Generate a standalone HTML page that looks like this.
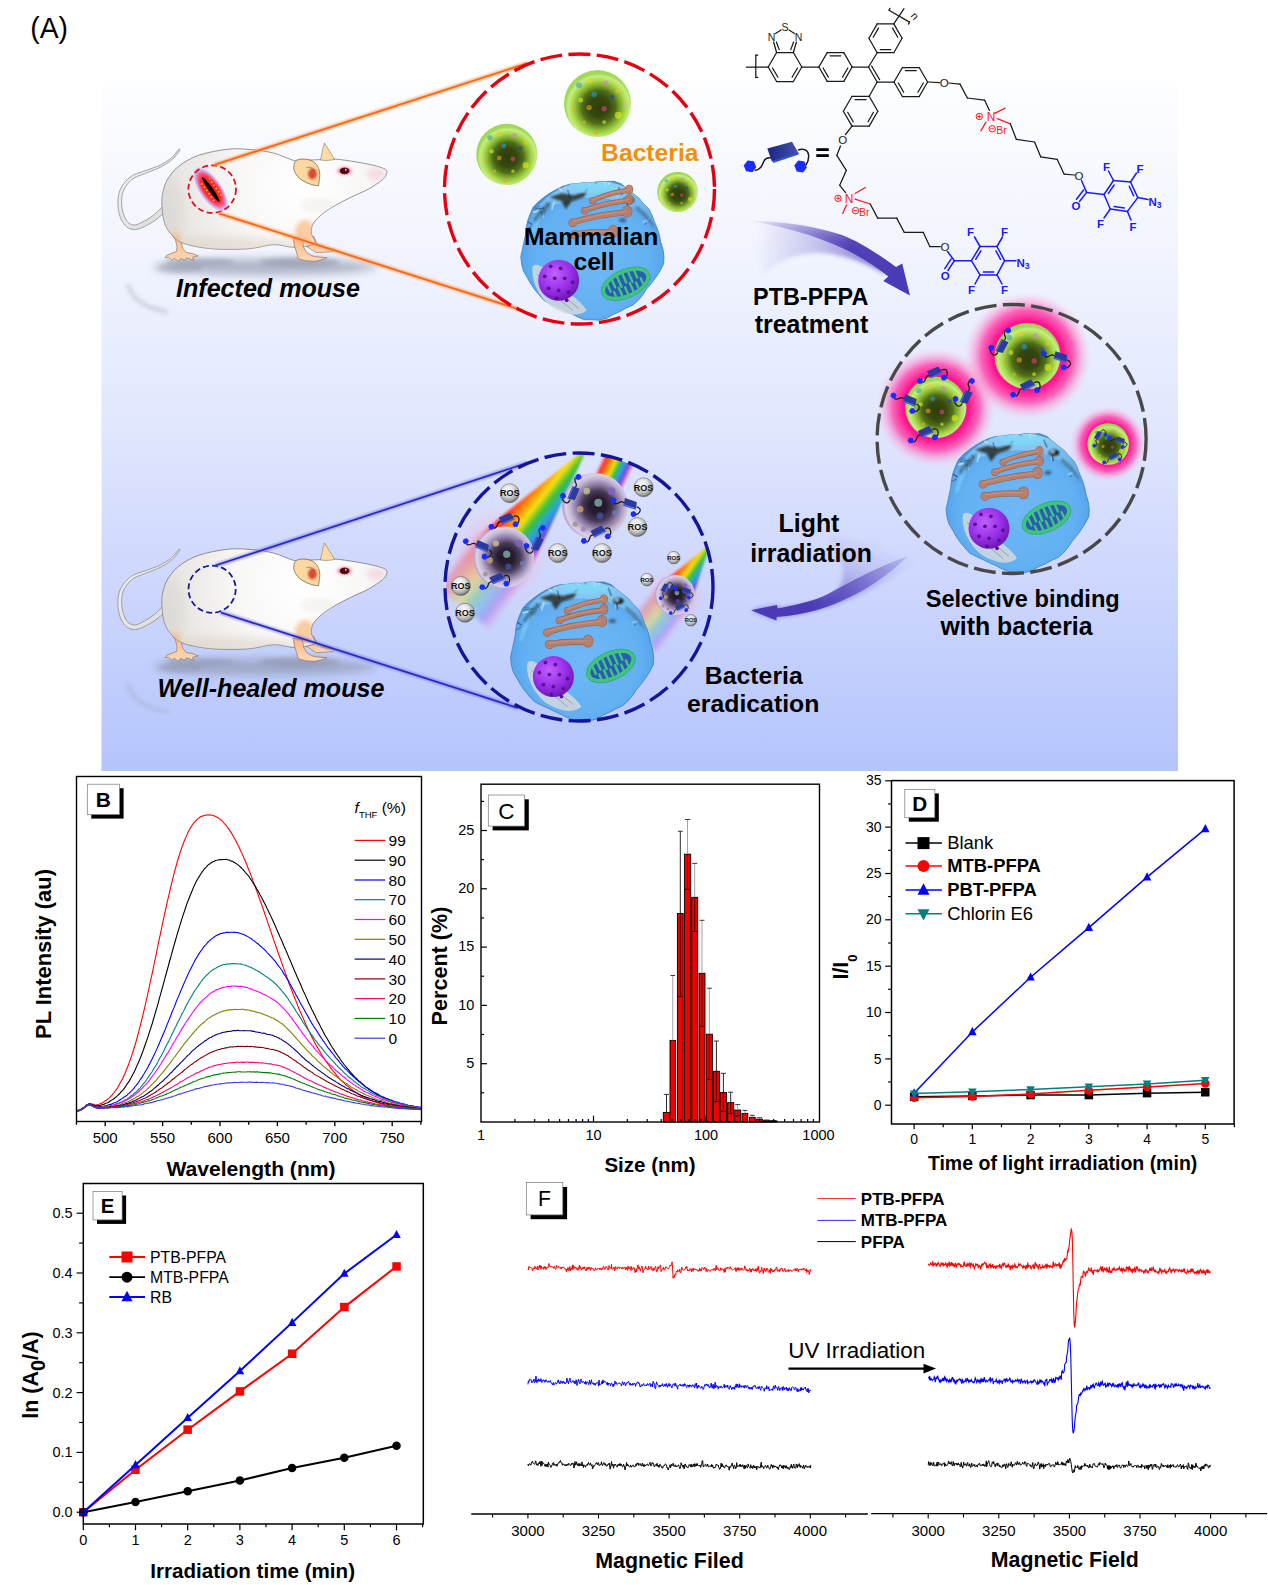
<!DOCTYPE html>
<html><head><meta charset="utf-8"><title>Figure</title>
<style>
html,body{margin:0;padding:0;background:#fff;}
#fig{position:relative;width:1268px;height:1585px;overflow:hidden;background:#fff;}
svg{display:block;font-family:"Liberation Sans", sans-serif;}
</style></head>
<body><div id="fig">
<svg width="1268" height="1585" viewBox="0 0 1268 1585" font-family="Liberation Sans, sans-serif">
<defs>
<linearGradient id="bg" x1="0" y1="0" x2="0" y2="1">
<stop offset="0" stop-color="#fcfdff"/>
<stop offset="0.25" stop-color="#f1f4fe"/>
<stop offset="0.5" stop-color="#e0e6fd"/>
<stop offset="0.75" stop-color="#cbd5fd"/>
<stop offset="1" stop-color="#b4c4fc"/>
</linearGradient>
<radialGradient id="gBact" cx="0.52" cy="0.55" r="0.5">
<stop offset="0" stop-color="#2e3e0c"/>
<stop offset="0.3" stop-color="#36480f"/>
<stop offset="0.5" stop-color="#4e6c18"/>
<stop offset="0.66" stop-color="#84b030"/>
<stop offset="0.8" stop-color="#acdc50"/>
<stop offset="0.92" stop-color="#c6ee80"/>
<stop offset="1" stop-color="#a2d858"/>
</radialGradient>
<radialGradient id="gDead" cx="0.54" cy="0.5" r="0.52">
<stop offset="0" stop-color="#1e1428"/>
<stop offset="0.25" stop-color="#281c30"/>
<stop offset="0.45" stop-color="#4a3c5a"/>
<stop offset="0.62" stop-color="#8a7aa0"/>
<stop offset="0.8" stop-color="#c4b6d4"/>
<stop offset="0.93" stop-color="#dcd2e8"/>
<stop offset="1" stop-color="#b8a8cc"/>
</radialGradient>
<radialGradient id="gHaze" cx="0.5" cy="0.5" r="0.5">
<stop offset="0" stop-color="#ff80b0" stop-opacity="0.55"/>
<stop offset="0.6" stop-color="#ffa0c8" stop-opacity="0.35"/>
<stop offset="1" stop-color="#ffc0e0" stop-opacity="0"/>
</radialGradient>
<radialGradient id="gCell" cx="0.5" cy="0.55" r="0.55">
<stop offset="0" stop-color="#70b8f6"/>
<stop offset="0.75" stop-color="#62b0f2"/>
<stop offset="0.92" stop-color="#56a4ea"/>
<stop offset="1" stop-color="#4a90d8"/>
</radialGradient>
<linearGradient id="gGlass" x1="0" y1="0" x2="0" y2="1">
<stop offset="0" stop-color="#a0dcf8" stop-opacity="0.9"/>
<stop offset="1" stop-color="#80c8f4" stop-opacity="0"/>
</linearGradient>
<radialGradient id="gPink" cx="0.5" cy="0.5" r="0.5">
<stop offset="0" stop-color="#ff0a86"/>
<stop offset="0.55" stop-color="#ff1490"/>
<stop offset="0.72" stop-color="#ff40a8" stop-opacity="0.8"/>
<stop offset="0.88" stop-color="#ff90d0" stop-opacity="0.35"/>
<stop offset="1" stop-color="#ffc0e8" stop-opacity="0"/>
</radialGradient>
<radialGradient id="gRos" cx="0.42" cy="0.35" r="0.65">
<stop offset="0" stop-color="#ffffff"/>
<stop offset="0.45" stop-color="#e0e0e0"/>
<stop offset="0.8" stop-color="#a8a8a8"/>
<stop offset="1" stop-color="#6a6a6a"/>
</radialGradient>
<radialGradient id="gNuc" cx="0.4" cy="0.35" r="0.65">
<stop offset="0" stop-color="#c060ff"/>
<stop offset="0.6" stop-color="#9a30ea"/>
<stop offset="1" stop-color="#7018b8"/>
</radialGradient>
<linearGradient id="gMouse" x1="0" y1="0" x2="0" y2="1">
<stop offset="0" stop-color="#fbfbfb"/>
<stop offset="0.6" stop-color="#f6f4f2"/>
<stop offset="1" stop-color="#e8e4e0"/>
</linearGradient>
<radialGradient id="gWound" cx="0.5" cy="0.5" r="0.5">
<stop offset="0" stop-color="#ff1020"/>
<stop offset="0.55" stop-color="#ff2838"/>
<stop offset="0.72" stop-color="#ff5080" stop-opacity="0.9"/>
<stop offset="0.86" stop-color="#b0a0ff" stop-opacity="0.7"/>
<stop offset="1" stop-color="#c0b0ff" stop-opacity="0"/>
</radialGradient>
<linearGradient id="gArrow1" x1="751" y1="225" x2="900" y2="275" gradientUnits="userSpaceOnUse">
<stop offset="0" stop-color="#5040b8" stop-opacity="0.05"/>
<stop offset="0.35" stop-color="#5040b8" stop-opacity="0.45"/>
<stop offset="0.65" stop-color="#4a3ab5" stop-opacity="0.95"/>
<stop offset="1" stop-color="#4a3ab5"/>
</linearGradient>
<linearGradient id="gArrow1f" x1="755" y1="250" x2="880" y2="262" gradientUnits="userSpaceOnUse">
<stop offset="0" stop-color="#6050c8" stop-opacity="0.0"/>
<stop offset="0.5" stop-color="#5a4ac4" stop-opacity="0.3"/>
<stop offset="1" stop-color="#5040b8" stop-opacity="0.7"/>
</linearGradient>
<linearGradient id="gArrow2" x1="860" y1="535" x2="830" y2="605" gradientUnits="userSpaceOnUse">
<stop offset="0" stop-color="#6050c8" stop-opacity="0.0"/>
<stop offset="0.4" stop-color="#5a4ac4" stop-opacity="0.25"/>
<stop offset="0.8" stop-color="#5040b8" stop-opacity="0.7"/>
<stop offset="1" stop-color="#4a3ab5" stop-opacity="0.9"/>
</linearGradient>
<linearGradient id="gArrow2b" x1="915" y1="555" x2="770" y2="612" gradientUnits="userSpaceOnUse">
<stop offset="0" stop-color="#5040b8" stop-opacity="0.1"/>
<stop offset="0.4" stop-color="#5040b8" stop-opacity="0.6"/>
<stop offset="0.75" stop-color="#4a3ab5" stop-opacity="1"/>
<stop offset="1" stop-color="#4a3ab5"/>
</linearGradient>
<linearGradient id="gOrange" x1="0" y1="0" x2="1" y2="0">
<stop offset="0" stop-color="#ff7020"/>
<stop offset="1" stop-color="#ff8a40"/>
</linearGradient>
<linearGradient id="gRain" x1="0" y1="1" x2="0" y2="0">
<stop offset="0" stop-color="#ff3060" stop-opacity="0"/>
<stop offset="0.12" stop-color="#ff2020"/>
<stop offset="0.28" stop-color="#ff8000"/>
<stop offset="0.42" stop-color="#ffe000"/>
<stop offset="0.56" stop-color="#30c030"/>
<stop offset="0.7" stop-color="#20a0e0"/>
<stop offset="0.84" stop-color="#6040e0"/>
<stop offset="0.94" stop-color="#e040c0" stop-opacity="0.7"/>
<stop offset="1" stop-color="#e040c0" stop-opacity="0"/>
</linearGradient>
<filter id="blur2" x="-50%" y="-50%" width="200%" height="200%"><feGaussianBlur stdDeviation="2"/></filter>
<filter id="blur4" x="-50%" y="-50%" width="200%" height="200%"><feGaussianBlur stdDeviation="4"/></filter>
<filter id="blur1" x="-50%" y="-50%" width="200%" height="200%"><feGaussianBlur stdDeviation="1"/></filter>
<g id="mouse">
<radialGradient id="gMBody" cx="300" cy="185" r="150" gradientUnits="userSpaceOnUse"><stop offset="0" stop-color="#ffffff"/><stop offset="0.45" stop-color="#f8f7f6"/><stop offset="0.8" stop-color="#e9e6e3"/><stop offset="1" stop-color="#dedad6"/></radialGradient>
<linearGradient id="gTail" x1="0" y1="0" x2="1" y2="1"><stop offset="0" stop-color="#f4f4f4"/><stop offset="1" stop-color="#d8d8d8"/></linearGradient>
<linearGradient id="gLeg" x1="0" y1="0" x2="0" y2="1"><stop offset="0" stop-color="#f8b888"/><stop offset="1" stop-color="#fbd8b8"/></linearGradient>
<ellipse cx="265" cy="267" rx="112" ry="8.5" fill="#8890a6" opacity="0.6" filter="url(#blur4)"/>
<ellipse cx="300" cy="262" rx="40" ry="5" fill="#8890a6" opacity="0.5" filter="url(#blur2)"/>
<ellipse cx="200" cy="262" rx="35" ry="4" fill="#8890a6" opacity="0.45" filter="url(#blur2)"/>
<path d="M128,284 C131,298 144,308 168,312" stroke="#a4aabc" stroke-width="4" fill="none" opacity="0.45" filter="url(#blur2)"/>
<ellipse cx="180" cy="268" rx="22" ry="5" fill="#8890a6" opacity="0.35" filter="url(#blur2)"/>
<path d="M164.5,204.5 L163.9,205.1 L163.2,205.9 L162.3,206.8 L161.3,207.9 L160.2,208.9 L159.0,210.1 L157.9,211.2 L156.8,212.3 L155.7,213.2 L154.7,214.1 L153.8,214.8 L152.9,215.6 L151.9,216.3 L151.0,217.0 L150.1,217.6 L149.1,218.2 L148.2,218.8 L147.2,219.4 L146.2,220.0 L145.2,220.5 L144.2,221.1 L143.1,221.7 L142.0,222.3 L140.9,222.9 L139.8,223.4 L138.8,223.9 L137.8,224.3 L136.9,224.6 L136.0,224.8 L135.2,224.9 L134.5,224.9 L133.7,224.9 L132.9,224.8 L132.2,224.7 L131.4,224.4 L130.7,224.2 L130.0,223.8 L129.4,223.4 L128.7,222.9 L128.1,222.4 L127.5,221.7 L126.9,221.0 L126.3,220.1 L125.7,219.2 L125.2,218.1 L124.6,217.0 L124.2,215.9 L123.7,214.7 L123.3,213.5 L122.9,212.3 L122.6,211.1 L122.3,209.8 L122.1,208.4 L121.9,207.0 L121.8,205.5 L121.7,204.1 L121.6,202.6 L121.6,201.2 L121.6,199.9 L121.7,198.7 L121.8,197.5 L121.9,196.3 L122.1,195.2 L122.3,194.2 L122.6,193.2 L122.9,192.2 L123.2,191.2 L123.6,190.2 L124.1,189.2 L124.6,188.2 L125.2,187.2 L125.9,186.2 L126.6,185.2 L127.4,184.1 L128.2,183.1 L129.1,182.1 L130.0,181.2 L130.9,180.3 L131.9,179.5 L132.9,178.7 L134.0,178.0 L135.1,177.4 L136.3,176.8 L137.5,176.3 L138.8,175.8 L140.2,175.3 L141.5,174.8 L142.9,174.3 L144.4,173.7 L145.8,173.2 L147.1,172.6 L148.6,172.1 L150.0,171.5 L151.5,171.0 L153.0,170.4 L154.4,169.9 L155.9,169.3 L157.4,168.7 L158.8,168.0 L160.2,167.3 L161.5,166.6 L162.8,165.9 L164.1,165.2 L165.4,164.4 L166.7,163.6 L167.9,162.8 L169.1,162.0 L170.2,161.1 L171.3,160.2 L172.4,159.4 L173.4,158.4 L174.4,157.3 L175.3,156.2 L176.2,155.1 L177.1,154.0 L177.9,152.9 L178.6,151.9 L179.2,151.0 L179.7,150.3 L180.2,149.7 L179.0,148.9 L178.6,149.4 L178.0,150.2 L177.4,151.0 L176.6,152.0 L175.8,153.1 L175.0,154.1 L174.1,155.2 L173.2,156.2 L172.2,157.2 L171.2,158.0 L170.2,158.9 L169.2,159.7 L168.0,160.4 L166.9,161.2 L165.7,162.0 L164.4,162.7 L163.1,163.4 L161.8,164.1 L160.5,164.8 L159.2,165.5 L157.9,166.1 L156.5,166.6 L155.1,167.2 L153.6,167.7 L152.2,168.2 L150.7,168.8 L149.2,169.3 L147.7,169.8 L146.3,170.3 L144.8,170.8 L143.5,171.3 L142.1,171.8 L140.7,172.3 L139.3,172.7 L137.9,173.2 L136.5,173.7 L135.1,174.2 L133.8,174.8 L132.5,175.5 L131.3,176.3 L130.1,177.1 L129.0,178.1 L127.9,179.0 L126.9,180.0 L125.9,181.1 L124.9,182.2 L124.1,183.3 L123.2,184.4 L122.5,185.5 L121.8,186.6 L121.2,187.7 L120.6,188.8 L120.1,189.9 L119.7,191.0 L119.3,192.2 L119.0,193.4 L118.7,194.6 L118.4,195.8 L118.3,197.0 L118.1,198.3 L118.0,199.7 L117.9,201.2 L117.9,202.7 L117.9,204.2 L118.0,205.8 L118.1,207.4 L118.3,208.9 L118.5,210.4 L118.8,211.9 L119.1,213.3 L119.4,214.7 L119.9,216.0 L120.3,217.4 L120.9,218.7 L121.5,220.0 L122.1,221.2 L122.8,222.4 L123.5,223.5 L124.2,224.5 L125.1,225.4 L125.9,226.2 L126.9,227.0 L127.8,227.6 L128.8,228.2 L129.9,228.6 L131.0,229.0 L132.1,229.2 L133.2,229.4 L134.4,229.5 L135.6,229.5 L136.8,229.3 L138.1,229.1 L139.3,228.7 L140.6,228.2 L141.8,227.7 L143.0,227.2 L144.2,226.6 L145.4,226.0 L146.5,225.4 L147.6,224.9 L148.6,224.3 L149.7,223.7 L150.8,223.1 L151.8,222.5 L152.8,221.8 L153.9,221.2 L154.9,220.4 L156.0,219.7 L157.0,218.9 L158.1,218.1 L159.2,217.2 L160.4,216.2 L161.6,215.1 L162.8,214.0 L164.0,212.8 L165.1,211.7 L166.2,210.7 L167.1,209.8 L167.9,209.1 L168.5,208.5 Z" fill="url(#gTail)" stroke="#8a8a8a" stroke-width="0.8"/>
<path d="M170.5,233 L175.5,240 L177,246.5 L176.5,251.5 L171,253.5 L166.5,255.5 L165.2,257.6 L168.5,257.4 L171.8,260.3 L174.2,258.2 L178.5,261.4 L180.3,258.3 L185.1,260.3 L186.2,257.8 L193.9,260.3 L192.5,257.2 L198.3,255.9 L193,253.8 L186,252.3 L182.5,248 L181.5,242.5 Z" fill="url(#gLeg)" stroke="#8a6a50" stroke-width="0.6" stroke-linejoin="round"/>
<path d="M303,238 L306,246 L316.2,252.6 L325,252.2 L332.8,251.6 L334.8,249.3 L329,248.6 L322,247.2 L317,243.5 L313.5,236 Z" fill="url(#gLeg)" stroke="#8a6a50" stroke-width="0.6" stroke-linejoin="round"/>
<path d="M227.0,149.3 C235.6,148.3 242.2,148.9 250.0,149.5 C257.8,150.1 266.2,151.2 273.7,153.1 C281.2,155.0 289.3,159.6 295.0,160.8 C300.7,162.0 303.7,160.4 308.0,160.2 C312.3,160.0 316.6,159.8 321.0,159.6 C325.4,159.4 328.7,158.6 334.6,159.0 C340.5,159.4 349.9,160.9 356.5,162.0 C363.1,163.1 369.4,164.3 374.2,165.5 C379.0,166.7 383.4,168.0 385.5,169.4 C387.6,170.8 387.1,172.1 386.6,173.8 C386.1,175.5 385.6,177.1 382.5,179.7 C379.4,182.3 373.6,186.2 368.3,189.2 C363.0,192.1 356.5,194.4 350.6,197.4 C344.7,200.4 337.7,203.9 332.8,206.9 C327.9,209.9 324.4,212.2 321.0,215.2 C317.6,218.1 314.3,221.4 312.7,224.6 C311.1,227.8 311.1,231.0 311.5,234.1 C311.9,237.2 316.2,240.9 315.0,243.0 C313.8,245.1 307.9,245.8 304.0,246.5 C300.1,247.2 296.4,247.4 291.4,247.1 C286.3,246.8 280.6,244.3 273.7,244.6 C266.8,244.8 258.9,247.8 250.0,248.6 C241.1,249.4 229.0,249.5 220.4,249.2 C211.8,248.9 204.7,248.1 198.3,247.0 C191.9,245.9 186.2,244.6 181.8,242.6 C177.4,240.6 174.4,237.5 171.8,234.9 C169.2,232.3 167.8,230.3 166.3,227.2 C164.8,224.1 163.7,220.3 163.0,216.1 C162.3,211.9 161.9,205.9 161.9,201.8 C161.9,197.8 162.1,195.5 163.0,191.8 C163.9,188.1 164.8,183.9 167.4,179.7 C170.0,175.5 173.3,170.4 178.5,166.4 C183.7,162.4 190.2,158.2 198.3,155.4 C206.4,152.6 218.4,150.3 227.0,149.3 Z" fill="url(#gMBody)" stroke="#505050" stroke-width="0.6"/>
<clipPath id="clipMouse"><path d="M227.0,149.3 C235.6,148.3 242.2,148.9 250.0,149.5 C257.8,150.1 266.2,151.2 273.7,153.1 C281.2,155.0 289.3,159.6 295.0,160.8 C300.7,162.0 303.7,160.4 308.0,160.2 C312.3,160.0 316.6,159.8 321.0,159.6 C325.4,159.4 328.7,158.6 334.6,159.0 C340.5,159.4 349.9,160.9 356.5,162.0 C363.1,163.1 369.4,164.3 374.2,165.5 C379.0,166.7 383.4,168.0 385.5,169.4 C387.6,170.8 387.1,172.1 386.6,173.8 C386.1,175.5 385.6,177.1 382.5,179.7 C379.4,182.3 373.6,186.2 368.3,189.2 C363.0,192.1 356.5,194.4 350.6,197.4 C344.7,200.4 337.7,203.9 332.8,206.9 C327.9,209.9 324.4,212.2 321.0,215.2 C317.6,218.1 314.3,221.4 312.7,224.6 C311.1,227.8 311.1,231.0 311.5,234.1 C311.9,237.2 316.2,240.9 315.0,243.0 C313.8,245.1 307.9,245.8 304.0,246.5 C300.1,247.2 296.4,247.4 291.4,247.1 C286.3,246.8 280.6,244.3 273.7,244.6 C266.8,244.8 258.9,247.8 250.0,248.6 C241.1,249.4 229.0,249.5 220.4,249.2 C211.8,248.9 204.7,248.1 198.3,247.0 C191.9,245.9 186.2,244.6 181.8,242.6 C177.4,240.6 174.4,237.5 171.8,234.9 C169.2,232.3 167.8,230.3 166.3,227.2 C164.8,224.1 163.7,220.3 163.0,216.1 C162.3,211.9 161.9,205.9 161.9,201.8 C161.9,197.8 162.1,195.5 163.0,191.8 C163.9,188.1 164.8,183.9 167.4,179.7 C170.0,175.5 173.3,170.4 178.5,166.4 C183.7,162.4 190.2,158.2 198.3,155.4 C206.4,152.6 218.4,150.3 227.0,149.3 Z"/></clipPath>
<g clip-path="url(#clipMouse)">
<ellipse cx="230" cy="246" rx="70" ry="9" fill="#ddd0c4" opacity="0.55" filter="url(#blur4)"/>
<ellipse cx="172" cy="210" rx="12" ry="30" fill="#d8d4d0" opacity="0.5" filter="url(#blur4)"/>
<ellipse cx="305" cy="232" rx="10" ry="12" fill="#f8b880" opacity="0.7" filter="url(#blur2)"/>
<ellipse cx="174" cy="238" rx="7" ry="6" fill="#f8b880" opacity="0.6" filter="url(#blur2)"/>
<ellipse cx="318" cy="205" rx="18" ry="7" fill="#ece4dc" opacity="0.35" filter="url(#blur2)"/>
<ellipse cx="376" cy="174" rx="10" ry="6" fill="#f4d4dc" opacity="0.7" filter="url(#blur2)"/>
</g>
<path d="M293,238 L294.5,246 L298.5,258.9 L305.6,260.7 L313.9,261.3 L321,260.1 L326.9,257.8 L320,257.2 L313,256.2 L307,253 L303.5,247 L302.5,240 Z" fill="url(#gLeg)" stroke="#8a6a50" stroke-width="0.6" stroke-linejoin="round"/>
<path d="M320.5,160 C322,153 323,147 324.5,143 C327.5,148 331.5,154 334.6,159.4 C330,160.5 325,160.8 320.5,160 Z" fill="#fbdca8" stroke="#706050" stroke-width="0.5"/>
<path d="M296,160.5 C300,158.5 306,158.6 311,160.5 C317,163 320,169 319.8,175.5 C319.5,180 318.6,184 318.6,185.6 C313,185.8 306,183 301,179.5 C296,176 293.5,171 293.8,166.5 C294,163.5 294.8,161.8 296,160.5 Z" fill="#fbd8a0" stroke="#504040" stroke-width="0.6"/>
<ellipse cx="312.5" cy="173.8" rx="4.5" ry="5.5" fill="#d83020" opacity="0.85" filter="url(#blur1)"/>
<path d="M306,168 C309,166 313,168 314,171" stroke="#504040" stroke-width="0.5" fill="none"/>
<ellipse cx="344.6" cy="171" rx="8" ry="4.6" fill="#e8a0b8" opacity="0.75" filter="url(#blur1)"/>
<ellipse cx="344.6" cy="170.9" rx="5" ry="3.4" fill="#7a0620"/>
<ellipse cx="344.2" cy="171.2" rx="3.4" ry="2.4" fill="#4a0010"/>
<circle cx="345.8" cy="169.8" r="0.9" fill="#fff"/>
</g><g id="cellA">
<clipPath id="clip_cellA"><path d="M71.3,0.0 L72.3,7.4 L71.8,15.0 L68.3,21.7 L64.2,28.0 L59.9,33.9 L55.2,39.3 L51.4,45.3 L46.7,50.9 L41.3,55.7 L34.6,58.7 L28.3,62.2 L21.6,65.1 L15.0,69.0 L7.6,70.9 L0.0,70.4 L-7.5,70.3 L-14.6,67.4 L-21.2,63.9 L-27.7,61.0 L-34.1,57.9 L-40.7,54.9 L-47.3,51.5 L-52.2,46.1 L-56.9,40.5 L-61.0,34.5 L-64.5,28.2 L-68.3,21.7 L-70.1,14.6 L-70.9,7.3 L-69.3,0.0 L-67.8,-7.0 L-66.3,-13.8 L-65.6,-20.9 L-64.2,-28.0 L-61.7,-34.9 L-58.7,-41.8 L-53.6,-47.3 L-47.8,-52.0 L-41.7,-56.3 L-35.3,-59.9 L-28.7,-63.1 L-21.6,-65.2 L-14.2,-65.7 L-7.2,-66.8 L-0.0,-66.6 L7.3,-67.9 L14.7,-67.8 L22.5,-68.0 L29.7,-65.4 L35.6,-60.4 L41.3,-55.7 L47.2,-51.3 L51.8,-45.7 L57.1,-40.6 L60.3,-34.1 L62.8,-27.4 L65.6,-20.9 L67.7,-14.1 L69.1,-7.1 Z"/></clipPath>
<path d="M71.3,0.0 L72.3,7.4 L71.8,15.0 L68.3,21.7 L64.2,28.0 L59.9,33.9 L55.2,39.3 L51.4,45.3 L46.7,50.9 L41.3,55.7 L34.6,58.7 L28.3,62.2 L21.6,65.1 L15.0,69.0 L7.6,70.9 L0.0,70.4 L-7.5,70.3 L-14.6,67.4 L-21.2,63.9 L-27.7,61.0 L-34.1,57.9 L-40.7,54.9 L-47.3,51.5 L-52.2,46.1 L-56.9,40.5 L-61.0,34.5 L-64.5,28.2 L-68.3,21.7 L-70.1,14.6 L-70.9,7.3 L-69.3,0.0 L-67.8,-7.0 L-66.3,-13.8 L-65.6,-20.9 L-64.2,-28.0 L-61.7,-34.9 L-58.7,-41.8 L-53.6,-47.3 L-47.8,-52.0 L-41.7,-56.3 L-35.3,-59.9 L-28.7,-63.1 L-21.6,-65.2 L-14.2,-65.7 L-7.2,-66.8 L-0.0,-66.6 L7.3,-67.9 L14.7,-67.8 L22.5,-68.0 L29.7,-65.4 L35.6,-60.4 L41.3,-55.7 L47.2,-51.3 L51.8,-45.7 L57.1,-40.6 L60.3,-34.1 L62.8,-27.4 L65.6,-20.9 L67.7,-14.1 L69.1,-7.1 Z" fill="url(#gCell)" stroke="#3f7fb8" stroke-width="0.8"/>
<g clip-path="url(#clip_cellA)">
<path d="M-66,-18 C-60,-42 -40,-62 -10,-68 C20,-72 48,-60 62,-40 C66,-32 68,-24 68,-16 C56,-34 40,-46 18,-50 C-6,-54 -30,-50 -48,-38 C-56,-32 -62,-26 -66,-18 Z" fill="url(#gGlass)"/>
<line x1="18.9" y1="-61.0" x2="26.5" y2="-62.6" stroke="#9adcf8" stroke-width="1.6" opacity="0.55"/>
<line x1="4.8" y1="-65.3" x2="0.9" y2="-71.9" stroke="#1a2a38" stroke-width="1.9" opacity="0.55"/>
<line x1="-48.2" y1="-34.8" x2="-51.6" y2="-37.8" stroke="#3a7aa0" stroke-width="1.1" opacity="0.55"/>
<line x1="31.3" y1="-49.4" x2="35.4" y2="-49.9" stroke="#e8fbff" stroke-width="1.0" opacity="0.55"/>
<line x1="36.0" y1="-40.5" x2="34.9" y2="-47.2" stroke="#1a2a38" stroke-width="2.0" opacity="0.55"/>
<line x1="-60.2" y1="-22.8" x2="-68.1" y2="-19.1" stroke="#2a5a78" stroke-width="1.1" opacity="0.55"/>
<line x1="54.8" y1="-26.0" x2="57.6" y2="-32.5" stroke="#9adcf8" stroke-width="1.0" opacity="0.55"/>
<line x1="52.7" y1="-24.5" x2="55.2" y2="-26.3" stroke="#2a5a78" stroke-width="1.1" opacity="0.55"/>
<line x1="-26.0" y1="-59.7" x2="-27.2" y2="-66.1" stroke="#9adcf8" stroke-width="1.2" opacity="0.55"/>
<line x1="-29.2" y1="-58.2" x2="-33.8" y2="-61.8" stroke="#e8fbff" stroke-width="1.4" opacity="0.55"/>
<line x1="-39.9" y1="-39.4" x2="-37.5" y2="-47.7" stroke="#c8f0ff" stroke-width="1.8" opacity="0.55"/>
<line x1="-59.7" y1="-24.8" x2="-64.0" y2="-27.6" stroke="#1a2a38" stroke-width="1.3" opacity="0.55"/>
<line x1="30.1" y1="-54.2" x2="26.7" y2="-62.2" stroke="#2a5a78" stroke-width="1.9" opacity="0.55"/>
<line x1="50.7" y1="-27.1" x2="55.4" y2="-29.2" stroke="#b8ecff" stroke-width="1.4" opacity="0.55"/>
<line x1="14.0" y1="-63.0" x2="12.6" y2="-68.0" stroke="#e8fbff" stroke-width="1.9" opacity="0.55"/>
<line x1="-48.3" y1="-31.1" x2="-48.3" y2="-37.8" stroke="#c8f0ff" stroke-width="1.1" opacity="0.55"/>
<line x1="25.4" y1="-47.1" x2="25.6" y2="-54.2" stroke="#b8ecff" stroke-width="0.9" opacity="0.55"/>
<line x1="-47.7" y1="-41.2" x2="-56.6" y2="-40.3" stroke="#1a2a38" stroke-width="0.9" opacity="0.55"/>
<line x1="16.3" y1="-64.8" x2="18.6" y2="-66.9" stroke="#c8f0ff" stroke-width="1.8" opacity="0.55"/>
<line x1="-6.4" y1="-58.4" x2="-3.8" y2="-60.5" stroke="#1a2a38" stroke-width="1.8" opacity="0.55"/>
<line x1="-21.8" y1="-50.8" x2="-24.0" y2="-59.4" stroke="#2a5a78" stroke-width="1.6" opacity="0.55"/>
<line x1="34.8" y1="-40.9" x2="34.0" y2="-46.5" stroke="#b8ecff" stroke-width="1.3" opacity="0.55"/>
<line x1="-51.3" y1="-42.7" x2="-58.0" y2="-42.0" stroke="#3a7aa0" stroke-width="1.3" opacity="0.55"/>
<line x1="-1.8" y1="-63.6" x2="-4.8" y2="-68.7" stroke="#e8fbff" stroke-width="1.9" opacity="0.55"/>
<line x1="-52.9" y1="-38.1" x2="-59.0" y2="-37.2" stroke="#e8fbff" stroke-width="1.8" opacity="0.55"/>
<line x1="-42.2" y1="-42.5" x2="-45.9" y2="-47.3" stroke="#3a7aa0" stroke-width="1.2" opacity="0.55"/>
<g filter="url(#blur1)">
<path d="M-42,-52 L-30,-56 L-18,-54 L-4,-58 L-8,-52 L-20,-48 L-26,-40 L-30,-48 Z" fill="#1c1408" opacity="0.72"/>
<path d="M-58,-30 C-52,-40 -46,-46 -40,-48 C-44,-40 -48,-34 -56,-26 Z" fill="#1a2a30" opacity="0.5"/>
<ellipse cx="37" cy="-49" rx="5.5" ry="3.2" fill="#080808" opacity="0.8"/>
<ellipse cx="35.5" cy="-50" rx="1.6" ry="1" fill="#ffffff" opacity="0.9"/>
<ellipse cx="31" cy="-29" rx="3.5" ry="2.2" fill="#102030" opacity="0.5"/>
<path d="M-20,-66 C-6,-70 12,-68 28,-62 C20,-58 8,-56 -4,-57 C-12,-58 -18,-62 -20,-66 Z" fill="#7ad8fa" opacity="0.7"/>
<path d="M-62,-10 C-60,-22 -56,-30 -50,-36 C-52,-26 -56,-18 -60,-8 Z" fill="#80d8f8" opacity="0.6"/>
<path d="M44,-44 C54,-38 60,-30 64,-20 C58,-26 52,-34 44,-40 Z" fill="#3a4a58" opacity="0.5"/>
</g>
</g>
<g transform="translate(15,-9)" opacity="0.92">
<path d="M-14,-40 Q3.2,-47.9 22,-50" stroke="#94583f" stroke-width="4.9" stroke-linecap="round" fill="none"/><circle cx="-14" cy="-39.5" r="3.5" fill="#94583f"/><ellipse cx="22.5" cy="-50.8" rx="4.1" ry="4.8" fill="#94583f"/><path d="M-14,-40 Q3.2,-47.9 22,-50" stroke="#bc7c64" stroke-width="3.8" stroke-linecap="round" fill="none"/><circle cx="-14" cy="-39.5" r="3.0" fill="#bc7c64"/><ellipse cx="22.5" cy="-50.8" rx="3.6" ry="4.3" fill="#bc7c64"/><path d="M-14,-40 Q3.2,-47.9 22,-50" stroke="#dca48c" stroke-width="0.7" fill="none" opacity="0.8" transform="translate(0,-0.8)"/>
<path d="M-22,-30 Q-0.7,-37.9 22,-40" stroke="#94583f" stroke-width="5.3" stroke-linecap="round" fill="none"/><circle cx="-22" cy="-29.5" r="3.7" fill="#94583f"/><ellipse cx="22.5" cy="-40.8" rx="4.4" ry="5.2" fill="#94583f"/><path d="M-22,-30 Q-0.7,-37.9 22,-40" stroke="#bc7c64" stroke-width="4.2" stroke-linecap="round" fill="none"/><circle cx="-22" cy="-29.5" r="3.2" fill="#bc7c64"/><ellipse cx="22.5" cy="-40.8" rx="3.9" ry="4.7" fill="#bc7c64"/><path d="M-22,-30 Q-0.7,-37.9 22,-40" stroke="#dca48c" stroke-width="0.7" fill="none" opacity="0.8" transform="translate(0,-0.8)"/>
<path d="M-34,-18 Q-7.5,-25.9 20,-28" stroke="#94583f" stroke-width="6.1" stroke-linecap="round" fill="none"/><circle cx="-34" cy="-17.5" r="4.3" fill="#94583f"/><ellipse cx="20.5" cy="-28.8" rx="5.2" ry="6.1" fill="#94583f"/><path d="M-34,-18 Q-7.5,-25.9 20,-28" stroke="#bc7c64" stroke-width="5.0" stroke-linecap="round" fill="none"/><circle cx="-34" cy="-17.5" r="3.8" fill="#bc7c64"/><ellipse cx="20.5" cy="-28.8" rx="4.7" ry="5.6" fill="#bc7c64"/><path d="M-34,-18 Q-7.5,-25.9 20,-28" stroke="#dca48c" stroke-width="0.7" fill="none" opacity="0.8" transform="translate(0,-1.0)"/>
<path d="M-32,-6 Q-13.1,-9.0 6,-8" stroke="#94583f" stroke-width="6.3" stroke-linecap="round" fill="none"/><circle cx="-32" cy="-5.5" r="4.5" fill="#94583f"/><ellipse cx="6.5" cy="-8.8" rx="5.4" ry="6.4" fill="#94583f"/><path d="M-32,-6 Q-13.1,-9.0 6,-8" stroke="#bc7c64" stroke-width="5.2" stroke-linecap="round" fill="none"/><circle cx="-32" cy="-5.5" r="4.0" fill="#bc7c64"/><ellipse cx="6.5" cy="-8.8" rx="4.9" ry="5.9" fill="#bc7c64"/><path d="M-32,-6 Q-13.1,-9.0 6,-8" stroke="#dca48c" stroke-width="0.7" fill="none" opacity="0.8" transform="translate(0,-1.0)"/>
</g>
<path d="M-59,17 C-53,11 -43,23 -33,35 C-23,45 -11,51 -5,61 C-13,69 -29,65 -41,57 C-53,47 -61,31 -59,17 Z" fill="#d4d8de" opacity="0.85"/>
<path d="M-55,25 L-13,59 M-51,35 L-19,61" stroke="#8a8070" stroke-width="1" opacity="0.6"/>
<circle cx="-33" cy="31" r="20.5" fill="url(#gNuc)"/>
<circle cx="-41" cy="17" r="1.9" fill="#5a1090"/>
<circle cx="-31" cy="19" r="1.9" fill="#5a1090"/>
<circle cx="-47" cy="27" r="1.9" fill="#5a1090"/>
<circle cx="-37" cy="29" r="1.9" fill="#5a1090"/>
<circle cx="-27" cy="29" r="1.9" fill="#5a1090"/>
<circle cx="-19" cy="33" r="1.9" fill="#5a1090"/>
<circle cx="-43" cy="39" r="1.9" fill="#5a1090"/>
<circle cx="-33" cy="41" r="1.9" fill="#5a1090"/>
<circle cx="-23" cy="43" r="1.9" fill="#5a1090"/>
<circle cx="-35" cy="49" r="1.9" fill="#5a1090"/>
<circle cx="-25" cy="51" r="1.9" fill="#5a1090"/>
<g transform="translate(34,34.5) rotate(-24)"><ellipse rx="26" ry="14.2" fill="#40c480" stroke="#30a870" stroke-width="0.8"/><ellipse rx="22" ry="10.4" fill="#2a5cb4"/><path d="M-17,-7 L-17,1 M-11,-10 L-11,-1 M-5,-10 L-5,1 M1,-10 L1,-1 M7,-10 L7,1 M13,-9 L13,-1 M-14,10 L-14,3 M-8,10 L-8,1 M-2,10 L-2,3 M4,10 L4,1 M10,10 L10,3 M16,7 L16,1" stroke="#40c480" stroke-width="2.4" stroke-linecap="round"/></g>
</g><g id="cellB">
<clipPath id="clip_cellB"><path d="M71.3,0.0 L72.3,7.4 L71.8,15.0 L68.3,21.7 L64.2,28.0 L59.9,33.9 L55.2,39.3 L51.4,45.3 L46.7,50.9 L41.3,55.7 L34.6,58.7 L28.3,62.2 L21.6,65.1 L15.0,69.0 L7.6,70.9 L0.0,70.4 L-7.5,70.3 L-14.6,67.4 L-21.2,63.9 L-27.7,61.0 L-34.1,57.9 L-40.7,54.9 L-47.3,51.5 L-52.2,46.1 L-56.9,40.5 L-61.0,34.5 L-64.5,28.2 L-68.3,21.7 L-70.1,14.6 L-70.9,7.3 L-69.3,0.0 L-67.8,-7.0 L-66.3,-13.8 L-65.6,-20.9 L-64.2,-28.0 L-61.7,-34.9 L-58.7,-41.8 L-53.6,-47.3 L-47.8,-52.0 L-41.7,-56.3 L-35.3,-59.9 L-28.7,-63.1 L-21.6,-65.2 L-14.2,-65.7 L-7.2,-66.8 L-0.0,-66.6 L7.3,-67.9 L14.7,-67.8 L22.5,-68.0 L29.7,-65.4 L35.6,-60.4 L41.3,-55.7 L47.2,-51.3 L51.8,-45.7 L57.1,-40.6 L60.3,-34.1 L62.8,-27.4 L65.6,-20.9 L67.7,-14.1 L69.1,-7.1 Z"/></clipPath>
<path d="M71.3,0.0 L72.3,7.4 L71.8,15.0 L68.3,21.7 L64.2,28.0 L59.9,33.9 L55.2,39.3 L51.4,45.3 L46.7,50.9 L41.3,55.7 L34.6,58.7 L28.3,62.2 L21.6,65.1 L15.0,69.0 L7.6,70.9 L0.0,70.4 L-7.5,70.3 L-14.6,67.4 L-21.2,63.9 L-27.7,61.0 L-34.1,57.9 L-40.7,54.9 L-47.3,51.5 L-52.2,46.1 L-56.9,40.5 L-61.0,34.5 L-64.5,28.2 L-68.3,21.7 L-70.1,14.6 L-70.9,7.3 L-69.3,0.0 L-67.8,-7.0 L-66.3,-13.8 L-65.6,-20.9 L-64.2,-28.0 L-61.7,-34.9 L-58.7,-41.8 L-53.6,-47.3 L-47.8,-52.0 L-41.7,-56.3 L-35.3,-59.9 L-28.7,-63.1 L-21.6,-65.2 L-14.2,-65.7 L-7.2,-66.8 L-0.0,-66.6 L7.3,-67.9 L14.7,-67.8 L22.5,-68.0 L29.7,-65.4 L35.6,-60.4 L41.3,-55.7 L47.2,-51.3 L51.8,-45.7 L57.1,-40.6 L60.3,-34.1 L62.8,-27.4 L65.6,-20.9 L67.7,-14.1 L69.1,-7.1 Z" fill="url(#gCell)" stroke="#3f7fb8" stroke-width="0.8"/>
<g clip-path="url(#clip_cellB)">
<path d="M-66,-18 C-60,-42 -40,-62 -10,-68 C20,-72 48,-60 62,-40 C66,-32 68,-24 68,-16 C56,-34 40,-46 18,-50 C-6,-54 -30,-50 -48,-38 C-56,-32 -62,-26 -66,-18 Z" fill="url(#gGlass)"/>
<line x1="18.9" y1="-61.0" x2="26.5" y2="-62.6" stroke="#9adcf8" stroke-width="1.6" opacity="0.55"/>
<line x1="4.8" y1="-65.3" x2="0.9" y2="-71.9" stroke="#1a2a38" stroke-width="1.9" opacity="0.55"/>
<line x1="-48.2" y1="-34.8" x2="-51.6" y2="-37.8" stroke="#3a7aa0" stroke-width="1.1" opacity="0.55"/>
<line x1="31.3" y1="-49.4" x2="35.4" y2="-49.9" stroke="#e8fbff" stroke-width="1.0" opacity="0.55"/>
<line x1="36.0" y1="-40.5" x2="34.9" y2="-47.2" stroke="#1a2a38" stroke-width="2.0" opacity="0.55"/>
<line x1="-60.2" y1="-22.8" x2="-68.1" y2="-19.1" stroke="#2a5a78" stroke-width="1.1" opacity="0.55"/>
<line x1="54.8" y1="-26.0" x2="57.6" y2="-32.5" stroke="#9adcf8" stroke-width="1.0" opacity="0.55"/>
<line x1="52.7" y1="-24.5" x2="55.2" y2="-26.3" stroke="#2a5a78" stroke-width="1.1" opacity="0.55"/>
<line x1="-26.0" y1="-59.7" x2="-27.2" y2="-66.1" stroke="#9adcf8" stroke-width="1.2" opacity="0.55"/>
<line x1="-29.2" y1="-58.2" x2="-33.8" y2="-61.8" stroke="#e8fbff" stroke-width="1.4" opacity="0.55"/>
<line x1="-39.9" y1="-39.4" x2="-37.5" y2="-47.7" stroke="#c8f0ff" stroke-width="1.8" opacity="0.55"/>
<line x1="-59.7" y1="-24.8" x2="-64.0" y2="-27.6" stroke="#1a2a38" stroke-width="1.3" opacity="0.55"/>
<line x1="30.1" y1="-54.2" x2="26.7" y2="-62.2" stroke="#2a5a78" stroke-width="1.9" opacity="0.55"/>
<line x1="50.7" y1="-27.1" x2="55.4" y2="-29.2" stroke="#b8ecff" stroke-width="1.4" opacity="0.55"/>
<line x1="14.0" y1="-63.0" x2="12.6" y2="-68.0" stroke="#e8fbff" stroke-width="1.9" opacity="0.55"/>
<line x1="-48.3" y1="-31.1" x2="-48.3" y2="-37.8" stroke="#c8f0ff" stroke-width="1.1" opacity="0.55"/>
<line x1="25.4" y1="-47.1" x2="25.6" y2="-54.2" stroke="#b8ecff" stroke-width="0.9" opacity="0.55"/>
<line x1="-47.7" y1="-41.2" x2="-56.6" y2="-40.3" stroke="#1a2a38" stroke-width="0.9" opacity="0.55"/>
<line x1="16.3" y1="-64.8" x2="18.6" y2="-66.9" stroke="#c8f0ff" stroke-width="1.8" opacity="0.55"/>
<line x1="-6.4" y1="-58.4" x2="-3.8" y2="-60.5" stroke="#1a2a38" stroke-width="1.8" opacity="0.55"/>
<line x1="-21.8" y1="-50.8" x2="-24.0" y2="-59.4" stroke="#2a5a78" stroke-width="1.6" opacity="0.55"/>
<line x1="34.8" y1="-40.9" x2="34.0" y2="-46.5" stroke="#b8ecff" stroke-width="1.3" opacity="0.55"/>
<line x1="-51.3" y1="-42.7" x2="-58.0" y2="-42.0" stroke="#3a7aa0" stroke-width="1.3" opacity="0.55"/>
<line x1="-1.8" y1="-63.6" x2="-4.8" y2="-68.7" stroke="#e8fbff" stroke-width="1.9" opacity="0.55"/>
<line x1="-52.9" y1="-38.1" x2="-59.0" y2="-37.2" stroke="#e8fbff" stroke-width="1.8" opacity="0.55"/>
<line x1="-42.2" y1="-42.5" x2="-45.9" y2="-47.3" stroke="#3a7aa0" stroke-width="1.2" opacity="0.55"/>
<g filter="url(#blur1)">
<path d="M-42,-52 L-30,-56 L-18,-54 L-4,-58 L-8,-52 L-20,-48 L-26,-40 L-30,-48 Z" fill="#1c1408" opacity="0.72"/>
<path d="M-58,-30 C-52,-40 -46,-46 -40,-48 C-44,-40 -48,-34 -56,-26 Z" fill="#1a2a30" opacity="0.5"/>
<ellipse cx="37" cy="-49" rx="5.5" ry="3.2" fill="#080808" opacity="0.8"/>
<ellipse cx="35.5" cy="-50" rx="1.6" ry="1" fill="#ffffff" opacity="0.9"/>
<ellipse cx="31" cy="-29" rx="3.5" ry="2.2" fill="#102030" opacity="0.5"/>
<path d="M-20,-66 C-6,-70 12,-68 28,-62 C20,-58 8,-56 -4,-57 C-12,-58 -18,-62 -20,-66 Z" fill="#7ad8fa" opacity="0.7"/>
<path d="M-62,-10 C-60,-22 -56,-30 -50,-36 C-52,-26 -56,-18 -60,-8 Z" fill="#80d8f8" opacity="0.6"/>
<path d="M44,-44 C54,-38 60,-30 64,-20 C58,-26 52,-34 44,-40 Z" fill="#3a4a58" opacity="0.5"/>
</g>
</g>
<g transform="translate(0,0)" opacity="0.92">
<path d="M-14,-40 Q3.2,-47.9 22,-50" stroke="#94583f" stroke-width="4.9" stroke-linecap="round" fill="none"/><circle cx="-14" cy="-39.5" r="3.5" fill="#94583f"/><ellipse cx="22.5" cy="-50.8" rx="4.1" ry="4.8" fill="#94583f"/><path d="M-14,-40 Q3.2,-47.9 22,-50" stroke="#bc7c64" stroke-width="3.8" stroke-linecap="round" fill="none"/><circle cx="-14" cy="-39.5" r="3.0" fill="#bc7c64"/><ellipse cx="22.5" cy="-50.8" rx="3.6" ry="4.3" fill="#bc7c64"/><path d="M-14,-40 Q3.2,-47.9 22,-50" stroke="#dca48c" stroke-width="0.7" fill="none" opacity="0.8" transform="translate(0,-0.8)"/>
<path d="M-22,-30 Q-0.7,-37.9 22,-40" stroke="#94583f" stroke-width="5.3" stroke-linecap="round" fill="none"/><circle cx="-22" cy="-29.5" r="3.7" fill="#94583f"/><ellipse cx="22.5" cy="-40.8" rx="4.4" ry="5.2" fill="#94583f"/><path d="M-22,-30 Q-0.7,-37.9 22,-40" stroke="#bc7c64" stroke-width="4.2" stroke-linecap="round" fill="none"/><circle cx="-22" cy="-29.5" r="3.2" fill="#bc7c64"/><ellipse cx="22.5" cy="-40.8" rx="3.9" ry="4.7" fill="#bc7c64"/><path d="M-22,-30 Q-0.7,-37.9 22,-40" stroke="#dca48c" stroke-width="0.7" fill="none" opacity="0.8" transform="translate(0,-0.8)"/>
<path d="M-34,-18 Q-7.5,-25.9 20,-28" stroke="#94583f" stroke-width="6.1" stroke-linecap="round" fill="none"/><circle cx="-34" cy="-17.5" r="4.3" fill="#94583f"/><ellipse cx="20.5" cy="-28.8" rx="5.2" ry="6.1" fill="#94583f"/><path d="M-34,-18 Q-7.5,-25.9 20,-28" stroke="#bc7c64" stroke-width="5.0" stroke-linecap="round" fill="none"/><circle cx="-34" cy="-17.5" r="3.8" fill="#bc7c64"/><ellipse cx="20.5" cy="-28.8" rx="4.7" ry="5.6" fill="#bc7c64"/><path d="M-34,-18 Q-7.5,-25.9 20,-28" stroke="#dca48c" stroke-width="0.7" fill="none" opacity="0.8" transform="translate(0,-1.0)"/>
<path d="M-32,-6 Q-13.1,-9.0 6,-8" stroke="#94583f" stroke-width="6.3" stroke-linecap="round" fill="none"/><circle cx="-32" cy="-5.5" r="4.5" fill="#94583f"/><ellipse cx="6.5" cy="-8.8" rx="5.4" ry="6.4" fill="#94583f"/><path d="M-32,-6 Q-13.1,-9.0 6,-8" stroke="#bc7c64" stroke-width="5.2" stroke-linecap="round" fill="none"/><circle cx="-32" cy="-5.5" r="4.0" fill="#bc7c64"/><ellipse cx="6.5" cy="-8.8" rx="4.9" ry="5.9" fill="#bc7c64"/><path d="M-32,-6 Q-13.1,-9.0 6,-8" stroke="#dca48c" stroke-width="0.7" fill="none" opacity="0.8" transform="translate(0,-1.0)"/>
</g>
<path d="M-54,12.600000000000001 C-48,6.600000000000001 -38,18.6 -28,30.6 C-18,40.6 -6,46.6 0,56.6 C-8,64.6 -24,60.6 -36,52.6 C-48,42.6 -56,26.6 -54,12.600000000000001 Z" fill="#d4d8de" opacity="0.85"/>
<path d="M-50,20.6 L-8,54.6 M-46,30.6 L-14,56.6" stroke="#8a8070" stroke-width="1" opacity="0.6"/>
<circle cx="-28" cy="26.6" r="20.5" fill="url(#gNuc)"/>
<circle cx="-36" cy="12.600000000000001" r="1.9" fill="#5a1090"/>
<circle cx="-26" cy="14.600000000000001" r="1.9" fill="#5a1090"/>
<circle cx="-42" cy="22.6" r="1.9" fill="#5a1090"/>
<circle cx="-32" cy="24.6" r="1.9" fill="#5a1090"/>
<circle cx="-22" cy="24.6" r="1.9" fill="#5a1090"/>
<circle cx="-14" cy="28.6" r="1.9" fill="#5a1090"/>
<circle cx="-38" cy="34.6" r="1.9" fill="#5a1090"/>
<circle cx="-28" cy="36.6" r="1.9" fill="#5a1090"/>
<circle cx="-18" cy="38.6" r="1.9" fill="#5a1090"/>
<circle cx="-30" cy="44.6" r="1.9" fill="#5a1090"/>
<circle cx="-20" cy="46.6" r="1.9" fill="#5a1090"/>
<g transform="translate(29.5,16) rotate(-24)"><ellipse rx="26" ry="14.2" fill="#40c480" stroke="#30a870" stroke-width="0.8"/><ellipse rx="22" ry="10.4" fill="#2a5cb4"/><path d="M-17,-7 L-17,1 M-11,-10 L-11,-1 M-5,-10 L-5,1 M1,-10 L1,-1 M7,-10 L7,1 M13,-9 L13,-1 M-14,10 L-14,3 M-8,10 L-8,1 M-2,10 L-2,3 M4,10 L4,1 M10,10 L10,3 M16,7 L16,1" stroke="#40c480" stroke-width="2.4" stroke-linecap="round"/></g>
</g><g id="bact">
<circle r="1" fill="url(#gBact)"/>
<circle cx="-0.55" cy="-0.55" r="0.088" fill="#40a0c0" opacity="0.6"/>
<circle cx="-0.22" cy="-0.68" r="0.080" fill="#e8d020" opacity="0.6"/>
<circle cx="0.25" cy="-0.62" r="0.080" fill="#d080d0" opacity="0.6"/>
<circle cx="-0.1" cy="-0.28" r="0.080" fill="#20a0e0" opacity="0.6"/>
<circle cx="0.45" cy="-0.2" r="0.064" fill="#2040c0" opacity="0.6"/>
<circle cx="0.62" cy="-0.38" r="0.072" fill="#f0c020" opacity="0.6"/>
<circle cx="-0.5" cy="-0.1" r="0.072" fill="#d8f020" opacity="0.6"/>
<circle cx="-0.25" cy="0.12" r="0.080" fill="#e8a020" opacity="0.6"/>
<circle cx="0.2" cy="0.15" r="0.080" fill="#e04080" opacity="0.6"/>
<circle cx="0.62" cy="0.35" r="0.104" fill="#e0f010" opacity="0.6"/>
<circle cx="-0.7" cy="0.18" r="0.048" fill="#f0a020" opacity="0.6"/>
<circle cx="0.83" cy="0.05" r="0.048" fill="#e0a0e0" opacity="0.6"/>
<circle cx="0.2" cy="0.55" r="0.056" fill="#d8f020" opacity="0.6"/>
<circle cx="-0.4" cy="0.55" r="0.048" fill="#f0b030" opacity="0.6"/>
<circle cx="-0.05" cy="0.87" r="0.064" fill="#f0a020" opacity="0.6"/>
</g><g id="dead">
<circle r="1" fill="url(#gDead)"/>
<circle cx="-0.25" cy="-0.45" r="0.1" fill="#c8c090" opacity="0.8"/>
<circle cx="0.1" cy="-0.1" r="0.12" fill="#80b0a8" opacity="0.8"/>
<circle cx="-0.45" cy="0.1" r="0.1" fill="#c8a870" opacity="0.8"/>
<circle cx="0.5" cy="-0.45" r="0.12" fill="#8060c0" opacity="0.8"/>
<circle cx="0.15" cy="0.3" r="0.1" fill="#4050a0" opacity="0.8"/>
<circle cx="-0.35" cy="0.7" r="0.08" fill="#a080c0" opacity="0.8"/>
<circle cx="0.6" cy="0.2" r="0.08" fill="#6080c0" opacity="0.8"/>
<circle cx="-0.6" cy="0.55" r="0.08" fill="#a09080" opacity="0.8"/>
</g><g id="pol"><g transform="scale(0.48) translate(-783,-153)">
<path d="M754.6,170.5 C760,170 762,166 764,161 C766,157 768,158 771,157.8 M798,150 C804,148 808,150 808.6,155 C809,159 808,162 806,165" stroke="#1a1a1a" stroke-width="2.6" fill="none"/>
<polygon points="767.3,148.6 792,141.7 798.8,153.5 771.9,161.4" fill="#2c3a9e"/>
<polygon points="771.9,161.4 798.8,153.5 799.4,156.2 772.6,164.2" fill="#3a5ae0"/>
<polygon points="756.5,167.2 752.5,172.4 745.9,171.5 743.5,165.4 747.5,160.2 754.1,161.1" fill="#1a2cff"/>
<polygon points="807.1,167.4 803.1,172.6 796.5,171.7 794.1,165.6 798.1,160.4 804.7,161.3" fill="#1a2cff"/>
</g></g>
</defs>
<rect x="101.5" y="87" width="1076.5" height="684" fill="url(#bg)"/>
<text transform="translate(30.3,37.9) scale(0.97,1)" font-size="29.2">(A)</text>
<use href="#mouse"/>
<use href="#mouse" transform="translate(0,400)"/>
<g transform="translate(210.8,189.6) rotate(55)"><ellipse rx="27" ry="11.5" fill="url(#gWound)"/><ellipse rx="15" ry="2.2" fill="#000"/></g>
<circle cx="209.5" cy="178.7" r="0.9" fill="#ffd000"/>
<circle cx="202.1" cy="183.9" r="0.9" fill="#ffd000"/>
<circle cx="211.7" cy="182.0" r="0.9" fill="#ffd000"/>
<circle cx="204.4" cy="187.2" r="0.9" fill="#ffd000"/>
<circle cx="214.0" cy="185.3" r="0.9" fill="#ffd000"/>
<circle cx="206.7" cy="190.4" r="0.9" fill="#ffd000"/>
<circle cx="216.3" cy="188.6" r="0.9" fill="#ffd000"/>
<circle cx="209.0" cy="193.7" r="0.9" fill="#ffd000"/>
<circle cx="218.6" cy="191.8" r="0.9" fill="#ffd000"/>
<circle cx="211.3" cy="197.0" r="0.9" fill="#ffd000"/>
<circle cx="220.9" cy="195.1" r="0.9" fill="#ffd000"/>
<circle cx="213.5" cy="200.3" r="0.9" fill="#ffd000"/>
<circle cx="212.2" cy="189.1" r="23.8" fill="none" stroke="#e01020" stroke-width="1.8" stroke-dasharray="6 3.2"/>
<circle cx="212.1" cy="589.2" r="23.6" fill="none" stroke="#1a1a9a" stroke-width="1.8" stroke-dasharray="6 3.2"/>
<g filter="url(#blur1)" opacity="0.8"><line x1="214.4" y1="164.8" x2="527.6" y2="63.2" stroke="#ffa060" stroke-width="4"/><line x1="218.8" y1="213.4" x2="517.8" y2="309" stroke="#ffa060" stroke-width="4"/></g>
<line x1="214.4" y1="164.8" x2="527.6" y2="63.2" stroke="#f86a18" stroke-width="1.8"/><line x1="218.8" y1="213.4" x2="517.8" y2="309" stroke="#f86a18" stroke-width="1.8"/>
<g filter="url(#blur1)" opacity="0.6"><line x1="215.3" y1="565.6" x2="527" y2="463" stroke="#6060e0" stroke-width="4"/><line x1="220.7" y1="612.5" x2="518" y2="708" stroke="#6060e0" stroke-width="4"/></g>
<line x1="215.3" y1="565.6" x2="527" y2="463" stroke="#2828c0" stroke-width="1.6"/><line x1="220.7" y1="612.5" x2="518" y2="708" stroke="#2828c0" stroke-width="1.6"/>
<circle cx="579.5" cy="189" r="135" fill="#fbfcff" opacity="0.0"/>
<use href="#bact" transform="translate(597.5,103.6) scale(33.5)"/>
<use href="#bact" transform="translate(506.8,154.4) scale(30.6)"/>
<use href="#bact" transform="translate(677.5,192) scale(20.3)"/>
<use href="#cellA" transform="translate(591.7,249.3)"/>
<circle cx="579.5" cy="189" r="135" fill="none" stroke="#e4000f" stroke-width="3.4" stroke-dasharray="22 6.4"/>
<circle cx="935.8" cy="407.4" r="60" fill="url(#gPink)"/>
<circle cx="1027.5" cy="356" r="64" fill="url(#gPink)"/>
<circle cx="1108.2" cy="444" r="38" fill="url(#gPink)"/>
<use href="#bact" transform="translate(935.8,407.4) scale(30.6)"/>
<use href="#bact" transform="translate(1027.5,356) scale(33)"/>
<use href="#bact" transform="translate(1108.2,444) scale(20.8)"/>
<use href="#pol" transform="translate(934.7,372.4) rotate(-8) scale(1.0)"/>
<use href="#pol" transform="translate(909.8,400.6) rotate(39) scale(1.0)"/>
<use href="#pol" transform="translate(966.0,397.0) rotate(132) scale(1.0)"/>
<use href="#pol" transform="translate(925.6,432.0) rotate(-8) scale(1.0)"/>
<use href="#pol" transform="translate(1001.8,346.2) rotate(134) scale(1.0)"/>
<use href="#pol" transform="translate(1060.5,357.2) rotate(34) scale(1.0)"/>
<use href="#pol" transform="translate(1027.5,385.4) rotate(-11) scale(1.0)"/>
<use href="#pol" transform="translate(1098.4,435.5) rotate(-46) scale(0.65)"/>
<use href="#pol" transform="translate(1120.4,440.4) rotate(34) scale(0.65)"/>
<use href="#pol" transform="translate(1113.5,456.3) rotate(-11) scale(0.65)"/>
<use href="#cellB" transform="translate(1017,501.7)"/>
<circle cx="1011.6" cy="439" r="134.5" fill="none" stroke="#484848" stroke-width="3.4" stroke-dasharray="22 6.4"/>
<circle cx="500" cy="555" r="50" fill="url(#gHaze)"/>
<circle cx="676" cy="596" r="30" fill="url(#gHaze)"/>
<clipPath id="clipNavy"><circle cx="579" cy="587" r="133"/></clipPath>
<g clip-path="url(#clipNavy)">
<g opacity="0.35" filter="url(#blur2)"><g transform="translate(505,552) rotate(128.0)" opacity="0.95"><polygon points="0,-31.0 69.8,-35.0 69.8,35.0 0,31.0" fill="url(#gRain)" filter="url(#blur1)"/></g></g>
<g opacity="0.35" filter="url(#blur2)"><g transform="translate(675,595) rotate(127.9)" opacity="0.95"><polygon points="0,-18.0 57.0,-21.0 57.0,21.0 0,18.0" fill="url(#gRain)" filter="url(#blur1)"/></g></g>
<g transform="translate(583,453) rotate(128.2)" opacity="0.95"><polygon points="0,-2.0 126.0,-31.0 126.0,31.0 0,2.0" fill="url(#gRain)" filter="url(#blur1)"/></g>
<g transform="translate(623,451) rotate(115.3)" opacity="0.95"><polygon points="0,-16.0 60.8,-15.0 60.8,15.0 0,16.0" fill="url(#gRain)" filter="url(#blur1)"/></g>
<g transform="translate(707.5,548) rotate(124.7)" opacity="0.95"><polygon points="0,-1.5 57.1,-18.0 57.1,18.0 0,1.5" fill="url(#gRain)" filter="url(#blur1)"/></g>
</g>
<use href="#dead" transform="translate(503.7,557.3) scale(30.7)"/>
<use href="#dead" transform="translate(595,506) scale(33)"/>
<use href="#dead" transform="translate(674.9,595) scale(20)"/>
<use href="#pol" transform="translate(506.5,518.7) rotate(-6) scale(1.0)"/>
<use href="#pol" transform="translate(482.1,546.3) rotate(39) scale(1.0)"/>
<use href="#pol" transform="translate(537.0,544.0) rotate(132) scale(1.0)"/>
<use href="#pol" transform="translate(497.1,578.6) rotate(-8) scale(1.0)"/>
<use href="#pol" transform="translate(573.4,493.3) rotate(129) scale(1.0)"/>
<use href="#pol" transform="translate(630.1,504.0) rotate(34) scale(1.0)"/>
<use href="#pol" transform="translate(598.2,531.6) rotate(-11) scale(1.0)"/>
<use href="#pol" transform="translate(665.0,588.0) rotate(-46) scale(0.65)"/>
<use href="#pol" transform="translate(686.5,591.0) rotate(34) scale(0.65)"/>
<use href="#pol" transform="translate(680.0,607.0) rotate(-11) scale(0.65)"/>
<circle cx="509.7" cy="493.2" r="9.5" fill="url(#gRos)" stroke="#555" stroke-width="0.5"/><text x="509.7" y="496.4" font-size="9.0" font-weight="bold" text-anchor="middle" fill="#111">ROS</text>
<circle cx="643.6" cy="487.3" r="9.5" fill="url(#gRos)" stroke="#555" stroke-width="0.5"/><text x="643.6" y="490.5" font-size="9.0" font-weight="bold" text-anchor="middle" fill="#111">ROS</text>
<circle cx="637.5" cy="527.1" r="9.5" fill="url(#gRos)" stroke="#555" stroke-width="0.5"/><text x="637.5" y="530.3" font-size="9.0" font-weight="bold" text-anchor="middle" fill="#111">ROS</text>
<circle cx="557.8" cy="553.1" r="9.5" fill="url(#gRos)" stroke="#555" stroke-width="0.5"/><text x="557.8" y="556.3" font-size="9.0" font-weight="bold" text-anchor="middle" fill="#111">ROS</text>
<circle cx="602" cy="553.1" r="9.5" fill="url(#gRos)" stroke="#555" stroke-width="0.5"/><text x="602" y="556.3" font-size="9.0" font-weight="bold" text-anchor="middle" fill="#111">ROS</text>
<circle cx="460.8" cy="586" r="9.5" fill="url(#gRos)" stroke="#555" stroke-width="0.5"/><text x="460.8" y="589.2" font-size="9.0" font-weight="bold" text-anchor="middle" fill="#111">ROS</text>
<circle cx="465" cy="612.7" r="9.5" fill="url(#gRos)" stroke="#555" stroke-width="0.5"/><text x="465" y="615.9" font-size="9.0" font-weight="bold" text-anchor="middle" fill="#111">ROS</text>
<circle cx="673.7" cy="557.6" r="6.3" fill="url(#gRos)" stroke="#555" stroke-width="0.5"/><text x="673.7" y="559.8" font-size="6.0" font-weight="bold" text-anchor="middle" fill="#111">ROS</text>
<circle cx="647" cy="579.6" r="6.3" fill="url(#gRos)" stroke="#555" stroke-width="0.5"/><text x="647" y="581.8" font-size="6.0" font-weight="bold" text-anchor="middle" fill="#111">ROS</text>
<circle cx="691" cy="620.3" r="5.8" fill="url(#gRos)" stroke="#555" stroke-width="0.5"/><text x="691" y="622.3" font-size="5.5" font-weight="bold" text-anchor="middle" fill="#111">ROS</text>
<use href="#cellB" transform="translate(581.4,650)"/>
<circle cx="579" cy="587" r="134" fill="none" stroke="#15159c" stroke-width="3.4" stroke-dasharray="22 6.4"/>
<path d="M751,221 C790,222 830,232 850,244 C870,256 880,266 888,276 C870,264 845,255 822,253 C798,252 775,262 762,276 C757,258 753,240 751,221 Z" fill="url(#gArrow1f)" opacity="1" filter="url(#blur2)"/>
<path d="M751,221 C780,221 815,226 842,235 C860,242 880,255 896,267 L902.2,263.4 L910,295.4 L883.2,281 L888.3,276.5 C875,266 860,256 842,248 C820,238 790,228 751,221 Z" fill="url(#gArrow1)"/>
<path d="M751,610.2 L777.2,604.9 L777.4,608.5 C795,606 815,604 832,596 C842,588 845,576 842,565 C838,552 832,542 829,534.5 C860,538 895,545 921.8,555.5 C905,572 880,585 860,594 C835,606 805,615 776.5,617 L776.5,620.6 Z" fill="url(#gArrow2)" opacity="0.6" filter="url(#blur2)"/>
<path d="M751,610.2 L777.2,604.9 L777.4,608.5 C795,605 815,601 828,594 C845,585 870,570 908,556 C888,576 865,590 848,598 C830,607 805,615 776.5,617 L776.5,620.6 Z" fill="url(#gArrow2b)"/>
<line x1="768.2" y1="67.0" x2="776.6" y2="52.5" stroke="#1a1a1a" stroke-width="1.25" stroke-linecap="round"/>
<line x1="776.6" y1="52.5" x2="793.4" y2="52.5" stroke="#1a1a1a" stroke-width="1.25" stroke-linecap="round"/>
<line x1="793.4" y1="52.5" x2="801.8" y2="67.0" stroke="#1a1a1a" stroke-width="1.25" stroke-linecap="round"/>
<line x1="801.8" y1="67.0" x2="793.4" y2="81.5" stroke="#1a1a1a" stroke-width="1.25" stroke-linecap="round"/>
<line x1="793.4" y1="81.5" x2="776.6" y2="81.5" stroke="#1a1a1a" stroke-width="1.25" stroke-linecap="round"/>
<line x1="776.6" y1="81.5" x2="768.2" y2="67.0" stroke="#1a1a1a" stroke-width="1.25" stroke-linecap="round"/>
<line x1="797.5" y1="68.0" x2="792.1" y2="77.3" stroke="#1a1a1a" stroke-width="1.25" stroke-linecap="round"/>
<line x1="777.9" y1="77.3" x2="772.5" y2="68.0" stroke="#1a1a1a" stroke-width="1.25" stroke-linecap="round"/>
<line x1="776.6" y1="52.5" x2="773.6" y2="42.0" stroke="#1a1a1a" stroke-width="1.25" stroke-linecap="round"/>
<line x1="779.2" y1="49.6" x2="776.4" y2="42.0" stroke="#1a1a1a" stroke-width="1.25" stroke-linecap="round"/>
<line x1="793.4" y1="52.5" x2="796.4" y2="42.0" stroke="#1a1a1a" stroke-width="1.25" stroke-linecap="round"/>
<line x1="790.8" y1="49.6" x2="793.6" y2="42.0" stroke="#1a1a1a" stroke-width="1.25" stroke-linecap="round"/>
<line x1="775.5" y1="33.5" x2="781.0" y2="30.0" stroke="#1a1a1a" stroke-width="1.25" stroke-linecap="round"/>
<line x1="789.0" y1="30.0" x2="794.5" y2="33.5" stroke="#1a1a1a" stroke-width="1.25" stroke-linecap="round"/>
<text x="771.5" y="41.3" font-size="10.5" fill="#1a1a1a" text-anchor="middle" font-weight="normal">N</text>
<text x="785.0" y="30.8" font-size="10.5" fill="#1a1a1a" text-anchor="middle" font-weight="normal">S</text>
<text x="798.6" y="41.3" font-size="10.5" fill="#1a1a1a" text-anchor="middle" font-weight="normal">N</text>
<line x1="746.3" y1="67.0" x2="768.2" y2="67.0" stroke="#1a1a1a" stroke-width="1.25" stroke-linecap="round"/>
<line x1="755.8" y1="55.2" x2="755.8" y2="77.3" stroke="#1a1a1a" stroke-width="1.25" stroke-linecap="round"/>
<line x1="755.8" y1="55.2" x2="757.8" y2="55.2" stroke="#1a1a1a" stroke-width="1.25" stroke-linecap="round"/>
<line x1="755.8" y1="77.3" x2="757.8" y2="77.3" stroke="#1a1a1a" stroke-width="1.25" stroke-linecap="round"/>
<line x1="801.8" y1="67.0" x2="818.9" y2="67.0" stroke="#1a1a1a" stroke-width="1.25" stroke-linecap="round"/>
<line x1="818.9" y1="67.0" x2="827.2" y2="52.6" stroke="#1a1a1a" stroke-width="1.25" stroke-linecap="round"/>
<line x1="827.2" y1="52.6" x2="843.8" y2="52.6" stroke="#1a1a1a" stroke-width="1.25" stroke-linecap="round"/>
<line x1="843.8" y1="52.6" x2="852.1" y2="67.0" stroke="#1a1a1a" stroke-width="1.25" stroke-linecap="round"/>
<line x1="852.1" y1="67.0" x2="843.8" y2="81.4" stroke="#1a1a1a" stroke-width="1.25" stroke-linecap="round"/>
<line x1="843.8" y1="81.4" x2="827.2" y2="81.4" stroke="#1a1a1a" stroke-width="1.25" stroke-linecap="round"/>
<line x1="827.2" y1="81.4" x2="818.9" y2="67.0" stroke="#1a1a1a" stroke-width="1.25" stroke-linecap="round"/>
<line x1="830.1" y1="55.8" x2="840.8" y2="55.8" stroke="#1a1a1a" stroke-width="1.25" stroke-linecap="round"/>
<line x1="847.8" y1="68.0" x2="842.5" y2="77.2" stroke="#1a1a1a" stroke-width="1.25" stroke-linecap="round"/>
<line x1="828.4" y1="77.2" x2="823.1" y2="68.0" stroke="#1a1a1a" stroke-width="1.25" stroke-linecap="round"/>
<line x1="852.1" y1="67.0" x2="868.5" y2="67.0" stroke="#1a1a1a" stroke-width="1.25" stroke-linecap="round"/>
<line x1="868.5" y1="67.0" x2="877.2" y2="82.0" stroke="#1a1a1a" stroke-width="1.25" stroke-linecap="round"/>
<line x1="871.6" y1="66.0" x2="879.6" y2="79.6" stroke="#1a1a1a" stroke-width="1.25" stroke-linecap="round"/>
<line x1="868.5" y1="67.0" x2="877.2" y2="52.7" stroke="#1a1a1a" stroke-width="1.25" stroke-linecap="round"/>
<line x1="868.9" y1="38.3" x2="877.2" y2="23.9" stroke="#1a1a1a" stroke-width="1.25" stroke-linecap="round"/>
<line x1="877.2" y1="23.9" x2="893.8" y2="23.9" stroke="#1a1a1a" stroke-width="1.25" stroke-linecap="round"/>
<line x1="893.8" y1="23.9" x2="902.1" y2="38.3" stroke="#1a1a1a" stroke-width="1.25" stroke-linecap="round"/>
<line x1="902.1" y1="38.3" x2="893.8" y2="52.7" stroke="#1a1a1a" stroke-width="1.25" stroke-linecap="round"/>
<line x1="893.8" y1="52.7" x2="877.2" y2="52.7" stroke="#1a1a1a" stroke-width="1.25" stroke-linecap="round"/>
<line x1="877.2" y1="52.7" x2="868.9" y2="38.3" stroke="#1a1a1a" stroke-width="1.25" stroke-linecap="round"/>
<line x1="873.2" y1="37.3" x2="878.5" y2="28.1" stroke="#1a1a1a" stroke-width="1.25" stroke-linecap="round"/>
<line x1="892.5" y1="28.1" x2="897.8" y2="37.3" stroke="#1a1a1a" stroke-width="1.25" stroke-linecap="round"/>
<line x1="890.8" y1="49.5" x2="880.2" y2="49.5" stroke="#1a1a1a" stroke-width="1.25" stroke-linecap="round"/>
<line x1="893.8" y1="23.9" x2="904.0" y2="8.7" stroke="#1a1a1a" stroke-width="1.25" stroke-linecap="round"/>
<line x1="889.0" y1="10.3" x2="909.5" y2="22.1" stroke="#1a1a1a" stroke-width="1.25" stroke-linecap="round"/>
<line x1="889.0" y1="10.3" x2="890.0" y2="8.3" stroke="#1a1a1a" stroke-width="1.25" stroke-linecap="round"/>
<line x1="909.5" y1="22.1" x2="908.5" y2="24.1" stroke="#1a1a1a" stroke-width="1.25" stroke-linecap="round"/>
<text transform="translate(912.0,18.6) rotate(48)" font-size="11" text-anchor="middle" fill="#1a1a1a">n</text>
<line x1="877.2" y1="82.0" x2="894.0" y2="82.0" stroke="#1a1a1a" stroke-width="1.25" stroke-linecap="round"/>
<line x1="894.0" y1="82.0" x2="902.4" y2="67.5" stroke="#1a1a1a" stroke-width="1.25" stroke-linecap="round"/>
<line x1="902.4" y1="67.5" x2="919.2" y2="67.5" stroke="#1a1a1a" stroke-width="1.25" stroke-linecap="round"/>
<line x1="919.2" y1="67.5" x2="927.6" y2="82.0" stroke="#1a1a1a" stroke-width="1.25" stroke-linecap="round"/>
<line x1="927.6" y1="82.0" x2="919.2" y2="96.5" stroke="#1a1a1a" stroke-width="1.25" stroke-linecap="round"/>
<line x1="919.2" y1="96.5" x2="902.4" y2="96.5" stroke="#1a1a1a" stroke-width="1.25" stroke-linecap="round"/>
<line x1="902.4" y1="96.5" x2="894.0" y2="82.0" stroke="#1a1a1a" stroke-width="1.25" stroke-linecap="round"/>
<line x1="905.4" y1="70.7" x2="916.2" y2="70.7" stroke="#1a1a1a" stroke-width="1.25" stroke-linecap="round"/>
<line x1="923.3" y1="83.0" x2="917.9" y2="92.3" stroke="#1a1a1a" stroke-width="1.25" stroke-linecap="round"/>
<line x1="903.7" y1="92.3" x2="898.3" y2="83.0" stroke="#1a1a1a" stroke-width="1.25" stroke-linecap="round"/>
<line x1="927.6" y1="82.0" x2="939.5" y2="82.6" stroke="#1a1a1a" stroke-width="1.25" stroke-linecap="round"/>
<text x="944.2" y="87.0" font-size="11.5" fill="#1a1a1a" text-anchor="middle" font-weight="normal">O</text>
<line x1="948.8" y1="83.0" x2="960.0" y2="84.1" stroke="#1a1a1a" stroke-width="1.25" stroke-linecap="round"/>
<line x1="960.0" y1="84.1" x2="967.4" y2="98.0" stroke="#1a1a1a" stroke-width="1.25" stroke-linecap="round"/>
<line x1="967.4" y1="98.0" x2="984.5" y2="100.1" stroke="#1a1a1a" stroke-width="1.25" stroke-linecap="round"/>
<line x1="984.5" y1="100.1" x2="989.5" y2="110.5" stroke="#1a1a1a" stroke-width="1.25" stroke-linecap="round"/>
<line x1="994.7" y1="113.4" x2="1005.1" y2="108.2" stroke="#ff1a1a" stroke-width="1.3" stroke-linecap="round"/>
<line x1="986.0" y1="122.1" x2="980.8" y2="130.8" stroke="#ff1a1a" stroke-width="1.3" stroke-linecap="round"/>
<line x1="997.3" y1="118.6" x2="1010.3" y2="123.8" stroke="#ff1a1a" stroke-width="1.3" stroke-linecap="round"/>
<text x="991.0" y="121.0" font-size="12" fill="#ff1a1a" text-anchor="middle" font-weight="normal">N</text>
<circle cx="979.3" cy="116.5" r="3.2" fill="none" stroke="#ff1a1a" stroke-width="1"/><line x1="977.6" y1="116.5" x2="981.0" y2="116.5" stroke="#ff1a1a" stroke-width="0.9" stroke-linecap="round"/><line x1="979.3" y1="114.8" x2="979.3" y2="118.2" stroke="#ff1a1a" stroke-width="0.9" stroke-linecap="round"/>
<circle cx="992.2" cy="128.8" r="3.2" fill="none" stroke="#ff1a1a" stroke-width="1"/><line x1="990.5" y1="128.8" x2="993.9" y2="128.8" stroke="#ff1a1a" stroke-width="0.9" stroke-linecap="round"/>
<text x="996.2" y="134.2" font-size="10.5" fill="#ff1a1a" text-anchor="start" font-weight="normal">Br</text>
<line x1="1010.3" y1="123.8" x2="1016.4" y2="139.4" stroke="#1a1a1a" stroke-width="1.25" stroke-linecap="round"/>
<line x1="1016.4" y1="139.4" x2="1034.6" y2="142.0" stroke="#1a1a1a" stroke-width="1.25" stroke-linecap="round"/>
<line x1="1034.6" y1="142.0" x2="1040.7" y2="156.8" stroke="#1a1a1a" stroke-width="1.25" stroke-linecap="round"/>
<line x1="1040.7" y1="156.8" x2="1057.2" y2="159.4" stroke="#1a1a1a" stroke-width="1.25" stroke-linecap="round"/>
<line x1="1057.2" y1="159.4" x2="1064.1" y2="174.1" stroke="#1a1a1a" stroke-width="1.25" stroke-linecap="round"/>
<line x1="1064.1" y1="174.1" x2="1074.5" y2="175.0" stroke="#1a1a1a" stroke-width="1.25" stroke-linecap="round"/>
<text x="1079.0" y="180.0" font-size="11.5" fill="#1a1a1a" text-anchor="middle" font-weight="normal">O</text>
<line x1="1081.5" y1="180.5" x2="1086.6" y2="192.4" stroke="#1a1aff" stroke-width="1.5" stroke-linecap="round"/>
<line x1="1086.6" y1="192.4" x2="1104.0" y2="194.5" stroke="#1a1aff" stroke-width="1.5" stroke-linecap="round"/>
<line x1="1086.6" y1="192.4" x2="1079.5" y2="201.5" stroke="#1a1aff" stroke-width="1.5" stroke-linecap="round"/>
<line x1="1083.6" y1="190.0" x2="1076.5" y2="199.3" stroke="#1a1aff" stroke-width="1.5" stroke-linecap="round"/>
<text x="1076.0" y="210.0" font-size="11.5" fill="#1a1aff" text-anchor="middle" font-weight="bold">O</text>
<line x1="1104.0" y1="194.5" x2="1113.5" y2="180.5" stroke="#1a1aff" stroke-width="1.5" stroke-linecap="round"/>
<line x1="1113.5" y1="180.5" x2="1130.5" y2="182.0" stroke="#1a1aff" stroke-width="1.5" stroke-linecap="round"/>
<line x1="1130.5" y1="182.0" x2="1137.8" y2="197.6" stroke="#1a1aff" stroke-width="1.5" stroke-linecap="round"/>
<line x1="1137.8" y1="197.6" x2="1127.4" y2="211.4" stroke="#1a1aff" stroke-width="1.5" stroke-linecap="round"/>
<line x1="1127.4" y1="211.4" x2="1110.3" y2="209.0" stroke="#1a1aff" stroke-width="1.5" stroke-linecap="round"/>
<line x1="1110.3" y1="209.0" x2="1104.0" y2="194.5" stroke="#1a1aff" stroke-width="1.5" stroke-linecap="round"/>
<line x1="1108.4" y1="193.4" x2="1114.1" y2="185.0" stroke="#1a1aff" stroke-width="1.5" stroke-linecap="round"/>
<line x1="1129.2" y1="186.3" x2="1133.6" y2="195.7" stroke="#1a1aff" stroke-width="1.5" stroke-linecap="round"/>
<line x1="1124.3" y1="207.9" x2="1114.1" y2="206.5" stroke="#1a1aff" stroke-width="1.5" stroke-linecap="round"/>
<line x1="1113.5" y1="180.5" x2="1108.5" y2="171.0" stroke="#1a1aff" stroke-width="1.5" stroke-linecap="round"/>
<text x="1106.6" y="171.0" font-size="11.5" fill="#1a1aff" text-anchor="middle" font-weight="bold">F</text>
<line x1="1130.5" y1="182.0" x2="1136.5" y2="173.0" stroke="#1a1aff" stroke-width="1.5" stroke-linecap="round"/>
<text x="1140.0" y="173.0" font-size="11.5" fill="#1a1aff" text-anchor="middle" font-weight="bold">F</text>
<line x1="1110.3" y1="209.0" x2="1104.0" y2="218.0" stroke="#1a1aff" stroke-width="1.5" stroke-linecap="round"/>
<text x="1100.6" y="228.0" font-size="11.5" fill="#1a1aff" text-anchor="middle" font-weight="bold">F</text>
<line x1="1127.4" y1="211.4" x2="1131.0" y2="220.0" stroke="#1a1aff" stroke-width="1.5" stroke-linecap="round"/>
<text x="1133.0" y="230.5" font-size="11.5" fill="#1a1aff" text-anchor="middle" font-weight="bold">F</text>
<line x1="1137.8" y1="197.6" x2="1148.0" y2="199.5" stroke="#1a1aff" stroke-width="1.5" stroke-linecap="round"/>
<text x="1148.5" y="205.5" font-size="11.5" font-weight="bold" fill="#1a1aff">N<tspan font-size="8.5" dy="2.5">3</tspan></text>
<line x1="877.2" y1="82.0" x2="869.2" y2="96.3" stroke="#1a1a1a" stroke-width="1.25" stroke-linecap="round"/>
<line x1="843.4" y1="111.2" x2="852.0" y2="96.3" stroke="#1a1a1a" stroke-width="1.25" stroke-linecap="round"/>
<line x1="852.0" y1="96.3" x2="869.2" y2="96.3" stroke="#1a1a1a" stroke-width="1.25" stroke-linecap="round"/>
<line x1="869.2" y1="96.3" x2="877.8" y2="111.2" stroke="#1a1a1a" stroke-width="1.25" stroke-linecap="round"/>
<line x1="877.8" y1="111.2" x2="869.2" y2="126.1" stroke="#1a1a1a" stroke-width="1.25" stroke-linecap="round"/>
<line x1="869.2" y1="126.1" x2="852.0" y2="126.1" stroke="#1a1a1a" stroke-width="1.25" stroke-linecap="round"/>
<line x1="852.0" y1="126.1" x2="843.4" y2="111.2" stroke="#1a1a1a" stroke-width="1.25" stroke-linecap="round"/>
<line x1="855.1" y1="99.5" x2="866.1" y2="99.5" stroke="#1a1a1a" stroke-width="1.25" stroke-linecap="round"/>
<line x1="873.5" y1="112.3" x2="868.0" y2="121.8" stroke="#1a1a1a" stroke-width="1.25" stroke-linecap="round"/>
<line x1="853.2" y1="121.8" x2="847.7" y2="112.3" stroke="#1a1a1a" stroke-width="1.25" stroke-linecap="round"/>
<line x1="852.0" y1="126.1" x2="845.5" y2="134.5" stroke="#1a1a1a" stroke-width="1.25" stroke-linecap="round"/>
<text x="842.8" y="144.3" font-size="11.5" fill="#1a1a1a" text-anchor="middle" font-weight="normal">O</text>
<line x1="840.5" y1="146.0" x2="836.8" y2="155.4" stroke="#1a1a1a" stroke-width="1.25" stroke-linecap="round"/>
<line x1="836.8" y1="155.4" x2="846.3" y2="170.4" stroke="#1a1a1a" stroke-width="1.25" stroke-linecap="round"/>
<line x1="846.3" y1="170.4" x2="839.7" y2="185.3" stroke="#1a1a1a" stroke-width="1.25" stroke-linecap="round"/>
<line x1="839.7" y1="185.3" x2="845.6" y2="192.6" stroke="#1a1a1a" stroke-width="1.25" stroke-linecap="round"/>
<line x1="855.0" y1="193.5" x2="865.4" y2="187.5" stroke="#ff1a1a" stroke-width="1.3" stroke-linecap="round"/>
<line x1="846.5" y1="204.9" x2="842.7" y2="213.4" stroke="#ff1a1a" stroke-width="1.3" stroke-linecap="round"/>
<line x1="855.0" y1="199.2" x2="870.2" y2="204.0" stroke="#ff1a1a" stroke-width="1.3" stroke-linecap="round"/>
<text x="849.0" y="202.5" font-size="12" fill="#ff1a1a" text-anchor="middle" font-weight="normal">N</text>
<circle cx="838.0" cy="198.3" r="3.2" fill="none" stroke="#ff1a1a" stroke-width="1"/><line x1="836.3" y1="198.3" x2="839.7" y2="198.3" stroke="#ff1a1a" stroke-width="0.9" stroke-linecap="round"/><line x1="838.0" y1="196.6" x2="838.0" y2="200.0" stroke="#ff1a1a" stroke-width="0.9" stroke-linecap="round"/>
<circle cx="855.5" cy="210.6" r="3.2" fill="none" stroke="#ff1a1a" stroke-width="1"/><line x1="853.8" y1="210.6" x2="857.2" y2="210.6" stroke="#ff1a1a" stroke-width="0.9" stroke-linecap="round"/>
<text x="859.0" y="216.3" font-size="10.5" fill="#ff1a1a" text-anchor="start" font-weight="normal">Br</text>
<line x1="870.2" y1="204.0" x2="877.7" y2="218.1" stroke="#1a1a1a" stroke-width="1.25" stroke-linecap="round"/>
<line x1="877.7" y1="218.1" x2="896.7" y2="218.1" stroke="#1a1a1a" stroke-width="1.25" stroke-linecap="round"/>
<line x1="896.7" y1="218.1" x2="904.2" y2="232.3" stroke="#1a1a1a" stroke-width="1.25" stroke-linecap="round"/>
<line x1="904.2" y1="232.3" x2="923.2" y2="232.3" stroke="#1a1a1a" stroke-width="1.25" stroke-linecap="round"/>
<line x1="923.2" y1="232.3" x2="929.8" y2="246.5" stroke="#1a1a1a" stroke-width="1.25" stroke-linecap="round"/>
<line x1="929.8" y1="246.5" x2="940.2" y2="246.5" stroke="#1a1a1a" stroke-width="1.25" stroke-linecap="round"/>
<text x="945.0" y="250.8" font-size="11.5" fill="#1a1a1a" text-anchor="middle" font-weight="normal">O</text>
<line x1="947.5" y1="251.5" x2="954.4" y2="260.7" stroke="#1a1aff" stroke-width="1.5" stroke-linecap="round"/>
<line x1="954.4" y1="260.7" x2="971.4" y2="260.7" stroke="#1a1aff" stroke-width="1.5" stroke-linecap="round"/>
<line x1="954.4" y1="260.7" x2="948.0" y2="270.5" stroke="#1a1aff" stroke-width="1.5" stroke-linecap="round"/>
<line x1="951.2" y1="258.8" x2="944.8" y2="268.6" stroke="#1a1aff" stroke-width="1.5" stroke-linecap="round"/>
<text x="945.3" y="279.5" font-size="11.5" fill="#1a1aff" text-anchor="middle" font-weight="bold">O</text>
<line x1="971.4" y1="260.7" x2="980.0" y2="246.5" stroke="#1a1aff" stroke-width="1.5" stroke-linecap="round"/>
<line x1="980.0" y1="246.5" x2="997.0" y2="246.5" stroke="#1a1aff" stroke-width="1.5" stroke-linecap="round"/>
<line x1="997.0" y1="246.5" x2="1004.6" y2="260.7" stroke="#1a1aff" stroke-width="1.5" stroke-linecap="round"/>
<line x1="1004.6" y1="260.7" x2="997.0" y2="274.9" stroke="#1a1aff" stroke-width="1.5" stroke-linecap="round"/>
<line x1="997.0" y1="274.9" x2="980.0" y2="274.9" stroke="#1a1aff" stroke-width="1.5" stroke-linecap="round"/>
<line x1="980.0" y1="274.9" x2="971.4" y2="260.7" stroke="#1a1aff" stroke-width="1.5" stroke-linecap="round"/>
<line x1="975.7" y1="259.3" x2="980.9" y2="250.8" stroke="#1a1aff" stroke-width="1.5" stroke-linecap="round"/>
<line x1="995.9" y1="250.8" x2="1000.5" y2="259.3" stroke="#1a1aff" stroke-width="1.5" stroke-linecap="round"/>
<line x1="993.6" y1="271.9" x2="983.4" y2="271.9" stroke="#1a1aff" stroke-width="1.5" stroke-linecap="round"/>
<line x1="980.0" y1="246.5" x2="974.5" y2="237.0" stroke="#1a1aff" stroke-width="1.5" stroke-linecap="round"/>
<text x="970.5" y="236.0" font-size="11.5" fill="#1a1aff" text-anchor="middle" font-weight="bold">F</text>
<line x1="997.0" y1="246.5" x2="1002.5" y2="237.0" stroke="#1a1aff" stroke-width="1.5" stroke-linecap="round"/>
<text x="1004.5" y="236.0" font-size="11.5" fill="#1a1aff" text-anchor="middle" font-weight="bold">F</text>
<line x1="980.0" y1="274.9" x2="975.0" y2="284.0" stroke="#1a1aff" stroke-width="1.5" stroke-linecap="round"/>
<text x="971.4" y="294.0" font-size="11.5" fill="#1a1aff" text-anchor="middle" font-weight="bold">F</text>
<line x1="997.0" y1="274.9" x2="1002.0" y2="284.0" stroke="#1a1aff" stroke-width="1.5" stroke-linecap="round"/>
<text x="1004.6" y="294.0" font-size="11.5" fill="#1a1aff" text-anchor="middle" font-weight="bold">F</text>
<line x1="1004.6" y1="260.7" x2="1016.0" y2="260.7" stroke="#1a1aff" stroke-width="1.5" stroke-linecap="round"/>
<text x="1016.5" y="266.5" font-size="11.5" font-weight="bold" fill="#1a1aff">N<tspan font-size="8.5" dy="2.5">3</tspan></text>
<path d="M754.6,170.5 C760,170 762,166 764,161 C766,157 768,158 771,157.8 M798,150 C804,148 808,150 808.6,155 C809,159 808,162 806,165" stroke="#1a1a1a" stroke-width="1.5" fill="none"/>
<linearGradient id="gPolRect" x1="0" y1="0" x2="1" y2="0"><stop offset="0" stop-color="#1c2680"/><stop offset="1" stop-color="#4452b4"/></linearGradient>
<polygon points="767.3,148.6 792,141.7 798.8,153.5 771.9,161.4" fill="url(#gPolRect)"/>
<polygon points="772.6,160.8 798.1,152.3 798.6,154.6 773.2,163" fill="#3050d0"/>
<polygon points="756.3,167.2 752.4,172.2 746.1,171.3 743.7,165.4 747.6,160.4 753.9,161.3" fill="#1a2cff"/>
<polygon points="806.9,167.4 803.0,172.4 796.7,171.5 794.3,165.6 798.2,160.6 804.5,161.5" fill="#1a2cff"/>
<rect x="816.3" y="148.2" width="12.5" height="2.8" fill="#000"/><rect x="816.3" y="154.2" width="12.5" height="2.8" fill="#000"/>
<text x="268" y="296.7" font-size="25.1" font-weight="bold" font-style="italic" fill="#000" text-anchor="middle">Infected mouse</text>
<text x="271" y="697" font-size="25.1" font-weight="bold" font-style="italic" fill="#000" text-anchor="middle">Well-healed mouse</text>
<text x="649.8" y="161" font-size="24.7" font-weight="bold" font-style="normal" fill="#f0900c" text-anchor="middle">Bacteria</text>
<text x="591.2" y="245.4" font-size="24.7" font-weight="bold" font-style="normal" fill="#000" text-anchor="middle">Mammalian</text>
<text x="594" y="269.8" font-size="24.7" font-weight="bold" font-style="normal" fill="#000" text-anchor="middle">cell</text>
<text x="810.7" y="305" font-size="23.4" font-weight="bold" font-style="normal" fill="#000" text-anchor="middle">PTB-PFPA</text>
<text x="811.5" y="332.7" font-size="24.9" font-weight="bold" font-style="normal" fill="#000" text-anchor="middle">treatment</text>
<text x="809" y="531.6" font-size="24.9" font-weight="bold" font-style="normal" fill="#000" text-anchor="middle">Light</text>
<text x="811" y="562" font-size="24.9" font-weight="bold" font-style="normal" fill="#000" text-anchor="middle">irradiation</text>
<text x="1022.7" y="607.4" font-size="23.6" font-weight="bold" font-style="normal" fill="#000" text-anchor="middle">Selective binding</text>
<text x="1016.5" y="635" font-size="24.9" font-weight="bold" font-style="normal" fill="#000" text-anchor="middle">with bacteria</text>
<text x="753.8" y="684.2" font-size="24.8" font-weight="bold" font-style="normal" fill="#000" text-anchor="middle">Bacteria</text>
<text x="753.2" y="711.8" font-size="24.8" font-weight="bold" font-style="normal" fill="#000" text-anchor="middle">eradication</text>
<polyline points="76.50,1110.56 77.65,1110.58 78.80,1110.20 79.94,1109.88 81.09,1109.31 82.24,1108.31 83.39,1107.43 84.54,1106.88 85.68,1105.60 86.83,1104.65 87.98,1104.31 89.13,1103.63 90.28,1103.74 91.42,1103.77 92.57,1104.22 93.72,1104.34 94.87,1104.83 96.02,1105.03 97.16,1104.75 98.31,1104.59 99.46,1104.17 100.61,1103.38 101.76,1103.17 102.90,1102.47 104.05,1101.63 105.20,1100.75 106.35,1100.34 107.50,1099.25 108.64,1098.40 109.79,1097.42 110.94,1096.20 112.09,1095.07 113.24,1093.48 114.38,1092.25 115.53,1090.54 116.68,1089.14 117.83,1087.35 118.98,1085.08 120.12,1083.10 121.27,1081.01 122.42,1079.13 123.57,1076.48 124.72,1074.04 125.86,1071.22 127.01,1068.51 128.16,1065.50 129.31,1062.39 130.46,1059.26 131.60,1055.88 132.75,1052.51 133.90,1048.72 135.05,1045.02 136.20,1041.02 137.34,1036.99 138.49,1032.59 139.64,1027.96 140.79,1023.81 141.94,1019.24 143.08,1014.46 144.23,1009.44 145.38,1004.56 146.53,999.25 147.68,994.41 148.82,989.05 149.97,983.60 151.12,978.13 152.27,973.10 153.42,967.70 154.56,961.75 155.71,956.58 156.86,950.85 158.01,945.19 159.16,939.73 160.30,934.46 161.45,929.03 162.60,923.18 163.75,918.08 164.90,912.48 166.04,907.57 167.19,902.21 168.34,897.42 169.49,892.51 170.64,887.42 171.78,882.94 172.93,878.00 174.08,873.42 175.23,869.37 176.38,864.92 177.52,860.99 178.67,857.25 179.82,853.67 180.97,849.93 182.12,846.54 183.26,843.79 184.41,840.53 185.56,838.05 186.71,835.40 187.86,832.70 189.00,830.47 190.15,828.41 191.30,826.56 192.45,824.79 193.60,823.19 194.74,821.81 195.89,820.71 197.04,819.39 198.19,818.40 199.34,817.72 200.48,816.80 201.63,816.26 202.78,816.15 203.93,815.58 205.08,815.34 206.22,814.91 207.37,815.01 208.52,815.05 209.67,814.76 210.82,815.11 211.96,815.27 213.11,815.25 214.26,815.90 215.41,816.29 216.56,816.96 217.70,817.48 218.85,818.43 220.00,819.32 221.15,819.94 222.30,821.03 223.44,822.52 224.59,823.93 225.74,824.94 226.89,826.50 228.04,828.12 229.18,829.63 230.33,831.38 231.48,833.17 232.63,835.11 233.78,837.21 234.92,839.13 236.07,841.31 237.22,843.74 238.37,845.66 239.52,848.31 240.66,850.84 241.81,853.13 242.96,855.67 244.11,858.60 245.26,861.02 246.40,863.75 247.55,866.69 248.70,869.68 249.85,872.30 251.00,875.38 252.14,878.39 253.29,881.69 254.44,884.58 255.59,887.92 256.74,890.73 257.88,894.01 259.03,897.39 260.18,900.75 261.33,903.80 262.48,906.97 263.62,910.23 264.77,913.75 265.92,916.92 267.07,920.57 268.22,923.94 269.36,926.97 270.51,930.37 271.66,934.00 272.81,937.27 273.96,940.70 275.10,943.82 276.25,947.04 277.40,950.45 278.55,954.01 279.70,957.04 280.84,960.36 281.99,963.65 283.14,966.89 284.29,970.10 285.44,973.54 286.58,976.32 287.73,979.38 288.88,982.96 290.03,986.00 291.18,989.09 292.32,991.82 293.47,995.05 294.62,997.98 295.77,1000.52 296.92,1003.64 298.06,1006.51 299.21,1009.20 300.36,1011.87 301.51,1014.45 302.66,1017.13 303.80,1019.69 304.95,1022.17 306.10,1024.96 307.25,1027.28 308.40,1029.97 309.54,1031.98 310.69,1034.75 311.84,1036.94 312.99,1039.30 314.14,1041.49 315.28,1043.64 316.43,1045.59 317.58,1047.37 318.73,1049.75 319.88,1051.43 321.02,1053.41 322.17,1055.47 323.32,1057.23 324.47,1058.96 325.62,1060.96 326.76,1062.49 327.91,1064.01 329.06,1065.57 330.21,1067.44 331.36,1068.77 332.50,1070.40 333.65,1071.62 334.80,1072.94 335.95,1074.48 337.10,1075.96 338.24,1076.93 339.39,1078.50 340.54,1079.78 341.69,1080.90 342.84,1082.06 343.98,1082.76 345.13,1084.14 346.28,1085.30 347.43,1085.89 348.58,1086.97 349.72,1087.91 350.87,1088.95 352.02,1089.77 353.17,1090.64 354.32,1091.61 355.46,1092.01 356.61,1092.80 357.76,1093.56 358.91,1094.27 360.06,1094.92 361.20,1096.03 362.35,1096.59 363.50,1096.82 364.65,1097.61 365.80,1098.07 366.94,1098.61 368.09,1099.15 369.24,1099.79 370.39,1100.24 371.54,1100.59 372.68,1100.94 373.83,1101.43 374.98,1101.74 376.13,1102.34 377.28,1102.79 378.42,1102.98 379.57,1103.17 380.72,1103.55 381.87,1103.96 383.02,1104.38 384.16,1104.75 385.31,1104.83 386.46,1105.30 387.61,1105.47 388.76,1105.61 389.90,1105.81 391.05,1106.09 392.20,1106.41 393.35,1106.47 394.50,1106.80 395.64,1106.86 396.79,1106.93 397.94,1107.25 399.09,1107.49 400.24,1107.33 401.38,1107.65 402.53,1107.79 403.68,1108.15 404.83,1108.31 405.98,1108.15 407.12,1108.53 408.27,1108.59 409.42,1108.43 410.57,1108.63 411.72,1108.56 412.86,1109.00 414.01,1109.01 415.16,1109.21 416.31,1109.24 417.46,1109.26 418.60,1109.37 419.75,1109.35 420.90,1109.19" fill="none" stroke="#ff0000" stroke-width="1.1" stroke-linejoin="round"/>
<polyline points="76.50,1110.78 77.65,1110.37 78.80,1110.17 79.94,1110.06 81.09,1109.13 82.24,1108.46 83.39,1107.64 84.54,1107.11 85.68,1105.80 86.83,1104.84 87.98,1104.57 89.13,1103.85 90.28,1104.21 91.42,1104.41 92.57,1104.95 93.72,1105.47 94.87,1105.65 96.02,1105.97 97.16,1105.62 98.31,1105.89 99.46,1105.55 100.61,1105.37 101.76,1104.73 102.90,1104.67 104.05,1104.34 105.20,1103.45 106.35,1103.09 107.50,1102.67 108.64,1102.22 109.79,1101.29 110.94,1100.58 112.09,1099.88 113.24,1099.28 114.38,1098.50 115.53,1097.41 116.68,1096.42 117.83,1095.39 118.98,1094.26 120.12,1093.11 121.27,1091.68 122.42,1090.55 123.57,1089.37 124.72,1087.58 125.86,1086.16 127.01,1084.19 128.16,1082.68 129.31,1080.86 130.46,1078.86 131.60,1076.73 132.75,1074.56 133.90,1072.40 135.05,1070.18 136.20,1067.36 137.34,1064.78 138.49,1062.46 139.64,1059.80 140.79,1056.75 141.94,1053.77 143.08,1050.87 144.23,1047.46 145.38,1044.27 146.53,1040.91 147.68,1037.70 148.82,1034.06 149.97,1030.44 151.12,1027.01 152.27,1023.41 153.42,1019.27 154.56,1015.60 155.71,1011.52 156.86,1007.75 158.01,1003.58 159.16,999.33 160.30,995.18 161.45,990.93 162.60,986.97 163.75,982.71 164.90,978.39 166.04,974.25 167.19,970.01 168.34,966.01 169.49,961.49 170.64,957.72 171.78,953.30 172.93,949.23 174.08,945.08 175.23,941.22 176.38,937.22 177.52,933.16 178.67,929.26 179.82,925.58 180.97,921.93 182.12,918.07 183.26,914.69 184.41,911.35 185.56,907.75 186.71,904.37 187.86,901.22 189.00,898.42 190.15,895.47 191.30,892.80 192.45,890.04 193.60,887.16 194.74,884.67 195.89,882.37 197.04,880.12 198.19,878.28 199.34,876.39 200.48,874.57 201.63,872.52 202.78,871.22 203.93,869.46 205.08,868.16 206.22,867.06 207.37,865.60 208.52,864.58 209.67,864.03 210.82,862.95 211.96,862.27 213.11,861.76 214.26,861.28 215.41,860.50 216.56,860.30 217.70,860.06 218.85,859.86 220.00,859.56 221.15,859.64 222.30,859.76 223.44,859.45 224.59,859.52 225.74,859.35 226.89,859.55 228.04,859.94 229.18,859.94 230.33,860.68 231.48,861.13 232.63,861.24 233.78,862.25 234.92,862.63 236.07,863.57 237.22,864.39 238.37,865.05 239.52,866.21 240.66,867.24 241.81,868.43 242.96,869.34 244.11,870.84 245.26,872.27 246.40,873.51 247.55,874.90 248.70,876.21 249.85,877.99 251.00,879.57 252.14,881.46 253.29,883.21 254.44,884.97 255.59,886.66 256.74,888.83 257.88,890.81 259.03,892.62 260.18,895.07 261.33,897.09 262.48,899.00 263.62,901.63 264.77,903.50 265.92,905.90 267.07,908.44 268.22,910.76 269.36,913.15 270.51,915.64 271.66,918.02 272.81,920.45 273.96,922.91 275.10,925.41 276.25,928.31 277.40,930.93 278.55,933.44 279.70,936.17 280.84,938.63 281.99,941.24 283.14,943.97 284.29,946.89 285.44,949.16 286.58,952.08 287.73,954.65 288.88,957.61 290.03,960.10 291.18,962.78 292.32,965.51 293.47,968.26 294.62,971.06 295.77,973.52 296.92,976.43 298.06,978.71 299.21,981.43 300.36,983.97 301.51,986.59 302.66,989.51 303.80,992.06 304.95,994.34 306.10,996.88 307.25,999.50 308.40,1002.16 309.54,1004.66 310.69,1007.07 311.84,1009.41 312.99,1011.57 314.14,1014.06 315.28,1016.29 316.43,1018.76 317.58,1021.06 318.73,1023.12 319.88,1025.36 321.02,1027.80 322.17,1029.58 323.32,1032.08 324.47,1034.21 325.62,1036.28 326.76,1038.02 327.91,1040.08 329.06,1042.05 330.21,1043.98 331.36,1046.03 332.50,1047.73 333.65,1049.34 334.80,1051.39 335.95,1052.96 337.10,1054.74 338.24,1056.49 339.39,1057.78 340.54,1059.78 341.69,1061.31 342.84,1062.77 343.98,1064.29 345.13,1065.74 346.28,1067.05 347.43,1068.62 348.58,1069.75 349.72,1071.32 350.87,1072.70 352.02,1073.87 353.17,1075.18 354.32,1076.58 355.46,1077.72 356.61,1078.49 357.76,1079.93 358.91,1080.93 360.06,1081.70 361.20,1082.88 362.35,1083.81 363.50,1084.70 364.65,1085.87 365.80,1086.97 366.94,1087.55 368.09,1088.68 369.24,1089.43 370.39,1089.95 371.54,1091.09 372.68,1091.72 373.83,1092.61 374.98,1093.21 376.13,1093.91 377.28,1094.37 378.42,1095.25 379.57,1095.93 380.72,1096.49 381.87,1096.85 383.02,1097.57 384.16,1097.97 385.31,1098.30 386.46,1098.77 387.61,1099.27 388.76,1099.80 389.90,1100.23 391.05,1100.83 392.20,1101.34 393.35,1101.66 394.50,1101.99 395.64,1102.48 396.79,1102.66 397.94,1103.09 399.09,1103.57 400.24,1103.71 401.38,1103.90 402.53,1104.56 403.68,1104.75 404.83,1104.84 405.98,1105.11 407.12,1105.44 408.27,1105.71 409.42,1105.76 410.57,1105.87 411.72,1106.18 412.86,1106.67 414.01,1106.55 415.16,1106.90 416.31,1106.94 417.46,1107.12 418.60,1107.27 419.75,1107.55 420.90,1107.58" fill="none" stroke="#000000" stroke-width="1.1" stroke-linejoin="round"/>
<polyline points="76.50,1110.61 77.65,1110.55 78.80,1110.32 79.94,1110.08 81.09,1109.33 82.24,1108.64 83.39,1108.06 84.54,1107.15 85.68,1106.37 86.83,1105.21 87.98,1104.76 89.13,1104.45 90.28,1104.32 91.42,1105.14 92.57,1105.30 93.72,1105.78 94.87,1106.43 96.02,1106.58 97.16,1106.95 98.31,1106.83 99.46,1106.64 100.61,1106.47 101.76,1106.63 102.90,1106.20 104.05,1106.23 105.20,1105.81 106.35,1105.78 107.50,1105.16 108.64,1104.82 109.79,1104.48 110.94,1104.37 112.09,1103.88 113.24,1103.30 114.38,1102.70 115.53,1102.49 116.68,1102.09 117.83,1101.32 118.98,1100.41 120.12,1099.76 121.27,1099.08 122.42,1098.37 123.57,1097.50 124.72,1096.66 125.86,1096.07 127.01,1095.24 128.16,1093.88 129.31,1093.21 130.46,1091.84 131.60,1090.82 132.75,1089.64 133.90,1088.36 135.05,1086.55 136.20,1085.26 137.34,1083.92 138.49,1082.54 139.64,1080.50 140.79,1078.92 141.94,1077.45 143.08,1075.27 144.23,1073.53 145.38,1071.56 146.53,1069.73 147.68,1067.79 148.82,1065.28 149.97,1063.37 151.12,1061.11 152.27,1058.85 153.42,1056.35 154.56,1054.11 155.71,1051.36 156.86,1048.86 158.01,1046.20 159.16,1043.86 160.30,1041.06 161.45,1038.26 162.60,1035.48 163.75,1033.00 164.90,1030.15 166.04,1027.39 167.19,1024.40 168.34,1021.60 169.49,1018.58 170.64,1015.99 171.78,1012.77 172.93,1010.12 174.08,1007.40 175.23,1004.50 176.38,1001.37 177.52,998.61 178.67,996.11 179.82,993.23 180.97,990.59 182.12,987.87 183.26,984.98 184.41,982.57 185.56,979.90 186.71,977.16 187.86,974.68 189.00,972.10 190.15,969.89 191.30,967.85 192.45,965.18 193.60,963.23 194.74,960.88 195.89,958.83 197.04,957.14 198.19,955.05 199.34,953.13 200.48,951.45 201.63,950.03 202.78,948.42 203.93,946.63 205.08,945.32 206.22,944.35 207.37,942.71 208.52,941.71 209.67,940.53 210.82,939.69 211.96,938.66 213.11,937.88 214.26,936.95 215.41,936.06 216.56,935.40 217.70,934.77 218.85,934.62 220.00,933.81 221.15,933.37 222.30,933.51 223.44,932.84 224.59,932.95 225.74,932.37 226.89,932.41 228.04,932.19 229.18,932.42 230.33,932.28 231.48,932.27 232.63,932.32 233.78,932.40 234.92,932.22 236.07,932.48 237.22,932.59 238.37,932.66 239.52,933.31 240.66,933.53 241.81,934.03 242.96,934.16 244.11,934.82 245.26,935.31 246.40,936.03 247.55,936.33 248.70,937.13 249.85,937.91 251.00,938.45 252.14,939.47 253.29,940.39 254.44,941.08 255.59,942.08 256.74,942.98 257.88,943.73 259.03,944.77 260.18,946.08 261.33,946.77 262.48,947.87 263.62,948.76 264.77,949.92 265.92,951.01 267.07,952.54 268.22,953.61 269.36,954.88 270.51,956.17 271.66,957.25 272.81,958.71 273.96,959.86 275.10,961.19 276.25,962.89 277.40,964.35 278.55,965.90 279.70,967.25 280.84,969.03 281.99,970.54 283.14,972.58 284.29,974.34 285.44,975.88 286.58,978.10 287.73,979.67 288.88,981.61 290.03,983.95 291.18,985.79 292.32,987.99 293.47,990.15 294.62,991.98 295.77,994.47 296.92,996.37 298.06,998.59 299.21,1000.69 300.36,1003.02 301.51,1005.14 302.66,1007.02 303.80,1009.01 304.95,1011.17 306.10,1013.27 307.25,1015.13 308.40,1017.16 309.54,1019.43 310.69,1021.35 311.84,1023.40 312.99,1025.29 314.14,1027.11 315.28,1028.70 316.43,1030.41 317.58,1032.27 318.73,1034.11 319.88,1035.88 321.02,1037.61 322.17,1039.21 323.32,1041.13 324.47,1042.49 325.62,1044.20 326.76,1046.02 327.91,1047.56 329.06,1048.86 330.21,1050.36 331.36,1052.16 332.50,1053.24 333.65,1054.77 334.80,1056.41 335.95,1057.85 337.10,1059.08 338.24,1060.41 339.39,1061.86 340.54,1063.48 341.69,1064.65 342.84,1066.20 343.98,1067.37 345.13,1068.72 346.28,1069.47 347.43,1070.74 348.58,1071.83 349.72,1073.19 350.87,1074.27 352.02,1075.23 353.17,1076.55 354.32,1077.38 355.46,1078.52 356.61,1079.49 357.76,1080.75 358.91,1081.52 360.06,1082.38 361.20,1083.18 362.35,1084.27 363.50,1085.24 364.65,1086.11 365.80,1087.05 366.94,1087.81 368.09,1088.31 369.24,1089.01 370.39,1090.07 371.54,1090.80 372.68,1091.36 373.83,1092.21 374.98,1092.73 376.13,1093.24 377.28,1093.81 378.42,1094.34 379.57,1095.24 380.72,1095.94 381.87,1096.49 383.02,1096.81 384.16,1097.43 385.31,1098.07 386.46,1098.50 387.61,1098.86 388.76,1099.23 389.90,1099.72 391.05,1099.97 392.20,1100.39 393.35,1101.04 394.50,1101.59 395.64,1101.74 396.79,1102.03 397.94,1102.35 399.09,1102.74 400.24,1103.24 401.38,1103.37 402.53,1103.93 403.68,1103.82 404.83,1104.18 405.98,1104.56 407.12,1104.76 408.27,1105.24 409.42,1105.47 410.57,1105.75 411.72,1105.82 412.86,1105.75 414.01,1106.23 415.16,1106.42 416.31,1106.58 417.46,1106.66 418.60,1107.06 419.75,1107.33 420.90,1107.09" fill="none" stroke="#0000ff" stroke-width="1.1" stroke-linejoin="round"/>
<polyline points="76.50,1110.99 77.65,1110.74 78.80,1110.56 79.94,1110.36 81.09,1109.87 82.24,1109.05 83.39,1108.05 84.54,1107.53 85.68,1106.26 86.83,1105.54 87.98,1105.15 89.13,1104.62 90.28,1104.67 91.42,1105.39 92.57,1105.95 93.72,1106.22 94.87,1106.75 96.02,1107.04 97.16,1107.15 98.31,1107.27 99.46,1107.61 100.61,1107.08 101.76,1107.04 102.90,1106.88 104.05,1106.67 105.20,1106.72 106.35,1106.64 107.50,1106.48 108.64,1106.15 109.79,1106.00 110.94,1105.33 112.09,1105.18 113.24,1105.21 114.38,1104.43 115.53,1104.17 116.68,1103.89 117.83,1103.37 118.98,1103.06 120.12,1102.34 121.27,1101.92 122.42,1101.74 123.57,1100.75 124.72,1100.51 125.86,1099.49 127.01,1099.20 128.16,1098.30 129.31,1097.51 130.46,1096.43 131.60,1095.51 132.75,1094.95 133.90,1093.69 135.05,1092.68 136.20,1091.93 137.34,1090.83 138.49,1089.25 139.64,1088.49 140.79,1087.00 141.94,1085.59 143.08,1084.08 144.23,1082.78 145.38,1081.59 146.53,1079.70 147.68,1078.03 148.82,1076.38 149.97,1074.67 151.12,1073.04 152.27,1071.52 153.42,1069.25 154.56,1067.40 155.71,1065.83 156.86,1063.87 158.01,1061.83 159.16,1059.39 160.30,1057.33 161.45,1055.48 162.60,1053.07 163.75,1050.97 164.90,1048.53 166.04,1046.11 167.19,1043.99 168.34,1041.88 169.49,1039.57 170.64,1037.12 171.78,1034.72 172.93,1032.40 174.08,1029.99 175.23,1027.67 176.38,1025.47 177.52,1022.80 178.67,1020.66 179.82,1018.51 180.97,1016.16 182.12,1013.54 183.26,1011.67 184.41,1009.38 185.56,1006.84 186.71,1004.72 187.86,1002.56 189.00,1000.39 190.15,998.81 191.30,996.52 192.45,994.80 193.60,992.52 194.74,990.62 195.89,989.26 197.04,987.48 198.19,985.90 199.34,984.13 200.48,982.50 201.63,981.12 202.78,979.36 203.93,978.22 205.08,976.87 206.22,975.49 207.37,974.54 208.52,973.30 209.67,972.36 210.82,971.32 211.96,970.39 213.11,969.57 214.26,968.91 215.41,968.39 216.56,967.71 217.70,967.08 218.85,966.53 220.00,965.78 221.15,965.69 222.30,964.97 223.44,964.57 224.59,964.48 225.74,964.36 226.89,963.98 228.04,963.98 229.18,963.68 230.33,963.94 231.48,963.62 232.63,963.60 233.78,963.61 234.92,963.77 236.07,963.85 237.22,963.68 238.37,963.74 239.52,963.98 240.66,963.89 241.81,964.30 242.96,964.78 244.11,965.05 245.26,965.04 246.40,965.82 247.55,966.01 248.70,966.76 249.85,966.94 251.00,967.38 252.14,968.09 253.29,968.84 254.44,969.21 255.59,970.05 256.74,970.61 257.88,971.10 259.03,971.75 260.18,972.56 261.33,973.22 262.48,973.95 263.62,974.84 264.77,975.72 265.92,976.37 267.07,976.96 268.22,977.83 269.36,978.76 270.51,979.77 271.66,980.45 272.81,981.37 273.96,982.48 275.10,983.50 276.25,984.45 277.40,985.83 278.55,987.20 279.70,988.24 280.84,989.63 281.99,991.02 283.14,992.42 284.29,993.91 285.44,995.19 286.58,996.87 287.73,998.20 288.88,1000.24 290.03,1001.68 291.18,1003.46 292.32,1005.43 293.47,1006.92 294.62,1008.67 295.77,1010.81 296.92,1012.53 298.06,1014.10 299.21,1015.90 300.36,1017.89 301.51,1019.53 302.66,1021.74 303.80,1023.20 304.95,1025.00 306.10,1026.80 307.25,1028.58 308.40,1030.24 309.54,1032.01 310.69,1033.68 311.84,1035.19 312.99,1036.62 314.14,1038.64 315.28,1040.05 316.43,1041.28 317.58,1042.96 318.73,1044.61 319.88,1046.20 321.02,1047.18 322.17,1048.58 323.32,1050.22 324.47,1051.58 325.62,1053.19 326.76,1054.51 327.91,1055.59 329.06,1056.95 330.21,1058.33 331.36,1059.76 332.50,1060.68 333.65,1062.01 334.80,1063.08 335.95,1064.58 337.10,1065.48 338.24,1067.12 339.39,1068.08 340.54,1069.25 341.69,1070.14 342.84,1071.32 343.98,1072.52 345.13,1073.79 346.28,1074.67 347.43,1075.58 348.58,1076.93 349.72,1077.76 350.87,1078.66 352.02,1079.45 353.17,1080.43 354.32,1081.64 355.46,1082.14 356.61,1083.21 357.76,1084.11 358.91,1084.80 360.06,1085.82 361.20,1086.69 362.35,1087.43 363.50,1088.13 364.65,1088.60 365.80,1089.25 366.94,1090.13 368.09,1090.75 369.24,1091.36 370.39,1092.35 371.54,1092.65 372.68,1093.57 373.83,1094.22 374.98,1094.39 376.13,1095.35 377.28,1095.64 378.42,1096.08 379.57,1096.59 380.72,1097.01 381.87,1097.73 383.02,1098.15 384.16,1098.84 385.31,1099.27 386.46,1099.32 387.61,1099.91 388.76,1100.31 389.90,1100.59 391.05,1101.01 392.20,1101.38 393.35,1101.95 394.50,1102.12 395.64,1102.34 396.79,1102.72 397.94,1103.14 399.09,1103.50 400.24,1103.63 401.38,1104.14 402.53,1104.17 403.68,1104.66 404.83,1104.88 405.98,1104.90 407.12,1105.43 408.27,1105.48 409.42,1105.77 410.57,1106.01 411.72,1106.23 412.86,1106.33 414.01,1106.33 415.16,1106.87 416.31,1107.09 417.46,1107.07 418.60,1107.28 419.75,1107.28 420.90,1107.75" fill="none" stroke="#008080" stroke-width="1.1" stroke-linejoin="round"/>
<polyline points="76.50,1110.99 77.65,1110.66 78.80,1110.71 79.94,1110.40 81.09,1109.55 82.24,1109.22 83.39,1108.18 84.54,1107.15 85.68,1106.52 86.83,1105.51 87.98,1105.10 89.13,1104.74 90.28,1104.59 91.42,1105.18 92.57,1105.90 93.72,1106.30 94.87,1106.82 96.02,1107.33 97.16,1107.32 98.31,1107.41 99.46,1107.44 100.61,1107.48 101.76,1107.06 102.90,1106.88 104.05,1107.07 105.20,1106.80 106.35,1106.50 107.50,1106.61 108.64,1106.40 109.79,1106.00 110.94,1105.99 112.09,1105.65 113.24,1105.33 114.38,1104.80 115.53,1104.34 116.68,1104.33 117.83,1103.99 118.98,1103.40 120.12,1103.04 121.27,1102.63 122.42,1101.99 123.57,1101.71 124.72,1101.10 125.86,1100.44 127.01,1099.69 128.16,1099.27 129.31,1098.47 130.46,1097.96 131.60,1096.93 132.75,1096.25 133.90,1095.32 135.05,1094.55 136.20,1093.72 137.34,1092.53 138.49,1091.50 139.64,1090.68 140.79,1089.45 141.94,1088.48 143.08,1087.14 144.23,1085.89 145.38,1084.85 146.53,1083.74 147.68,1082.37 148.82,1080.81 149.97,1079.32 151.12,1077.69 152.27,1076.28 153.42,1074.75 154.56,1073.48 155.71,1071.44 156.86,1070.20 158.01,1068.27 159.16,1066.52 160.30,1064.68 161.45,1063.24 162.60,1061.04 163.75,1059.40 164.90,1057.51 166.04,1055.47 167.19,1053.59 168.34,1052.05 169.49,1050.03 170.64,1048.06 171.78,1046.20 172.93,1043.85 174.08,1042.20 175.23,1040.27 176.38,1038.06 177.52,1036.23 178.67,1034.56 179.82,1032.31 180.97,1030.62 182.12,1028.43 183.26,1026.81 184.41,1024.76 185.56,1023.06 186.71,1021.20 187.86,1019.68 189.00,1017.88 190.15,1016.06 191.30,1014.49 192.45,1012.73 193.60,1011.34 194.74,1009.52 195.89,1008.17 197.04,1006.74 198.19,1005.24 199.34,1003.71 200.48,1002.47 201.63,1001.45 202.78,1000.03 203.93,999.15 205.08,997.92 206.22,997.10 207.37,996.06 208.52,995.06 209.67,993.99 210.82,993.00 211.96,992.47 213.11,991.84 214.26,991.25 215.41,990.27 216.56,989.67 217.70,989.56 218.85,988.96 220.00,988.41 221.15,988.15 222.30,987.51 223.44,987.41 224.59,987.21 225.74,986.96 226.89,986.55 228.04,986.38 229.18,986.51 230.33,986.54 231.48,986.10 232.63,985.99 233.78,986.00 234.92,986.33 236.07,986.13 237.22,986.17 238.37,986.49 239.52,986.38 240.66,986.33 241.81,986.70 242.96,986.54 244.11,986.90 245.26,987.36 246.40,987.38 247.55,987.62 248.70,988.20 249.85,988.46 251.00,989.17 252.14,989.15 253.29,989.93 254.44,990.17 255.59,990.85 256.74,991.15 257.88,991.75 259.03,992.09 260.18,992.56 261.33,993.21 262.48,993.93 263.62,994.26 264.77,994.77 265.92,995.44 267.07,995.88 268.22,996.61 269.36,997.37 270.51,998.02 271.66,998.74 272.81,999.31 273.96,999.94 275.10,1000.74 276.25,1001.74 277.40,1002.56 278.55,1003.68 279.70,1004.53 280.84,1005.82 281.99,1006.85 283.14,1008.04 284.29,1009.30 285.44,1010.47 286.58,1011.75 287.73,1013.07 288.88,1014.37 290.03,1016.20 291.18,1017.55 292.32,1018.88 293.47,1020.86 294.62,1022.26 295.77,1023.88 296.92,1025.38 298.06,1026.83 299.21,1028.87 300.36,1030.05 301.51,1031.74 302.66,1033.63 303.80,1034.75 304.95,1036.48 306.10,1037.98 307.25,1039.36 308.40,1041.17 309.54,1042.37 310.69,1043.59 311.84,1045.23 312.99,1046.38 314.14,1048.09 315.28,1049.50 316.43,1050.84 317.58,1051.70 318.73,1053.30 319.88,1054.37 321.02,1055.69 322.17,1056.83 323.32,1058.04 324.47,1059.14 325.62,1060.56 326.76,1061.45 327.91,1063.03 329.06,1063.69 330.21,1065.26 331.36,1065.97 332.50,1066.99 333.65,1068.39 334.80,1069.33 335.95,1070.50 337.10,1071.40 338.24,1072.48 339.39,1073.21 340.54,1074.50 341.69,1075.39 342.84,1076.57 343.98,1077.03 345.13,1077.98 346.28,1079.19 347.43,1080.20 348.58,1080.82 349.72,1081.82 350.87,1082.58 352.02,1083.32 353.17,1084.16 354.32,1085.01 355.46,1085.50 356.61,1086.39 357.76,1087.35 358.91,1087.83 360.06,1088.64 361.20,1089.22 362.35,1089.94 363.50,1090.75 364.65,1091.43 365.80,1092.16 366.94,1092.53 368.09,1092.99 369.24,1093.64 370.39,1094.06 371.54,1094.70 372.68,1095.41 373.83,1095.95 374.98,1096.27 376.13,1096.73 377.28,1097.17 378.42,1097.67 379.57,1098.29 380.72,1098.61 381.87,1099.35 383.02,1099.60 384.16,1099.89 385.31,1100.33 386.46,1100.51 387.61,1101.22 388.76,1101.59 389.90,1101.74 391.05,1102.26 392.20,1102.35 393.35,1102.64 394.50,1102.95 395.64,1103.23 396.79,1103.71 397.94,1104.01 399.09,1104.32 400.24,1104.26 401.38,1104.84 402.53,1104.94 403.68,1105.12 404.83,1105.41 405.98,1105.59 407.12,1105.68 408.27,1105.98 409.42,1106.30 410.57,1106.52 411.72,1106.80 412.86,1106.62 414.01,1107.14 415.16,1107.25 416.31,1107.37 417.46,1107.65 418.60,1107.38 419.75,1107.84 420.90,1108.04" fill="none" stroke="#ff00ff" stroke-width="1.1" stroke-linejoin="round"/>
<polyline points="76.50,1110.73 77.65,1110.87 78.80,1110.80 79.94,1110.08 81.09,1109.84 82.24,1109.22 83.39,1108.20 84.54,1107.19 85.68,1106.33 86.83,1105.82 87.98,1105.02 89.13,1104.70 90.28,1104.85 91.42,1105.49 92.57,1105.73 93.72,1106.21 94.87,1107.19 96.02,1107.24 97.16,1107.49 98.31,1107.88 99.46,1107.53 100.61,1107.39 101.76,1107.71 102.90,1107.30 104.05,1107.18 105.20,1107.41 106.35,1106.93 107.50,1107.12 108.64,1106.69 109.79,1106.51 110.94,1106.28 112.09,1106.25 113.24,1106.05 114.38,1105.75 115.53,1105.56 116.68,1105.20 117.83,1105.19 118.98,1104.95 120.12,1104.54 121.27,1104.24 122.42,1103.50 123.57,1103.21 124.72,1102.79 125.86,1102.33 127.01,1102.28 128.16,1101.77 129.31,1101.27 130.46,1100.55 131.60,1099.77 132.75,1099.33 133.90,1098.52 135.05,1098.29 136.20,1097.28 137.34,1096.58 138.49,1096.16 139.64,1095.00 140.79,1094.55 141.94,1093.39 143.08,1092.68 144.23,1091.49 145.38,1090.93 146.53,1089.70 147.68,1088.65 148.82,1087.75 149.97,1086.64 151.12,1085.35 152.27,1084.13 153.42,1083.17 154.56,1081.69 155.71,1080.87 156.86,1079.33 158.01,1077.94 159.16,1076.69 160.30,1075.23 161.45,1073.95 162.60,1072.66 163.75,1071.17 164.90,1069.68 166.04,1068.20 167.19,1066.81 168.34,1065.46 169.49,1063.78 170.64,1062.42 171.78,1060.75 172.93,1059.03 174.08,1057.51 175.23,1056.30 176.38,1054.56 177.52,1052.96 178.67,1051.48 179.82,1050.10 180.97,1048.33 182.12,1046.80 183.26,1045.28 184.41,1043.60 185.56,1042.38 186.71,1040.88 187.86,1039.43 189.00,1037.98 190.15,1036.59 191.30,1035.33 192.45,1033.71 193.60,1032.78 194.74,1031.04 195.89,1030.15 197.04,1028.58 198.19,1027.69 199.34,1026.25 200.48,1025.04 201.63,1024.18 202.78,1023.27 203.93,1022.26 205.08,1021.31 206.22,1020.42 207.37,1019.07 208.52,1018.38 209.67,1017.44 210.82,1016.99 211.96,1016.12 213.11,1015.58 214.26,1014.96 215.41,1014.46 216.56,1013.74 217.70,1013.32 218.85,1012.67 220.00,1012.00 221.15,1012.00 222.30,1011.23 223.44,1010.90 224.59,1010.97 225.74,1010.43 226.89,1010.39 228.04,1009.88 229.18,1009.80 230.33,1009.91 231.48,1009.45 232.63,1009.59 233.78,1009.73 234.92,1009.31 236.07,1009.52 237.22,1009.51 238.37,1009.44 239.52,1009.50 240.66,1009.47 241.81,1009.17 242.96,1009.32 244.11,1009.58 245.26,1009.92 246.40,1009.68 247.55,1010.04 248.70,1010.00 249.85,1010.58 251.00,1010.61 252.14,1010.91 253.29,1011.26 254.44,1011.29 255.59,1011.89 256.74,1012.25 257.88,1012.62 259.03,1012.68 260.18,1013.02 261.33,1013.36 262.48,1014.11 263.62,1014.28 264.77,1014.67 265.92,1015.16 267.07,1015.69 268.22,1015.95 269.36,1016.44 270.51,1017.15 271.66,1017.68 272.81,1017.99 273.96,1018.47 275.10,1019.51 276.25,1020.07 277.40,1020.70 278.55,1021.35 279.70,1022.41 280.84,1022.98 281.99,1023.75 283.14,1024.62 284.29,1025.73 285.44,1026.88 286.58,1027.83 287.73,1029.23 288.88,1030.23 290.03,1031.33 291.18,1032.64 292.32,1033.86 293.47,1035.14 294.62,1036.36 295.77,1037.68 296.92,1038.97 298.06,1040.45 299.21,1041.44 300.36,1043.05 301.51,1044.11 302.66,1045.68 303.80,1046.57 304.95,1048.04 306.10,1049.27 307.25,1050.64 308.40,1051.61 309.54,1052.84 310.69,1053.95 311.84,1055.33 312.99,1056.49 314.14,1057.33 315.28,1058.53 316.43,1059.64 317.58,1061.10 318.73,1061.91 319.88,1063.02 321.02,1063.92 322.17,1065.13 323.32,1066.21 324.47,1067.14 325.62,1067.79 326.76,1068.98 327.91,1069.96 329.06,1070.69 330.21,1071.99 331.36,1072.68 332.50,1073.57 333.65,1074.63 334.80,1075.50 335.95,1076.34 337.10,1077.40 338.24,1078.10 339.39,1078.86 340.54,1079.56 341.69,1080.63 342.84,1081.34 343.98,1082.22 345.13,1082.91 346.28,1083.51 347.43,1084.28 348.58,1085.08 349.72,1085.77 350.87,1086.87 352.02,1087.43 353.17,1087.94 354.32,1088.85 355.46,1089.47 356.61,1089.82 357.76,1090.79 358.91,1091.15 360.06,1092.13 361.20,1092.29 362.35,1092.93 363.50,1093.48 364.65,1094.33 365.80,1094.84 366.94,1095.24 368.09,1095.53 369.24,1096.17 370.39,1096.78 371.54,1096.93 372.68,1097.82 373.83,1098.22 374.98,1098.70 376.13,1099.00 377.28,1099.37 378.42,1099.95 379.57,1099.98 380.72,1100.37 381.87,1100.65 383.02,1101.03 384.16,1101.68 385.31,1101.66 386.46,1102.31 387.61,1102.45 388.76,1102.99 389.90,1103.23 391.05,1103.48 392.20,1103.83 393.35,1103.70 394.50,1104.07 395.64,1104.37 396.79,1104.65 397.94,1105.00 399.09,1105.33 400.24,1105.48 401.38,1105.79 402.53,1105.88 403.68,1105.91 404.83,1106.17 405.98,1106.48 407.12,1106.69 408.27,1106.64 409.42,1106.80 410.57,1107.09 411.72,1107.05 412.86,1107.53 414.01,1107.23 415.16,1107.70 416.31,1107.75 417.46,1107.73 418.60,1108.05 419.75,1108.12 420.90,1108.48" fill="none" stroke="#808000" stroke-width="1.1" stroke-linejoin="round"/>
<polyline points="76.50,1111.12 77.65,1110.87 78.80,1110.77 79.94,1110.39 81.09,1109.51 82.24,1109.20 83.39,1108.43 84.54,1107.64 85.68,1106.63 86.83,1105.64 87.98,1104.95 89.13,1104.91 90.28,1104.79 91.42,1105.47 92.57,1105.96 93.72,1106.69 94.87,1106.98 96.02,1107.33 97.16,1107.86 98.31,1107.85 99.46,1107.73 100.61,1107.79 101.76,1107.67 102.90,1107.70 104.05,1107.55 105.20,1107.34 106.35,1107.58 107.50,1107.42 108.64,1107.24 109.79,1106.87 110.94,1106.69 112.09,1106.80 113.24,1106.69 114.38,1106.43 115.53,1106.02 116.68,1106.07 117.83,1105.76 118.98,1105.46 120.12,1105.32 121.27,1104.99 122.42,1104.82 123.57,1104.57 124.72,1104.38 125.86,1103.61 127.01,1103.49 128.16,1103.31 129.31,1102.78 130.46,1102.33 131.60,1102.03 132.75,1101.17 133.90,1101.07 135.05,1100.49 136.20,1099.94 137.34,1099.26 138.49,1098.84 139.64,1098.00 140.79,1097.58 141.94,1096.80 143.08,1096.46 144.23,1095.70 145.38,1094.81 146.53,1094.20 147.68,1093.24 148.82,1092.51 149.97,1091.50 151.12,1091.00 152.27,1090.08 153.42,1089.18 154.56,1087.92 155.71,1087.34 156.86,1085.97 158.01,1085.25 159.16,1084.20 160.30,1082.96 161.45,1082.08 162.60,1081.25 163.75,1080.03 164.90,1078.77 166.04,1077.90 167.19,1076.54 168.34,1075.66 169.49,1074.26 170.64,1072.93 171.78,1072.20 172.93,1070.57 174.08,1069.47 175.23,1068.54 176.38,1067.02 177.52,1066.04 178.67,1065.00 179.82,1063.67 180.97,1062.36 182.12,1061.38 183.26,1060.24 184.41,1058.94 185.56,1057.81 186.71,1056.51 187.86,1055.42 189.00,1054.59 190.15,1053.47 191.30,1051.90 192.45,1050.93 193.60,1049.89 194.74,1049.15 195.89,1047.85 197.04,1046.85 198.19,1046.19 199.34,1044.96 200.48,1044.46 201.63,1043.32 202.78,1042.69 203.93,1041.83 205.08,1040.73 206.22,1040.26 207.37,1039.34 208.52,1038.54 209.67,1037.79 210.82,1037.48 211.96,1036.80 213.11,1036.09 214.26,1035.81 215.41,1034.98 216.56,1034.62 217.70,1033.99 218.85,1033.71 220.00,1033.58 221.15,1033.03 222.30,1032.53 223.44,1032.26 224.59,1032.19 225.74,1031.76 226.89,1031.84 228.04,1031.23 229.18,1031.47 230.33,1031.19 231.48,1031.16 232.63,1030.82 233.78,1030.59 234.92,1030.57 236.07,1030.74 237.22,1030.39 238.37,1030.40 239.52,1030.72 240.66,1030.75 241.81,1030.73 242.96,1030.71 244.11,1030.59 245.26,1030.79 246.40,1030.76 247.55,1030.77 248.70,1030.80 249.85,1030.72 251.00,1030.88 252.14,1031.10 253.29,1031.37 254.44,1031.37 255.59,1031.97 256.74,1031.96 257.88,1032.25 259.03,1032.53 260.18,1032.41 261.33,1032.97 262.48,1033.23 263.62,1033.13 264.77,1033.30 265.92,1033.90 267.07,1034.21 268.22,1034.45 269.36,1034.55 270.51,1034.97 271.66,1035.06 272.81,1035.49 273.96,1035.97 275.10,1036.56 276.25,1036.68 277.40,1037.60 278.55,1037.68 279.70,1038.72 280.84,1038.97 281.99,1039.92 283.14,1040.63 284.29,1041.45 285.44,1042.00 286.58,1042.94 287.73,1043.61 288.88,1044.80 290.03,1045.38 291.18,1046.74 292.32,1047.59 293.47,1048.35 294.62,1049.82 295.77,1050.56 296.92,1051.50 298.06,1052.66 299.21,1053.61 300.36,1054.79 301.51,1056.07 302.66,1057.25 303.80,1058.11 304.95,1059.25 306.10,1060.25 307.25,1061.19 308.40,1062.01 309.54,1062.91 310.69,1063.82 311.84,1064.95 312.99,1065.70 314.14,1066.88 315.28,1067.56 316.43,1068.57 317.58,1069.42 318.73,1070.32 319.88,1070.92 321.02,1071.81 322.17,1072.84 323.32,1073.42 324.47,1074.45 325.62,1075.38 326.76,1075.88 327.91,1076.94 329.06,1077.52 330.21,1078.44 331.36,1078.97 332.50,1079.82 333.65,1080.51 334.80,1080.98 335.95,1081.86 337.10,1082.61 338.24,1083.25 339.39,1084.05 340.54,1084.85 341.69,1085.47 342.84,1086.14 343.98,1086.46 345.13,1087.38 346.28,1087.97 347.43,1088.75 348.58,1088.89 349.72,1089.57 350.87,1090.56 352.02,1090.83 353.17,1091.57 354.32,1092.06 355.46,1092.51 356.61,1093.06 357.76,1093.64 358.91,1094.36 360.06,1094.63 361.20,1095.25 362.35,1095.48 363.50,1096.15 364.65,1096.55 365.80,1097.07 366.94,1097.57 368.09,1097.59 369.24,1098.45 370.39,1098.67 371.54,1098.89 372.68,1099.38 373.83,1099.57 374.98,1100.00 376.13,1100.65 377.28,1100.93 378.42,1101.35 379.57,1101.32 380.72,1101.61 381.87,1102.05 383.02,1102.41 384.16,1102.81 385.31,1102.89 386.46,1103.38 387.61,1103.57 388.76,1103.68 389.90,1104.18 391.05,1104.07 392.20,1104.56 393.35,1104.59 394.50,1104.74 395.64,1105.17 396.79,1105.40 397.94,1105.65 399.09,1105.72 400.24,1106.19 401.38,1106.30 402.53,1106.16 403.68,1106.26 404.83,1106.90 405.98,1106.79 407.12,1106.79 408.27,1106.98 409.42,1107.38 410.57,1107.26 411.72,1107.50 412.86,1107.78 414.01,1107.74 415.16,1108.02 416.31,1108.28 417.46,1108.32 418.60,1108.35 419.75,1108.45 420.90,1108.40" fill="none" stroke="#000080" stroke-width="1.1" stroke-linejoin="round"/>
<polyline points="76.50,1111.00 77.65,1110.92 78.80,1110.64 79.94,1110.21 81.09,1109.82 82.24,1108.90 83.39,1108.39 84.54,1107.66 85.68,1106.30 86.83,1105.60 87.98,1105.38 89.13,1104.67 90.28,1105.14 91.42,1105.43 92.57,1105.76 93.72,1106.66 94.87,1106.88 96.02,1107.69 97.16,1107.65 98.31,1108.08 99.46,1108.10 100.61,1107.70 101.76,1107.79 102.90,1107.61 104.05,1107.84 105.20,1107.44 106.35,1107.34 107.50,1107.28 108.64,1107.55 109.79,1107.14 110.94,1107.07 112.09,1107.01 113.24,1106.93 114.38,1106.73 115.53,1106.85 116.68,1106.39 117.83,1106.29 118.98,1106.30 120.12,1105.80 121.27,1105.56 122.42,1105.68 123.57,1105.19 124.72,1105.23 125.86,1104.94 127.01,1104.44 128.16,1104.14 129.31,1103.72 130.46,1103.79 131.60,1103.24 132.75,1102.84 133.90,1102.38 135.05,1102.02 136.20,1101.94 137.34,1101.15 138.49,1100.92 139.64,1100.49 140.79,1099.96 141.94,1099.45 143.08,1098.88 144.23,1098.24 145.38,1098.00 146.53,1097.46 147.68,1096.69 148.82,1095.92 149.97,1095.61 151.12,1094.60 152.27,1093.91 153.42,1093.45 154.56,1092.84 155.71,1091.98 156.86,1091.00 158.01,1090.67 159.16,1089.48 160.30,1088.78 161.45,1088.29 162.60,1087.37 163.75,1086.51 164.90,1085.31 166.04,1084.84 167.19,1083.73 168.34,1082.65 169.49,1082.15 170.64,1081.31 171.78,1079.96 172.93,1079.24 174.08,1078.54 175.23,1077.33 176.38,1076.38 177.52,1075.69 178.67,1074.58 179.82,1073.93 180.97,1072.93 182.12,1072.00 183.26,1071.00 184.41,1069.82 185.56,1069.16 186.71,1068.20 187.86,1067.25 189.00,1066.41 190.15,1065.40 191.30,1064.48 192.45,1063.99 193.60,1062.88 194.74,1061.93 195.89,1061.55 197.04,1060.53 198.19,1059.84 199.34,1058.92 200.48,1058.09 201.63,1057.47 202.78,1057.03 203.93,1056.08 205.08,1055.75 206.22,1054.82 207.37,1054.51 208.52,1053.57 209.67,1053.14 210.82,1052.45 211.96,1051.95 213.11,1051.65 214.26,1051.11 215.41,1050.76 216.56,1050.19 217.70,1049.84 218.85,1049.48 220.00,1049.43 221.15,1048.70 222.30,1048.57 223.44,1048.52 224.59,1048.13 225.74,1047.74 226.89,1047.90 228.04,1047.27 229.18,1047.11 230.33,1046.90 231.48,1046.98 232.63,1047.08 233.78,1046.69 234.92,1046.61 236.07,1046.80 237.22,1046.38 238.37,1046.31 239.52,1046.59 240.66,1046.28 241.81,1046.48 242.96,1046.27 244.11,1046.48 245.26,1046.60 246.40,1046.41 247.55,1046.34 248.70,1046.56 249.85,1046.65 251.00,1046.39 252.14,1046.56 253.29,1046.71 254.44,1046.87 255.59,1046.86 256.74,1047.17 257.88,1047.09 259.03,1047.55 260.18,1047.41 261.33,1047.48 262.48,1047.56 263.62,1047.74 264.77,1047.95 265.92,1048.46 267.07,1048.41 268.22,1048.61 269.36,1049.08 270.51,1049.30 271.66,1049.44 272.81,1049.44 273.96,1049.77 275.10,1050.17 276.25,1050.38 277.40,1050.79 278.55,1051.13 279.70,1051.57 280.84,1052.30 281.99,1052.73 283.14,1053.19 284.29,1053.78 285.44,1054.46 286.58,1055.14 287.73,1055.49 288.88,1056.61 290.03,1057.16 291.18,1057.86 292.32,1058.95 293.47,1059.65 294.62,1060.26 295.77,1060.93 296.92,1061.97 298.06,1062.81 299.21,1063.61 300.36,1064.32 301.51,1065.39 302.66,1066.06 303.80,1067.14 304.95,1067.83 306.10,1068.52 307.25,1069.58 308.40,1070.18 309.54,1070.77 310.69,1071.62 311.84,1072.26 312.99,1073.19 314.14,1074.15 315.28,1074.88 316.43,1075.45 317.58,1075.90 318.73,1076.63 319.88,1077.29 321.02,1078.04 322.17,1078.84 323.32,1079.19 324.47,1080.07 325.62,1080.68 326.76,1081.43 327.91,1082.14 329.06,1082.54 330.21,1083.25 331.36,1083.69 332.50,1084.38 333.65,1085.06 334.80,1085.35 335.95,1086.18 337.10,1086.76 338.24,1087.18 339.39,1087.79 340.54,1088.64 341.69,1088.96 342.84,1089.43 343.98,1090.02 345.13,1090.67 346.28,1091.13 347.43,1091.62 348.58,1092.11 349.72,1092.55 350.87,1093.19 352.02,1093.71 353.17,1093.93 354.32,1094.64 355.46,1094.96 356.61,1095.74 357.76,1096.15 358.91,1096.18 360.06,1096.88 361.20,1097.11 362.35,1097.39 363.50,1098.17 364.65,1098.57 365.80,1098.88 366.94,1099.17 368.09,1099.70 369.24,1099.84 370.39,1100.24 371.54,1100.56 372.68,1100.99 373.83,1101.31 374.98,1101.34 376.13,1101.59 377.28,1102.06 378.42,1102.36 379.57,1102.53 380.72,1103.05 381.87,1103.31 383.02,1103.48 384.16,1103.66 385.31,1103.98 386.46,1103.97 387.61,1104.50 388.76,1104.38 389.90,1104.99 391.05,1105.06 392.20,1105.09 393.35,1105.24 394.50,1105.64 395.64,1105.76 396.79,1106.06 397.94,1105.93 399.09,1106.49 400.24,1106.43 401.38,1106.60 402.53,1106.90 403.68,1106.99 404.83,1107.05 405.98,1107.11 407.12,1107.34 408.27,1107.25 409.42,1107.49 410.57,1107.90 411.72,1107.67 412.86,1107.77 414.01,1108.26 415.16,1108.13 416.31,1108.31 417.46,1108.44 418.60,1108.61 419.75,1108.50 420.90,1108.82" fill="none" stroke="#800000" stroke-width="1.1" stroke-linejoin="round"/>
<polyline points="76.50,1110.69 77.65,1111.02 78.80,1110.51 79.94,1110.28 81.09,1109.61 82.24,1109.19 83.39,1108.23 84.54,1107.48 85.68,1106.45 86.83,1105.91 87.98,1105.30 89.13,1104.75 90.28,1105.14 91.42,1105.64 92.57,1105.88 93.72,1106.48 94.87,1107.39 96.02,1107.80 97.16,1107.63 98.31,1108.07 99.46,1108.19 100.61,1107.86 101.76,1108.08 102.90,1107.79 104.05,1107.98 105.20,1107.78 106.35,1107.70 107.50,1107.45 108.64,1107.64 109.79,1107.58 110.94,1107.29 112.09,1107.07 113.24,1106.99 114.38,1106.97 115.53,1107.22 116.68,1106.97 117.83,1106.91 118.98,1106.70 120.12,1106.24 121.27,1106.21 122.42,1106.32 123.57,1106.10 124.72,1105.98 125.86,1105.69 127.01,1105.43 128.16,1105.24 129.31,1105.08 130.46,1104.59 131.60,1104.14 132.75,1104.01 133.90,1103.58 135.05,1103.42 136.20,1103.27 137.34,1102.79 138.49,1102.44 139.64,1102.02 140.79,1101.79 141.94,1101.49 143.08,1101.14 144.23,1100.91 145.38,1100.06 146.53,1099.72 147.68,1099.18 148.82,1099.15 149.97,1098.53 151.12,1098.05 152.27,1097.63 153.42,1096.71 154.56,1096.63 155.71,1095.81 156.86,1095.40 158.01,1094.73 159.16,1094.32 160.30,1093.51 161.45,1092.90 162.60,1092.28 163.75,1091.89 164.90,1091.13 166.04,1090.34 167.19,1089.80 168.34,1089.25 169.49,1088.50 170.64,1087.94 171.78,1087.40 172.93,1086.62 174.08,1086.03 175.23,1085.10 176.38,1084.70 177.52,1084.05 178.67,1083.16 179.82,1082.22 180.97,1081.57 182.12,1081.22 183.26,1080.60 184.41,1079.86 185.56,1079.08 186.71,1078.43 187.86,1077.56 189.00,1077.15 190.15,1076.71 191.30,1075.68 192.45,1075.25 193.60,1074.76 194.74,1074.05 195.89,1073.31 197.04,1072.67 198.19,1072.35 199.34,1071.90 200.48,1071.33 201.63,1070.56 202.78,1070.22 203.93,1069.76 205.08,1069.06 206.22,1068.78 207.37,1068.15 208.52,1067.62 209.67,1067.11 210.82,1067.07 211.96,1066.70 213.11,1065.98 214.26,1065.65 215.41,1065.44 216.56,1065.08 217.70,1065.04 218.85,1064.49 220.00,1064.43 221.15,1064.17 222.30,1063.84 223.44,1063.88 224.59,1063.48 225.74,1063.34 226.89,1063.25 228.04,1062.97 229.18,1062.73 230.33,1062.99 231.48,1062.78 232.63,1062.59 233.78,1062.48 234.92,1062.47 236.07,1062.25 237.22,1062.09 238.37,1062.28 239.52,1062.43 240.66,1062.00 241.81,1062.42 242.96,1062.10 244.11,1062.40 245.26,1062.27 246.40,1062.01 247.55,1061.99 248.70,1062.34 249.85,1062.41 251.00,1062.36 252.14,1062.30 253.29,1062.33 254.44,1062.51 255.59,1062.60 256.74,1062.68 257.88,1062.49 259.03,1062.85 260.18,1063.01 261.33,1062.92 262.48,1062.74 263.62,1062.94 264.77,1063.29 265.92,1063.30 267.07,1063.68 268.22,1063.69 269.36,1063.87 270.51,1063.76 271.66,1064.13 272.81,1064.41 273.96,1064.73 275.10,1064.95 276.25,1064.89 277.40,1065.28 278.55,1065.82 279.70,1065.70 280.84,1066.05 281.99,1066.48 283.14,1067.16 284.29,1067.40 285.44,1068.05 286.58,1068.60 287.73,1069.10 288.88,1069.25 290.03,1070.13 291.18,1070.77 292.32,1071.31 293.47,1071.99 294.62,1072.59 295.77,1073.11 296.92,1073.87 298.06,1074.34 299.21,1074.76 300.36,1075.48 301.51,1076.44 302.66,1076.77 303.80,1077.46 304.95,1078.28 306.10,1078.80 307.25,1079.45 308.40,1079.89 309.54,1080.49 310.69,1080.85 311.84,1081.48 312.99,1082.02 314.14,1082.76 315.28,1083.30 316.43,1083.61 317.58,1084.42 318.73,1084.68 319.88,1085.33 321.02,1085.66 322.17,1086.39 323.32,1086.72 324.47,1087.61 325.62,1087.81 326.76,1088.52 327.91,1088.80 329.06,1089.21 330.21,1089.93 331.36,1090.11 332.50,1090.68 333.65,1091.19 334.80,1091.81 335.95,1092.12 337.10,1092.24 338.24,1092.89 339.39,1093.57 340.54,1093.96 341.69,1094.14 342.84,1094.44 343.98,1094.92 345.13,1095.57 346.28,1095.68 347.43,1096.43 348.58,1096.50 349.72,1097.09 350.87,1097.47 352.02,1097.61 353.17,1098.10 354.32,1098.51 355.46,1098.68 356.61,1099.15 357.76,1099.52 358.91,1100.01 360.06,1100.00 361.20,1100.25 362.35,1100.72 363.50,1101.06 364.65,1101.30 365.80,1101.80 366.94,1101.72 368.09,1102.14 369.24,1102.39 370.39,1102.51 371.54,1102.89 372.68,1103.14 373.83,1103.34 374.98,1103.77 376.13,1104.11 377.28,1104.32 378.42,1104.16 379.57,1104.45 380.72,1104.94 381.87,1104.71 383.02,1104.91 384.16,1105.08 385.31,1105.71 386.46,1105.66 387.61,1105.80 388.76,1105.80 389.90,1106.36 391.05,1106.57 392.20,1106.57 393.35,1106.84 394.50,1106.81 395.64,1106.82 396.79,1106.89 397.94,1107.09 399.09,1107.14 400.24,1107.37 401.38,1107.33 402.53,1107.45 403.68,1107.99 404.83,1108.08 405.98,1108.17 407.12,1108.04 408.27,1108.19 409.42,1108.33 410.57,1108.55 411.72,1108.40 412.86,1108.59 414.01,1108.70 415.16,1108.92 416.31,1108.76 417.46,1108.66 418.60,1108.94 419.75,1109.25 420.90,1108.97" fill="none" stroke="#ff0080" stroke-width="1.1" stroke-linejoin="round"/>
<polyline points="76.50,1111.00 77.65,1110.66 78.80,1110.49 79.94,1110.29 81.09,1109.51 82.24,1109.04 83.39,1108.34 84.54,1107.38 85.68,1106.68 86.83,1105.92 87.98,1105.06 89.13,1105.05 90.28,1105.15 91.42,1105.49 92.57,1106.08 93.72,1106.70 94.87,1107.32 96.02,1107.70 97.16,1107.74 98.31,1108.05 99.46,1108.13 100.61,1108.01 101.76,1108.20 102.90,1107.87 104.05,1107.94 105.20,1107.90 106.35,1107.86 107.50,1107.59 108.64,1107.77 109.79,1107.42 110.94,1107.55 112.09,1107.43 113.24,1107.47 114.38,1107.46 115.53,1107.43 116.68,1106.95 117.83,1107.18 118.98,1106.84 120.12,1106.74 121.27,1106.37 122.42,1106.65 123.57,1106.19 124.72,1106.06 125.86,1105.91 127.01,1105.70 128.16,1105.55 129.31,1105.36 130.46,1105.29 131.60,1105.00 132.75,1104.98 133.90,1104.84 135.05,1104.60 136.20,1104.08 137.34,1103.98 138.49,1103.73 139.64,1103.45 140.79,1103.00 141.94,1102.60 143.08,1102.57 144.23,1102.20 145.38,1101.72 146.53,1101.54 147.68,1100.88 148.82,1100.88 149.97,1100.56 151.12,1100.21 152.27,1099.39 153.42,1099.28 154.56,1098.91 155.71,1098.16 156.86,1097.97 158.01,1097.31 159.16,1096.88 160.30,1096.32 161.45,1095.98 162.60,1095.79 163.75,1095.17 164.90,1094.79 166.04,1094.38 167.19,1093.47 168.34,1093.31 169.49,1092.82 170.64,1092.18 171.78,1091.50 172.93,1090.90 174.08,1090.51 175.23,1089.94 176.38,1089.36 177.52,1089.03 178.67,1088.48 179.82,1087.76 180.97,1087.19 182.12,1086.83 183.26,1086.41 184.41,1085.86 185.56,1085.33 186.71,1084.94 187.86,1084.36 189.00,1083.70 190.15,1083.35 191.30,1082.82 192.45,1082.17 193.60,1081.60 194.74,1081.24 195.89,1080.94 197.04,1080.51 198.19,1079.84 199.34,1079.53 200.48,1078.87 201.63,1078.72 202.78,1078.24 203.93,1078.01 205.08,1077.68 206.22,1076.91 207.37,1077.01 208.52,1076.28 209.67,1076.35 210.82,1076.04 211.96,1075.36 213.11,1075.10 214.26,1074.75 215.41,1074.87 216.56,1074.55 217.70,1074.41 218.85,1074.11 220.00,1073.68 221.15,1073.69 222.30,1073.29 223.44,1073.11 224.59,1073.00 225.74,1072.99 226.89,1072.66 228.04,1072.66 229.18,1072.55 230.33,1072.56 231.48,1072.31 232.63,1072.21 233.78,1072.20 234.92,1072.09 236.07,1072.17 237.22,1071.82 238.37,1071.81 239.52,1071.71 240.66,1071.87 241.81,1072.07 242.96,1071.93 244.11,1071.93 245.26,1072.07 246.40,1072.00 247.55,1071.72 248.70,1071.69 249.85,1071.85 251.00,1071.72 252.14,1071.92 253.29,1071.70 254.44,1071.89 255.59,1072.10 256.74,1071.91 257.88,1071.92 259.03,1072.27 260.18,1072.06 261.33,1072.48 262.48,1072.41 263.62,1072.63 264.77,1072.53 265.92,1072.60 267.07,1072.58 268.22,1072.58 269.36,1073.14 270.51,1072.89 271.66,1072.95 272.81,1073.52 273.96,1073.48 275.10,1073.68 276.25,1074.04 277.40,1074.16 278.55,1074.15 279.70,1074.41 280.84,1074.87 281.99,1075.18 283.14,1075.27 284.29,1075.62 285.44,1076.10 286.58,1076.26 287.73,1077.03 288.88,1077.38 290.03,1077.56 291.18,1078.22 292.32,1078.69 293.47,1078.92 294.62,1079.57 295.77,1080.24 296.92,1080.57 298.06,1081.20 299.21,1081.46 300.36,1082.34 301.51,1082.67 302.66,1083.11 303.80,1083.33 304.95,1083.99 306.10,1084.29 307.25,1084.99 308.40,1085.33 309.54,1085.82 310.69,1086.31 311.84,1086.68 312.99,1087.19 314.14,1087.74 315.28,1087.99 316.43,1088.63 317.58,1089.24 318.73,1089.54 319.88,1090.07 321.02,1090.05 322.17,1090.73 323.32,1090.91 324.47,1091.65 325.62,1091.82 326.76,1092.31 327.91,1092.72 329.06,1092.77 330.21,1093.13 331.36,1093.85 332.50,1094.21 333.65,1094.38 334.80,1094.52 335.95,1094.89 337.10,1095.65 338.24,1095.95 339.39,1096.15 340.54,1096.65 341.69,1097.06 342.84,1097.00 343.98,1097.71 345.13,1098.15 346.28,1098.42 347.43,1098.75 348.58,1098.84 349.72,1099.24 350.87,1099.29 352.02,1099.93 353.17,1100.16 354.32,1100.32 355.46,1100.42 356.61,1100.77 357.76,1101.15 358.91,1101.68 360.06,1101.71 361.20,1102.16 362.35,1102.08 363.50,1102.35 364.65,1102.59 365.80,1102.85 366.94,1103.33 368.09,1103.34 369.24,1103.53 370.39,1103.93 371.54,1104.02 372.68,1104.44 373.83,1104.55 374.98,1104.81 376.13,1104.80 377.28,1104.97 378.42,1105.17 379.57,1105.62 380.72,1105.77 381.87,1105.74 383.02,1105.87 384.16,1105.82 385.31,1106.36 386.46,1106.39 387.61,1106.44 388.76,1106.45 389.90,1106.74 391.05,1107.00 392.20,1106.91 393.35,1107.03 394.50,1107.28 395.64,1107.39 396.79,1107.26 397.94,1107.40 399.09,1107.67 400.24,1107.94 401.38,1107.88 402.53,1107.80 403.68,1108.01 404.83,1108.08 405.98,1108.45 407.12,1108.27 408.27,1108.74 409.42,1108.47 410.57,1108.50 411.72,1108.50 412.86,1108.81 414.01,1108.90 415.16,1109.11 416.31,1109.12 417.46,1109.12 418.60,1108.95 419.75,1109.45 420.90,1109.17" fill="none" stroke="#008000" stroke-width="1.1" stroke-linejoin="round"/>
<polyline points="76.50,1110.82 77.65,1110.70 78.80,1110.67 79.94,1110.32 81.09,1109.64 82.24,1108.97 83.39,1108.08 84.54,1107.51 85.68,1106.69 86.83,1105.60 87.98,1105.08 89.13,1105.08 90.28,1105.18 91.42,1105.31 92.57,1106.34 93.72,1106.83 94.87,1107.38 96.02,1107.59 97.16,1108.17 98.31,1108.05 99.46,1108.20 100.61,1108.39 101.76,1108.30 102.90,1107.94 104.05,1107.89 105.20,1107.89 106.35,1107.81 107.50,1108.14 108.64,1107.93 109.79,1107.84 110.94,1107.74 112.09,1107.74 113.24,1107.65 114.38,1107.73 115.53,1107.51 116.68,1107.66 117.83,1107.58 118.98,1107.51 120.12,1107.36 121.27,1106.98 122.42,1107.01 123.57,1107.12 124.72,1106.77 125.86,1106.76 127.01,1106.46 128.16,1106.64 129.31,1106.27 130.46,1106.14 131.60,1106.23 132.75,1105.71 133.90,1105.51 135.05,1105.56 136.20,1105.40 137.34,1105.05 138.49,1105.01 139.64,1105.00 140.79,1104.86 141.94,1104.67 143.08,1104.39 144.23,1103.81 145.38,1103.73 146.53,1103.53 147.68,1103.08 148.82,1103.20 149.97,1102.69 151.12,1102.67 152.27,1102.35 153.42,1101.86 154.56,1101.61 155.71,1101.37 156.86,1100.94 158.01,1100.55 159.16,1100.44 160.30,1100.02 161.45,1099.71 162.60,1099.64 163.75,1099.29 164.90,1098.78 166.04,1098.24 167.19,1098.26 168.34,1097.66 169.49,1097.22 170.64,1097.18 171.78,1096.90 172.93,1096.20 174.08,1095.98 175.23,1095.78 176.38,1095.23 177.52,1094.77 178.67,1094.30 179.82,1093.86 180.97,1093.92 182.12,1093.51 183.26,1092.82 184.41,1092.68 185.56,1092.09 186.71,1092.00 187.86,1091.45 189.00,1091.25 190.15,1090.82 191.30,1090.24 192.45,1090.13 193.60,1089.83 194.74,1089.19 195.89,1088.86 197.04,1088.65 198.19,1088.55 199.34,1088.37 200.48,1087.79 201.63,1087.70 202.78,1087.34 203.93,1086.83 205.08,1086.64 206.22,1086.57 207.37,1086.13 208.52,1085.89 209.67,1085.76 210.82,1085.24 211.96,1085.17 213.11,1084.98 214.26,1084.80 215.41,1084.66 216.56,1084.26 217.70,1084.18 218.85,1084.00 220.00,1083.66 221.15,1083.85 222.30,1083.79 223.44,1083.46 224.59,1083.26 225.74,1083.12 226.89,1083.05 228.04,1082.91 229.18,1082.77 230.33,1083.02 231.48,1082.65 232.63,1082.51 233.78,1082.67 234.92,1082.29 236.07,1082.41 237.22,1082.47 238.37,1082.56 239.52,1082.27 240.66,1082.12 241.81,1082.56 242.96,1082.06 244.11,1082.24 245.26,1082.28 246.40,1082.50 247.55,1082.17 248.70,1082.10 249.85,1082.11 251.00,1082.15 252.14,1082.04 253.29,1082.42 254.44,1082.24 255.59,1082.37 256.74,1082.16 257.88,1082.38 259.03,1082.53 260.18,1082.22 261.33,1082.62 262.48,1082.32 263.62,1082.58 264.77,1082.74 265.92,1082.55 267.07,1082.84 268.22,1082.64 269.36,1082.73 270.51,1083.05 271.66,1082.98 272.81,1082.80 273.96,1082.95 275.10,1083.26 276.25,1083.30 277.40,1083.30 278.55,1083.84 279.70,1083.77 280.84,1084.25 281.99,1084.18 283.14,1084.32 284.29,1084.68 285.44,1085.13 286.58,1085.44 287.73,1085.56 288.88,1085.70 290.03,1086.15 291.18,1086.34 292.32,1086.72 293.47,1086.88 294.62,1087.23 295.77,1088.04 296.92,1088.32 298.06,1088.42 299.21,1088.96 300.36,1089.04 301.51,1089.79 302.66,1090.04 303.80,1090.45 304.95,1090.66 306.10,1091.01 307.25,1091.54 308.40,1091.64 309.54,1091.85 310.69,1092.20 311.84,1092.93 312.99,1092.94 314.14,1093.15 315.28,1093.71 316.43,1093.81 317.58,1094.26 318.73,1094.74 319.88,1094.77 321.02,1095.16 322.17,1095.71 323.32,1095.97 324.47,1096.25 325.62,1096.12 326.76,1096.87 327.91,1096.94 329.06,1097.01 330.21,1097.70 331.36,1097.54 332.50,1098.23 333.65,1098.02 334.80,1098.30 335.95,1098.78 337.10,1099.12 338.24,1099.38 339.39,1099.76 340.54,1099.67 341.69,1100.23 342.84,1100.29 343.98,1100.86 345.13,1100.94 346.28,1101.22 347.43,1101.18 348.58,1101.81 349.72,1101.73 350.87,1101.92 352.02,1102.25 353.17,1102.65 354.32,1102.64 355.46,1102.92 356.61,1103.20 357.76,1103.23 358.91,1103.36 360.06,1103.70 361.20,1104.05 362.35,1104.22 363.50,1104.17 364.65,1104.58 365.80,1104.84 366.94,1104.95 368.09,1104.86 369.24,1104.95 370.39,1105.59 371.54,1105.61 372.68,1105.54 373.83,1105.93 374.98,1106.00 376.13,1106.17 377.28,1106.17 378.42,1106.46 379.57,1106.45 380.72,1106.58 381.87,1106.68 383.02,1107.01 384.16,1107.19 385.31,1107.02 386.46,1107.03 387.61,1107.23 388.76,1107.59 389.90,1107.49 391.05,1107.42 392.20,1107.94 393.35,1107.83 394.50,1107.74 395.64,1108.18 396.79,1108.15 397.94,1108.40 399.09,1108.48 400.24,1108.56 401.38,1108.67 402.53,1108.50 403.68,1108.78 404.83,1108.70 405.98,1108.85 407.12,1108.70 408.27,1108.97 409.42,1108.76 410.57,1109.22 411.72,1108.94 412.86,1109.20 414.01,1109.39 415.16,1109.44 416.31,1109.51 417.46,1109.35 418.60,1109.23 419.75,1109.74 420.90,1109.45" fill="none" stroke="#3c3ce0" stroke-width="1.1" stroke-linejoin="round"/>
<rect x="76.5" y="776.5" width="345.0" height="345.0" fill="none" stroke="#000" stroke-width="1.4"/>
<line x1="76.5" y1="1121.5" x2="76.5" y2="1124.7" stroke="#000" stroke-width="1.3"/>
<line x1="105.2" y1="1121.5" x2="105.2" y2="1126.2" stroke="#000" stroke-width="1.3"/>
<text x="105.2" y="1142.7" font-size="15" font-weight="normal" font-style="normal" text-anchor="middle" fill="#000" >500</text>
<line x1="133.9" y1="1121.5" x2="133.9" y2="1124.7" stroke="#000" stroke-width="1.3"/>
<line x1="162.6" y1="1121.5" x2="162.6" y2="1126.2" stroke="#000" stroke-width="1.3"/>
<text x="162.6" y="1142.7" font-size="15" font-weight="normal" font-style="normal" text-anchor="middle" fill="#000" >550</text>
<line x1="191.3" y1="1121.5" x2="191.3" y2="1124.7" stroke="#000" stroke-width="1.3"/>
<line x1="220.0" y1="1121.5" x2="220.0" y2="1126.2" stroke="#000" stroke-width="1.3"/>
<text x="220.0" y="1142.7" font-size="15" font-weight="normal" font-style="normal" text-anchor="middle" fill="#000" >600</text>
<line x1="248.7" y1="1121.5" x2="248.7" y2="1124.7" stroke="#000" stroke-width="1.3"/>
<line x1="277.4" y1="1121.5" x2="277.4" y2="1126.2" stroke="#000" stroke-width="1.3"/>
<text x="277.4" y="1142.7" font-size="15" font-weight="normal" font-style="normal" text-anchor="middle" fill="#000" >650</text>
<line x1="306.1" y1="1121.5" x2="306.1" y2="1124.7" stroke="#000" stroke-width="1.3"/>
<line x1="334.8" y1="1121.5" x2="334.8" y2="1126.2" stroke="#000" stroke-width="1.3"/>
<text x="334.8" y="1142.7" font-size="15" font-weight="normal" font-style="normal" text-anchor="middle" fill="#000" >700</text>
<line x1="363.5" y1="1121.5" x2="363.5" y2="1124.7" stroke="#000" stroke-width="1.3"/>
<line x1="392.2" y1="1121.5" x2="392.2" y2="1126.2" stroke="#000" stroke-width="1.3"/>
<text x="392.2" y="1142.7" font-size="15" font-weight="normal" font-style="normal" text-anchor="middle" fill="#000" >750</text>
<line x1="420.9" y1="1121.5" x2="420.9" y2="1124.7" stroke="#000" stroke-width="1.3"/>
<text x="251.0" y="1176.0" font-size="21.1" font-weight="bold" font-style="normal" text-anchor="middle" fill="#000" >Wavelength (nm)</text>
<text transform="translate(50.5,954) rotate(-90)" font-size="21.9" font-weight="bold" text-anchor="middle">PL Intensity (au)</text>
<rect x="91.3" y="788.2" width="32.3" height="30.4" fill="#000"/>
<rect x="87.3" y="784.2" width="32.3" height="30.4" fill="#fff" stroke="#777" stroke-width="0.7"/>
<text x="103.4" y="807.0" font-size="21" font-weight="bold" font-style="normal" text-anchor="middle" fill="#000" >B</text>
<text x="354.6" y="813.4" font-size="15.5"><tspan font-style="italic">f</tspan><tspan font-size="9.5" dy="4.5">THF</tspan><tspan dy="-4.5"> (%)</tspan></text>
<line x1="354.6" y1="840.4" x2="385.2" y2="840.4" stroke="#ff0000" stroke-width="1.2"/>
<text x="388.6" y="846.0" font-size="15.5" font-weight="normal" font-style="normal" text-anchor="start" fill="#000" >99</text>
<line x1="354.6" y1="860.2" x2="385.2" y2="860.2" stroke="#000000" stroke-width="1.2"/>
<text x="388.6" y="865.8" font-size="15.5" font-weight="normal" font-style="normal" text-anchor="start" fill="#000" >90</text>
<line x1="354.6" y1="880.0" x2="385.2" y2="880.0" stroke="#0000ff" stroke-width="1.2"/>
<text x="388.6" y="885.6" font-size="15.5" font-weight="normal" font-style="normal" text-anchor="start" fill="#000" >80</text>
<line x1="354.6" y1="899.7" x2="385.2" y2="899.7" stroke="#008080" stroke-width="1.2"/>
<text x="388.6" y="905.3" font-size="15.5" font-weight="normal" font-style="normal" text-anchor="start" fill="#000" >70</text>
<line x1="354.6" y1="919.5" x2="385.2" y2="919.5" stroke="#ff00ff" stroke-width="1.2"/>
<text x="388.6" y="925.1" font-size="15.5" font-weight="normal" font-style="normal" text-anchor="start" fill="#000" >60</text>
<line x1="354.6" y1="939.3" x2="385.2" y2="939.3" stroke="#808000" stroke-width="1.2"/>
<text x="388.6" y="944.9" font-size="15.5" font-weight="normal" font-style="normal" text-anchor="start" fill="#000" >50</text>
<line x1="354.6" y1="959.1" x2="385.2" y2="959.1" stroke="#000080" stroke-width="1.2"/>
<text x="388.6" y="964.7" font-size="15.5" font-weight="normal" font-style="normal" text-anchor="start" fill="#000" >40</text>
<line x1="354.6" y1="978.9" x2="385.2" y2="978.9" stroke="#800000" stroke-width="1.2"/>
<text x="388.6" y="984.5" font-size="15.5" font-weight="normal" font-style="normal" text-anchor="start" fill="#000" >30</text>
<line x1="354.6" y1="998.6" x2="385.2" y2="998.6" stroke="#ff0080" stroke-width="1.2"/>
<text x="388.6" y="1004.2" font-size="15.5" font-weight="normal" font-style="normal" text-anchor="start" fill="#000" >20</text>
<line x1="354.6" y1="1018.4" x2="385.2" y2="1018.4" stroke="#008000" stroke-width="1.2"/>
<text x="388.6" y="1024.0" font-size="15.5" font-weight="normal" font-style="normal" text-anchor="start" fill="#000" >10</text>
<line x1="354.6" y1="1038.2" x2="385.2" y2="1038.2" stroke="#3c3ce0" stroke-width="1.2"/>
<text x="388.6" y="1043.8" font-size="15.5" font-weight="normal" font-style="normal" text-anchor="start" fill="#000" >0</text>
<rect x="663.3" y="1112.4" width="6.3" height="9.6" fill="#f00000" stroke="#000" stroke-width="0.9"/>
<rect x="670.0" y="1040.4" width="5.6" height="81.6" fill="#f00000" stroke="#000" stroke-width="0.9"/>
<rect x="677.4" y="913.5" width="5.8" height="208.5" fill="#f00000" stroke="#000" stroke-width="0.9"/>
<rect x="684.4" y="854.2" width="6.3" height="267.8" fill="#f00000" stroke="#000" stroke-width="0.9"/>
<rect x="691.7" y="897.3" width="6.0" height="224.7" fill="#f00000" stroke="#000" stroke-width="0.9"/>
<rect x="699.0" y="973.3" width="6.0" height="148.7" fill="#f00000" stroke="#000" stroke-width="0.9"/>
<rect x="706.3" y="1034.2" width="6.1" height="87.8" fill="#f00000" stroke="#000" stroke-width="0.9"/>
<rect x="713.4" y="1071.3" width="6.0" height="50.7" fill="#f00000" stroke="#000" stroke-width="0.9"/>
<rect x="720.2" y="1092.4" width="6.3" height="29.6" fill="#f00000" stroke="#000" stroke-width="0.9"/>
<rect x="727.6" y="1102.6" width="6.1" height="19.4" fill="#f00000" stroke="#000" stroke-width="0.9"/>
<rect x="734.7" y="1110.0" width="6.0" height="12.0" fill="#f00000" stroke="#000" stroke-width="0.9"/>
<rect x="742.0" y="1113.4" width="5.8" height="8.6" fill="#f00000" stroke="#000" stroke-width="0.9"/>
<rect x="749.4" y="1117.3" width="5.8" height="4.7" fill="#f00000" stroke="#000" stroke-width="0.9"/>
<rect x="756.2" y="1119.2" width="6.5" height="2.8" fill="#f00000" stroke="#000" stroke-width="0.9"/>
<rect x="763.5" y="1120.6" width="6.5" height="1.4" fill="#f00000" stroke="#000" stroke-width="0.9"/>
<rect x="770.5" y="1121.0" width="6.5" height="1.0" fill="#f00000" stroke="#000" stroke-width="0.9"/>
<line x1="666.5" y1="1112.4" x2="666.5" y2="1094.4" stroke="#111" stroke-width="0.9"/>
<line x1="663.8" y1="1094.4" x2="669.1" y2="1094.4" stroke="#222" stroke-width="0.9"/>
<line x1="672.8" y1="1040.4" x2="672.8" y2="975.5" stroke="#999" stroke-width="0.9"/>
<line x1="670.5" y1="975.5" x2="675.1" y2="975.5" stroke="#222" stroke-width="0.9"/>
<line x1="680.3" y1="913.5" x2="680.3" y2="831.3" stroke="#111" stroke-width="0.9"/>
<line x1="677.9" y1="831.3" x2="682.7" y2="831.3" stroke="#222" stroke-width="0.9"/>
<line x1="680.3" y1="913.5" x2="680.3" y2="996.6" stroke="#300" stroke-width="0.9"/>
<line x1="677.9" y1="996.6" x2="682.7" y2="996.6" stroke="#300" stroke-width="0.9"/>
<line x1="687.5" y1="854.2" x2="687.5" y2="819.5" stroke="#999" stroke-width="0.9"/>
<line x1="684.9" y1="819.5" x2="690.2" y2="819.5" stroke="#222" stroke-width="0.9"/>
<line x1="687.5" y1="854.2" x2="687.5" y2="889.4" stroke="#300" stroke-width="0.9"/>
<line x1="684.9" y1="889.4" x2="690.2" y2="889.4" stroke="#300" stroke-width="0.9"/>
<line x1="694.7" y1="897.3" x2="694.7" y2="863.4" stroke="#999" stroke-width="0.9"/>
<line x1="692.2" y1="863.4" x2="697.2" y2="863.4" stroke="#222" stroke-width="0.9"/>
<line x1="694.7" y1="897.3" x2="694.7" y2="931.5" stroke="#300" stroke-width="0.9"/>
<line x1="692.2" y1="931.5" x2="697.2" y2="931.5" stroke="#300" stroke-width="0.9"/>
<line x1="702.0" y1="973.3" x2="702.0" y2="920.3" stroke="#999" stroke-width="0.9"/>
<line x1="699.5" y1="920.3" x2="704.5" y2="920.3" stroke="#222" stroke-width="0.9"/>
<line x1="702.0" y1="973.3" x2="702.0" y2="1026.3" stroke="#300" stroke-width="0.9"/>
<line x1="699.5" y1="1026.3" x2="704.5" y2="1026.3" stroke="#300" stroke-width="0.9"/>
<line x1="709.3" y1="1034.2" x2="709.3" y2="988.2" stroke="#999" stroke-width="0.9"/>
<line x1="706.8" y1="988.2" x2="711.9" y2="988.2" stroke="#222" stroke-width="0.9"/>
<line x1="709.3" y1="1034.2" x2="709.3" y2="1079.5" stroke="#300" stroke-width="0.9"/>
<line x1="706.8" y1="1079.5" x2="711.9" y2="1079.5" stroke="#300" stroke-width="0.9"/>
<line x1="716.4" y1="1071.3" x2="716.4" y2="1041.0" stroke="#111" stroke-width="0.9"/>
<line x1="713.9" y1="1041.0" x2="718.9" y2="1041.0" stroke="#222" stroke-width="0.9"/>
<line x1="716.4" y1="1071.3" x2="716.4" y2="1101.6" stroke="#300" stroke-width="0.9"/>
<line x1="713.9" y1="1101.6" x2="718.9" y2="1101.6" stroke="#300" stroke-width="0.9"/>
<line x1="723.4" y1="1092.4" x2="723.4" y2="1073.3" stroke="#111" stroke-width="0.9"/>
<line x1="720.7" y1="1073.3" x2="726.0" y2="1073.3" stroke="#222" stroke-width="0.9"/>
<line x1="723.4" y1="1092.4" x2="723.4" y2="1111.4" stroke="#300" stroke-width="0.9"/>
<line x1="720.7" y1="1111.4" x2="726.0" y2="1111.4" stroke="#300" stroke-width="0.9"/>
<line x1="730.7" y1="1102.6" x2="730.7" y2="1092.2" stroke="#111" stroke-width="0.9"/>
<line x1="728.1" y1="1092.2" x2="733.2" y2="1092.2" stroke="#222" stroke-width="0.9"/>
<line x1="730.7" y1="1102.6" x2="730.7" y2="1113.4" stroke="#300" stroke-width="0.9"/>
<line x1="728.1" y1="1113.4" x2="733.2" y2="1113.4" stroke="#300" stroke-width="0.9"/>
<line x1="737.7" y1="1110.0" x2="737.7" y2="1104.6" stroke="#999" stroke-width="0.9"/>
<line x1="735.2" y1="1104.6" x2="740.2" y2="1104.6" stroke="#222" stroke-width="0.9"/>
<line x1="737.7" y1="1110.0" x2="737.7" y2="1116.0" stroke="#300" stroke-width="0.9"/>
<line x1="735.2" y1="1116.0" x2="740.2" y2="1116.0" stroke="#300" stroke-width="0.9"/>
<line x1="744.9" y1="1113.4" x2="744.9" y2="1110.4" stroke="#999" stroke-width="0.9"/>
<line x1="742.5" y1="1110.4" x2="747.3" y2="1110.4" stroke="#222" stroke-width="0.9"/>
<line x1="752.3" y1="1117.3" x2="752.3" y2="1115.3" stroke="#999" stroke-width="0.9"/>
<line x1="749.9" y1="1115.3" x2="754.7" y2="1115.3" stroke="#222" stroke-width="0.9"/>
<line x1="759.5" y1="1119.2" x2="759.5" y2="1117.7" stroke="#999" stroke-width="0.9"/>
<line x1="756.7" y1="1117.7" x2="762.2" y2="1117.7" stroke="#222" stroke-width="0.9"/>
<line x1="766.8" y1="1120.6" x2="766.8" y2="1120.0" stroke="#999" stroke-width="0.9"/>
<line x1="764.0" y1="1120.0" x2="769.5" y2="1120.0" stroke="#222" stroke-width="0.9"/>
<line x1="773.8" y1="1121.0" x2="773.8" y2="1120.5" stroke="#999" stroke-width="0.9"/>
<line x1="771.0" y1="1120.5" x2="776.5" y2="1120.5" stroke="#222" stroke-width="0.9"/>
<rect x="481.0" y="784.2" width="338.5" height="337.79999999999995" fill="none" stroke="#000" stroke-width="1.4"/>
<line x1="481.0" y1="1092.8" x2="484.0" y2="1092.8" stroke="#000" stroke-width="1.2"/>
<line x1="481.0" y1="1063.7" x2="487.0" y2="1063.7" stroke="#000" stroke-width="1.2"/>
<text x="474.4" y="1067.9" font-size="14.5" font-weight="normal" font-style="normal" text-anchor="end" fill="#000" >5</text>
<line x1="481.0" y1="1034.5" x2="484.0" y2="1034.5" stroke="#000" stroke-width="1.2"/>
<line x1="481.0" y1="1005.4" x2="487.0" y2="1005.4" stroke="#000" stroke-width="1.2"/>
<text x="474.4" y="1009.6" font-size="14.5" font-weight="normal" font-style="normal" text-anchor="end" fill="#000" >10</text>
<line x1="481.0" y1="976.2" x2="484.0" y2="976.2" stroke="#000" stroke-width="1.2"/>
<line x1="481.0" y1="947.1" x2="487.0" y2="947.1" stroke="#000" stroke-width="1.2"/>
<text x="474.4" y="951.3" font-size="14.5" font-weight="normal" font-style="normal" text-anchor="end" fill="#000" >15</text>
<line x1="481.0" y1="918.0" x2="484.0" y2="918.0" stroke="#000" stroke-width="1.2"/>
<line x1="481.0" y1="888.8" x2="487.0" y2="888.8" stroke="#000" stroke-width="1.2"/>
<text x="474.4" y="893.0" font-size="14.5" font-weight="normal" font-style="normal" text-anchor="end" fill="#000" >20</text>
<line x1="481.0" y1="859.6" x2="484.0" y2="859.6" stroke="#000" stroke-width="1.2"/>
<line x1="481.0" y1="830.5" x2="487.0" y2="830.5" stroke="#000" stroke-width="1.2"/>
<text x="474.4" y="834.7" font-size="14.5" font-weight="normal" font-style="normal" text-anchor="end" fill="#000" >25</text>
<line x1="481.0" y1="801.4" x2="484.0" y2="801.4" stroke="#000" stroke-width="1.2"/>
<line x1="514.9" y1="1122.0" x2="514.9" y2="1119.0" stroke="#000" stroke-width="1.2"/>
<line x1="534.7" y1="1122.0" x2="534.7" y2="1119.0" stroke="#000" stroke-width="1.2"/>
<line x1="548.7" y1="1122.0" x2="548.7" y2="1119.0" stroke="#000" stroke-width="1.2"/>
<line x1="559.6" y1="1122.0" x2="559.6" y2="1119.0" stroke="#000" stroke-width="1.2"/>
<line x1="568.5" y1="1122.0" x2="568.5" y2="1119.0" stroke="#000" stroke-width="1.2"/>
<line x1="576.1" y1="1122.0" x2="576.1" y2="1119.0" stroke="#000" stroke-width="1.2"/>
<line x1="582.6" y1="1122.0" x2="582.6" y2="1119.0" stroke="#000" stroke-width="1.2"/>
<line x1="588.4" y1="1122.0" x2="588.4" y2="1119.0" stroke="#000" stroke-width="1.2"/>
<line x1="593.5" y1="1122.0" x2="593.5" y2="1115.7" stroke="#000" stroke-width="1.2"/>
<line x1="627.4" y1="1122.0" x2="627.4" y2="1119.0" stroke="#000" stroke-width="1.2"/>
<line x1="647.2" y1="1122.0" x2="647.2" y2="1119.0" stroke="#000" stroke-width="1.2"/>
<line x1="661.2" y1="1122.0" x2="661.2" y2="1119.0" stroke="#000" stroke-width="1.2"/>
<line x1="672.1" y1="1122.0" x2="672.1" y2="1119.0" stroke="#000" stroke-width="1.2"/>
<line x1="681.0" y1="1122.0" x2="681.0" y2="1119.0" stroke="#000" stroke-width="1.2"/>
<line x1="688.6" y1="1122.0" x2="688.6" y2="1119.0" stroke="#000" stroke-width="1.2"/>
<line x1="695.1" y1="1122.0" x2="695.1" y2="1119.0" stroke="#000" stroke-width="1.2"/>
<line x1="700.9" y1="1122.0" x2="700.9" y2="1119.0" stroke="#000" stroke-width="1.2"/>
<line x1="706.0" y1="1122.0" x2="706.0" y2="1115.7" stroke="#000" stroke-width="1.2"/>
<line x1="739.9" y1="1122.0" x2="739.9" y2="1119.0" stroke="#000" stroke-width="1.2"/>
<line x1="759.7" y1="1122.0" x2="759.7" y2="1119.0" stroke="#000" stroke-width="1.2"/>
<line x1="773.7" y1="1122.0" x2="773.7" y2="1119.0" stroke="#000" stroke-width="1.2"/>
<line x1="784.6" y1="1122.0" x2="784.6" y2="1119.0" stroke="#000" stroke-width="1.2"/>
<line x1="793.5" y1="1122.0" x2="793.5" y2="1119.0" stroke="#000" stroke-width="1.2"/>
<line x1="801.1" y1="1122.0" x2="801.1" y2="1119.0" stroke="#000" stroke-width="1.2"/>
<line x1="807.6" y1="1122.0" x2="807.6" y2="1119.0" stroke="#000" stroke-width="1.2"/>
<line x1="813.4" y1="1122.0" x2="813.4" y2="1119.0" stroke="#000" stroke-width="1.2"/>
<text x="481.0" y="1139.7" font-size="14.5" font-weight="normal" font-style="normal" text-anchor="middle" fill="#000" >1</text>
<text x="593.5" y="1139.7" font-size="14.5" font-weight="normal" font-style="normal" text-anchor="middle" fill="#000" >10</text>
<text x="706.0" y="1139.7" font-size="14.5" font-weight="normal" font-style="normal" text-anchor="middle" fill="#000" >100</text>
<text x="818.5" y="1139.7" font-size="14.5" font-weight="normal" font-style="normal" text-anchor="middle" fill="#000" >1000</text>
<text x="650.0" y="1172.3" font-size="20.5" font-weight="bold" font-style="normal" text-anchor="middle" fill="#000" >Size (nm)</text>
<text transform="translate(447,966) rotate(-90)" font-size="21.6" font-weight="bold" text-anchor="middle">Percent (%)</text>
<rect x="492.6" y="799.3" width="36.2" height="31.1" fill="#000"/>
<rect x="488.3" y="795.0" width="36.2" height="31.1" fill="#fff" stroke="#777" stroke-width="0.7"/>
<text x="506.4" y="818.6" font-size="22.5" font-weight="normal" font-style="normal" text-anchor="middle" fill="#000" >C</text>
<polyline points="914.10,1096.86 972.34,1095.93 1030.58,1095.00 1088.82,1095.00 1147.06,1093.15 1205.30,1092.22" fill="none" stroke="#000000" stroke-width="1.5"/>
<rect x="909.9" y="1092.6" width="8.5" height="8.5" fill="#000000"/>
<rect x="968.1" y="1091.7" width="8.5" height="8.5" fill="#000000"/>
<rect x="1026.3" y="1090.8" width="8.5" height="8.5" fill="#000000"/>
<rect x="1084.6" y="1090.8" width="8.5" height="8.5" fill="#000000"/>
<rect x="1142.8" y="1088.9" width="8.5" height="8.5" fill="#000000"/>
<rect x="1201.0" y="1088.0" width="8.5" height="8.5" fill="#000000"/>
<polyline points="914.10,1097.78 972.34,1096.39 1030.58,1094.08 1088.82,1090.37 1147.06,1087.12 1205.30,1083.42" fill="none" stroke="#ff0000" stroke-width="1.5"/>
<circle cx="914.1" cy="1097.8" r="4.25" fill="#ff0000"/>
<circle cx="972.3" cy="1096.4" r="4.25" fill="#ff0000"/>
<circle cx="1030.6" cy="1094.1" r="4.25" fill="#ff0000"/>
<circle cx="1088.8" cy="1090.4" r="4.25" fill="#ff0000"/>
<circle cx="1147.1" cy="1087.1" r="4.25" fill="#ff0000"/>
<circle cx="1205.3" cy="1083.4" r="4.25" fill="#ff0000"/>
<polyline points="914.10,1093.15 972.34,1031.97 1030.58,977.27 1088.82,927.68 1147.06,877.16 1205.30,828.95" fill="none" stroke="#0000ff" stroke-width="1.5"/>
<polygon points="914.1,1088.3 909.9,1096.4 918.4,1096.4" fill="#0000ff"/>
<polygon points="972.3,1027.1 968.1,1035.2 976.6,1035.2" fill="#0000ff"/>
<polygon points="1030.6,972.4 1026.3,980.5 1034.8,980.5" fill="#0000ff"/>
<polygon points="1088.8,922.8 1084.6,930.9 1093.1,930.9" fill="#0000ff"/>
<polygon points="1147.1,872.3 1142.8,880.4 1151.3,880.4" fill="#0000ff"/>
<polygon points="1205.3,824.1 1201.0,832.2 1209.5,832.2" fill="#0000ff"/>
<polyline points="914.10,1093.61 972.34,1091.76 1030.58,1089.44 1088.82,1086.66 1147.06,1083.88 1205.30,1080.17" fill="none" stroke="#008080" stroke-width="1.5"/>
<polygon points="914.1,1098.5 909.9,1090.4 918.4,1090.4" fill="#008080"/>
<polygon points="972.3,1096.6 968.1,1088.5 976.6,1088.5" fill="#008080"/>
<polygon points="1030.6,1094.3 1026.3,1086.2 1034.8,1086.2" fill="#008080"/>
<polygon points="1088.8,1091.5 1084.6,1083.4 1093.1,1083.4" fill="#008080"/>
<polygon points="1147.1,1088.7 1142.8,1080.6 1151.3,1080.6" fill="#008080"/>
<polygon points="1205.3,1085.0 1201.0,1076.9 1209.5,1076.9" fill="#008080"/>
<rect x="891.5" y="780.6" width="342.5999999999999" height="343.4" fill="none" stroke="#000" stroke-width="1.5"/>
<line x1="885.2" y1="1105.2" x2="891.5" y2="1105.2" stroke="#000" stroke-width="1.2"/>
<text x="881.5" y="1109.8" font-size="14" font-weight="normal" font-style="normal" text-anchor="end" fill="#000" >0</text>
<line x1="888.1" y1="1082.0" x2="891.5" y2="1082.0" stroke="#000" stroke-width="1.2"/>
<line x1="885.2" y1="1058.9" x2="891.5" y2="1058.9" stroke="#000" stroke-width="1.2"/>
<text x="881.5" y="1063.5" font-size="14" font-weight="normal" font-style="normal" text-anchor="end" fill="#000" >5</text>
<line x1="888.1" y1="1035.7" x2="891.5" y2="1035.7" stroke="#000" stroke-width="1.2"/>
<line x1="885.2" y1="1012.5" x2="891.5" y2="1012.5" stroke="#000" stroke-width="1.2"/>
<text x="881.5" y="1017.1" font-size="14" font-weight="normal" font-style="normal" text-anchor="end" fill="#000" >10</text>
<line x1="888.1" y1="989.3" x2="891.5" y2="989.3" stroke="#000" stroke-width="1.2"/>
<line x1="885.2" y1="966.2" x2="891.5" y2="966.2" stroke="#000" stroke-width="1.2"/>
<text x="881.5" y="970.8" font-size="14" font-weight="normal" font-style="normal" text-anchor="end" fill="#000" >15</text>
<line x1="888.1" y1="943.0" x2="891.5" y2="943.0" stroke="#000" stroke-width="1.2"/>
<line x1="885.2" y1="919.8" x2="891.5" y2="919.8" stroke="#000" stroke-width="1.2"/>
<text x="881.5" y="924.4" font-size="14" font-weight="normal" font-style="normal" text-anchor="end" fill="#000" >20</text>
<line x1="888.1" y1="896.6" x2="891.5" y2="896.6" stroke="#000" stroke-width="1.2"/>
<line x1="885.2" y1="873.5" x2="891.5" y2="873.5" stroke="#000" stroke-width="1.2"/>
<text x="881.5" y="878.1" font-size="14" font-weight="normal" font-style="normal" text-anchor="end" fill="#000" >25</text>
<line x1="888.1" y1="850.3" x2="891.5" y2="850.3" stroke="#000" stroke-width="1.2"/>
<line x1="885.2" y1="827.1" x2="891.5" y2="827.1" stroke="#000" stroke-width="1.2"/>
<text x="881.5" y="831.7" font-size="14" font-weight="normal" font-style="normal" text-anchor="end" fill="#000" >30</text>
<line x1="888.1" y1="803.9" x2="891.5" y2="803.9" stroke="#000" stroke-width="1.2"/>
<line x1="885.2" y1="780.8" x2="891.5" y2="780.8" stroke="#000" stroke-width="1.2"/>
<text x="881.5" y="785.4" font-size="14" font-weight="normal" font-style="normal" text-anchor="end" fill="#000" >35</text>
<line x1="914.1" y1="1124.0" x2="914.1" y2="1129.2" stroke="#000" stroke-width="1.2"/>
<text x="914.1" y="1144.3" font-size="14" font-weight="normal" font-style="normal" text-anchor="middle" fill="#000" >0</text>
<line x1="943.2" y1="1124.0" x2="943.2" y2="1127.3" stroke="#000" stroke-width="1.2"/>
<line x1="972.3" y1="1124.0" x2="972.3" y2="1129.2" stroke="#000" stroke-width="1.2"/>
<text x="972.3" y="1144.3" font-size="14" font-weight="normal" font-style="normal" text-anchor="middle" fill="#000" >1</text>
<line x1="1001.5" y1="1124.0" x2="1001.5" y2="1127.3" stroke="#000" stroke-width="1.2"/>
<line x1="1030.6" y1="1124.0" x2="1030.6" y2="1129.2" stroke="#000" stroke-width="1.2"/>
<text x="1030.6" y="1144.3" font-size="14" font-weight="normal" font-style="normal" text-anchor="middle" fill="#000" >2</text>
<line x1="1059.7" y1="1124.0" x2="1059.7" y2="1127.3" stroke="#000" stroke-width="1.2"/>
<line x1="1088.8" y1="1124.0" x2="1088.8" y2="1129.2" stroke="#000" stroke-width="1.2"/>
<text x="1088.8" y="1144.3" font-size="14" font-weight="normal" font-style="normal" text-anchor="middle" fill="#000" >3</text>
<line x1="1117.9" y1="1124.0" x2="1117.9" y2="1127.3" stroke="#000" stroke-width="1.2"/>
<line x1="1147.1" y1="1124.0" x2="1147.1" y2="1129.2" stroke="#000" stroke-width="1.2"/>
<text x="1147.1" y="1144.3" font-size="14" font-weight="normal" font-style="normal" text-anchor="middle" fill="#000" >4</text>
<line x1="1176.2" y1="1124.0" x2="1176.2" y2="1127.3" stroke="#000" stroke-width="1.2"/>
<line x1="1205.3" y1="1124.0" x2="1205.3" y2="1129.2" stroke="#000" stroke-width="1.2"/>
<text x="1205.3" y="1144.3" font-size="14" font-weight="normal" font-style="normal" text-anchor="middle" fill="#000" >5</text>
<line x1="1234.4" y1="1124.0" x2="1234.4" y2="1127.3" stroke="#000" stroke-width="1.2"/>
<text x="1062.6" y="1169.7" font-size="19.5" font-weight="bold" font-style="normal" text-anchor="middle" fill="#000" >Time of light irradiation (min)</text>
<text transform="translate(848.3,967) rotate(-90)" font-size="21.2" font-weight="bold" text-anchor="middle">I/I<tspan font-size="13" dy="8.5">0</tspan></text>
<rect x="908.8" y="793.4" width="30.0" height="28.3" fill="#000"/>
<rect x="904.8" y="789.4" width="30.0" height="28.3" fill="#fff" stroke="#777" stroke-width="0.7"/>
<text x="919.8" y="811.0" font-size="20.7" font-weight="bold" font-style="normal" text-anchor="middle" fill="#000" >D</text>
<line x1="905.5" y1="843.1" x2="941.9" y2="843.1" stroke="#000000" stroke-width="1.5"/>
<rect x="917.5" y="837.1" width="12" height="12" fill="#000000"/>
<text x="947.2" y="849.4" font-size="18.4" font-weight="normal" font-style="normal" text-anchor="start" fill="#000" >Blank</text>
<line x1="905.5" y1="866.1" x2="941.9" y2="866.1" stroke="#ff0000" stroke-width="1.5"/>
<circle cx="923.5" cy="866.1" r="6.0" fill="#ff0000"/>
<text x="947.2" y="872.4" font-size="18.4" font-weight="bold" font-style="normal" text-anchor="start" fill="#000" >MTB-PFPA</text>
<line x1="905.5" y1="890.1" x2="941.9" y2="890.1" stroke="#0000ff" stroke-width="1.5"/>
<polygon points="923.5,883.3 917.5,894.7 929.5,894.7" fill="#0000ff"/>
<text x="947.2" y="896.4" font-size="18.4" font-weight="bold" font-style="normal" text-anchor="start" fill="#000" >PBT-PFPA</text>
<line x1="905.5" y1="913.8" x2="941.9" y2="913.8" stroke="#008080" stroke-width="1.5"/>
<polygon points="923.5,920.6 917.5,909.2 929.5,909.2" fill="#008080"/>
<text x="947.2" y="920.1" font-size="18.4" font-weight="normal" font-style="normal" text-anchor="start" fill="#000" >Chlorin E6</text>
<polyline points="83.30,1512.20 135.50,1469.74 187.70,1429.68 239.90,1391.40 292.10,1353.73 344.30,1307.09 396.50,1266.42" fill="none" stroke="#ff0000" stroke-width="2"/>
<rect x="79.0" y="1508.0" width="8.5" height="8.5" fill="#ff0000"/>
<rect x="131.2" y="1465.5" width="8.5" height="8.5" fill="#ff0000"/>
<rect x="183.4" y="1425.4" width="8.5" height="8.5" fill="#ff0000"/>
<rect x="235.7" y="1387.2" width="8.5" height="8.5" fill="#ff0000"/>
<rect x="287.9" y="1349.5" width="8.5" height="8.5" fill="#ff0000"/>
<rect x="340.1" y="1302.8" width="8.5" height="8.5" fill="#ff0000"/>
<rect x="392.3" y="1262.2" width="8.5" height="8.5" fill="#ff0000"/>
<polyline points="83.30,1512.20 135.50,1502.03 187.70,1491.27 239.90,1480.51 292.10,1467.95 344.30,1457.78 396.50,1445.82" fill="none" stroke="#000000" stroke-width="2"/>
<circle cx="83.3" cy="1512.2" r="4.25" fill="#000000"/>
<circle cx="135.5" cy="1502.0" r="4.25" fill="#000000"/>
<circle cx="187.7" cy="1491.3" r="4.25" fill="#000000"/>
<circle cx="239.9" cy="1480.5" r="4.25" fill="#000000"/>
<circle cx="292.1" cy="1467.9" r="4.25" fill="#000000"/>
<circle cx="344.3" cy="1457.8" r="4.25" fill="#000000"/>
<circle cx="396.5" cy="1445.8" r="4.25" fill="#000000"/>
<polyline points="83.30,1512.20 135.50,1464.96 187.70,1417.72 239.90,1371.07 292.10,1322.63 344.30,1273.60 396.50,1234.73" fill="none" stroke="#0000ff" stroke-width="2"/>
<polygon points="83.3,1507.4 79.0,1515.4 87.5,1515.4" fill="#0000ff"/>
<polygon points="135.5,1460.1 131.2,1468.2 139.8,1468.2" fill="#0000ff"/>
<polygon points="187.7,1412.9 183.4,1420.9 191.9,1420.9" fill="#0000ff"/>
<polygon points="239.9,1366.2 235.7,1374.3 244.2,1374.3" fill="#0000ff"/>
<polygon points="292.1,1317.8 287.9,1325.9 296.4,1325.9" fill="#0000ff"/>
<polygon points="344.3,1268.8 340.1,1276.8 348.6,1276.8" fill="#0000ff"/>
<polygon points="396.5,1229.9 392.3,1238.0 400.8,1238.0" fill="#0000ff"/>
<rect x="83.3" y="1183.5" width="340.0" height="340.5" fill="none" stroke="#000" stroke-width="1.5"/>
<line x1="76.6" y1="1512.2" x2="83.3" y2="1512.2" stroke="#000" stroke-width="1.2"/>
<text x="72.6" y="1517.2" font-size="14.5" font-weight="normal" font-style="normal" text-anchor="end" fill="#000" >0.0</text>
<line x1="79.1" y1="1482.3" x2="83.3" y2="1482.3" stroke="#000" stroke-width="1.2"/>
<line x1="76.6" y1="1452.4" x2="83.3" y2="1452.4" stroke="#000" stroke-width="1.2"/>
<text x="72.6" y="1457.4" font-size="14.5" font-weight="normal" font-style="normal" text-anchor="end" fill="#000" >0.1</text>
<line x1="79.1" y1="1422.5" x2="83.3" y2="1422.5" stroke="#000" stroke-width="1.2"/>
<line x1="76.6" y1="1392.6" x2="83.3" y2="1392.6" stroke="#000" stroke-width="1.2"/>
<text x="72.6" y="1397.6" font-size="14.5" font-weight="normal" font-style="normal" text-anchor="end" fill="#000" >0.2</text>
<line x1="79.1" y1="1362.7" x2="83.3" y2="1362.7" stroke="#000" stroke-width="1.2"/>
<line x1="76.6" y1="1332.8" x2="83.3" y2="1332.8" stroke="#000" stroke-width="1.2"/>
<text x="72.6" y="1337.8" font-size="14.5" font-weight="normal" font-style="normal" text-anchor="end" fill="#000" >0.3</text>
<line x1="79.1" y1="1302.9" x2="83.3" y2="1302.9" stroke="#000" stroke-width="1.2"/>
<line x1="76.6" y1="1273.0" x2="83.3" y2="1273.0" stroke="#000" stroke-width="1.2"/>
<text x="72.6" y="1278.0" font-size="14.5" font-weight="normal" font-style="normal" text-anchor="end" fill="#000" >0.4</text>
<line x1="79.1" y1="1243.1" x2="83.3" y2="1243.1" stroke="#000" stroke-width="1.2"/>
<line x1="76.6" y1="1213.2" x2="83.3" y2="1213.2" stroke="#000" stroke-width="1.2"/>
<text x="72.6" y="1218.2" font-size="14.5" font-weight="normal" font-style="normal" text-anchor="end" fill="#000" >0.5</text>
<line x1="83.3" y1="1524.0" x2="83.3" y2="1530.3" stroke="#000" stroke-width="1.2"/>
<text x="83.3" y="1544.5" font-size="14.5" font-weight="normal" font-style="normal" text-anchor="middle" fill="#000" >0</text>
<line x1="109.4" y1="1524.0" x2="109.4" y2="1527.2" stroke="#000" stroke-width="1.2"/>
<line x1="135.5" y1="1524.0" x2="135.5" y2="1530.3" stroke="#000" stroke-width="1.2"/>
<text x="135.5" y="1544.5" font-size="14.5" font-weight="normal" font-style="normal" text-anchor="middle" fill="#000" >1</text>
<line x1="161.6" y1="1524.0" x2="161.6" y2="1527.2" stroke="#000" stroke-width="1.2"/>
<line x1="187.7" y1="1524.0" x2="187.7" y2="1530.3" stroke="#000" stroke-width="1.2"/>
<text x="187.7" y="1544.5" font-size="14.5" font-weight="normal" font-style="normal" text-anchor="middle" fill="#000" >2</text>
<line x1="213.8" y1="1524.0" x2="213.8" y2="1527.2" stroke="#000" stroke-width="1.2"/>
<line x1="239.9" y1="1524.0" x2="239.9" y2="1530.3" stroke="#000" stroke-width="1.2"/>
<text x="239.9" y="1544.5" font-size="14.5" font-weight="normal" font-style="normal" text-anchor="middle" fill="#000" >3</text>
<line x1="266.0" y1="1524.0" x2="266.0" y2="1527.2" stroke="#000" stroke-width="1.2"/>
<line x1="292.1" y1="1524.0" x2="292.1" y2="1530.3" stroke="#000" stroke-width="1.2"/>
<text x="292.1" y="1544.5" font-size="14.5" font-weight="normal" font-style="normal" text-anchor="middle" fill="#000" >4</text>
<line x1="318.2" y1="1524.0" x2="318.2" y2="1527.2" stroke="#000" stroke-width="1.2"/>
<line x1="344.3" y1="1524.0" x2="344.3" y2="1530.3" stroke="#000" stroke-width="1.2"/>
<text x="344.3" y="1544.5" font-size="14.5" font-weight="normal" font-style="normal" text-anchor="middle" fill="#000" >5</text>
<line x1="370.4" y1="1524.0" x2="370.4" y2="1527.2" stroke="#000" stroke-width="1.2"/>
<line x1="396.5" y1="1524.0" x2="396.5" y2="1530.3" stroke="#000" stroke-width="1.2"/>
<text x="396.5" y="1544.5" font-size="14.5" font-weight="normal" font-style="normal" text-anchor="middle" fill="#000" >6</text>
<line x1="422.6" y1="1524.0" x2="422.6" y2="1527.2" stroke="#000" stroke-width="1.2"/>
<text x="252.6" y="1577.5" font-size="20.6" font-weight="bold" font-style="normal" text-anchor="middle" fill="#000" >Irradiation time (min)</text>
<text transform="translate(37.6,1375) rotate(-90)" font-size="21.5" font-weight="bold" text-anchor="middle">ln (A<tspan font-size="20" dy="7.5">0</tspan><tspan dy="-7.5">/A)</tspan></text>
<rect x="97.0" y="1195.5" width="29.1" height="28.4" fill="#000"/>
<rect x="93.0" y="1191.5" width="29.1" height="28.4" fill="#fff" stroke="#777" stroke-width="0.7"/>
<text x="107.5" y="1213.0" font-size="20.4" font-weight="bold" font-style="normal" text-anchor="middle" fill="#000" >E</text>
<line x1="109.3" y1="1257.0" x2="145" y2="1257.0" stroke="#ff0000" stroke-width="1.8"/>
<rect x="121.5" y="1251.5" width="11" height="11" fill="#ff0000"/>
<text x="150.0" y="1262.5" font-size="15.8" font-weight="normal" font-style="normal" text-anchor="start" fill="#000" >PTB-PFPA</text>
<line x1="109.3" y1="1277.2" x2="145" y2="1277.2" stroke="#000000" stroke-width="1.8"/>
<circle cx="127.0" cy="1277.2" r="5.5" fill="#000000"/>
<text x="150.0" y="1282.7" font-size="15.8" font-weight="normal" font-style="normal" text-anchor="start" fill="#000" >MTB-PFPA</text>
<line x1="109.3" y1="1297.0" x2="145" y2="1297.0" stroke="#0000ff" stroke-width="1.8"/>
<polygon points="127.0,1290.7 121.5,1301.2 132.5,1301.2" fill="#0000ff"/>
<text x="150.0" y="1302.5" font-size="15.8" font-weight="normal" font-style="normal" text-anchor="start" fill="#000" >RB</text>
<line x1="471.3" y1="1514" x2="867.8" y2="1514" stroke="#000" stroke-width="1.3"/>
<line x1="871.2" y1="1513.7" x2="1267" y2="1513.7" stroke="#000" stroke-width="1.3"/>
<line x1="492.6" y1="1514" x2="492.6" y2="1517.5" stroke="#000" stroke-width="1.1"/>
<line x1="527.9" y1="1514" x2="527.9" y2="1518.5" stroke="#000" stroke-width="1.1"/>
<text x="527.9" y="1535.8" font-size="15" font-weight="normal" font-style="normal" text-anchor="middle" fill="#000" >3000</text>
<line x1="563.2" y1="1514" x2="563.2" y2="1517.5" stroke="#000" stroke-width="1.1"/>
<line x1="598.5" y1="1514" x2="598.5" y2="1518.5" stroke="#000" stroke-width="1.1"/>
<text x="598.5" y="1535.8" font-size="15" font-weight="normal" font-style="normal" text-anchor="middle" fill="#000" >3250</text>
<line x1="633.8" y1="1514" x2="633.8" y2="1517.5" stroke="#000" stroke-width="1.1"/>
<line x1="669.1" y1="1514" x2="669.1" y2="1518.5" stroke="#000" stroke-width="1.1"/>
<text x="669.1" y="1535.8" font-size="15" font-weight="normal" font-style="normal" text-anchor="middle" fill="#000" >3500</text>
<line x1="704.4" y1="1514" x2="704.4" y2="1517.5" stroke="#000" stroke-width="1.1"/>
<line x1="739.7" y1="1514" x2="739.7" y2="1518.5" stroke="#000" stroke-width="1.1"/>
<text x="739.7" y="1535.8" font-size="15" font-weight="normal" font-style="normal" text-anchor="middle" fill="#000" >3750</text>
<line x1="775.0" y1="1514" x2="775.0" y2="1517.5" stroke="#000" stroke-width="1.1"/>
<line x1="810.3" y1="1514" x2="810.3" y2="1518.5" stroke="#000" stroke-width="1.1"/>
<text x="810.3" y="1535.8" font-size="15" font-weight="normal" font-style="normal" text-anchor="middle" fill="#000" >4000</text>
<line x1="845.6" y1="1514" x2="845.6" y2="1517.5" stroke="#000" stroke-width="1.1"/>
<line x1="892.9" y1="1514" x2="892.9" y2="1517.5" stroke="#000" stroke-width="1.1"/>
<line x1="928.2" y1="1514" x2="928.2" y2="1518.5" stroke="#000" stroke-width="1.1"/>
<text x="928.2" y="1535.8" font-size="15" font-weight="normal" font-style="normal" text-anchor="middle" fill="#000" >3000</text>
<line x1="963.5" y1="1514" x2="963.5" y2="1517.5" stroke="#000" stroke-width="1.1"/>
<line x1="998.8" y1="1514" x2="998.8" y2="1518.5" stroke="#000" stroke-width="1.1"/>
<text x="998.8" y="1535.8" font-size="15" font-weight="normal" font-style="normal" text-anchor="middle" fill="#000" >3250</text>
<line x1="1034.1" y1="1514" x2="1034.1" y2="1517.5" stroke="#000" stroke-width="1.1"/>
<line x1="1069.4" y1="1514" x2="1069.4" y2="1518.5" stroke="#000" stroke-width="1.1"/>
<text x="1069.4" y="1535.8" font-size="15" font-weight="normal" font-style="normal" text-anchor="middle" fill="#000" >3500</text>
<line x1="1104.7" y1="1514" x2="1104.7" y2="1517.5" stroke="#000" stroke-width="1.1"/>
<line x1="1140.0" y1="1514" x2="1140.0" y2="1518.5" stroke="#000" stroke-width="1.1"/>
<text x="1140.0" y="1535.8" font-size="15" font-weight="normal" font-style="normal" text-anchor="middle" fill="#000" >3750</text>
<line x1="1175.3" y1="1514" x2="1175.3" y2="1517.5" stroke="#000" stroke-width="1.1"/>
<line x1="1210.6" y1="1514" x2="1210.6" y2="1518.5" stroke="#000" stroke-width="1.1"/>
<text x="1210.6" y="1535.8" font-size="15" font-weight="normal" font-style="normal" text-anchor="middle" fill="#000" >4000</text>
<line x1="1245.9" y1="1514" x2="1245.9" y2="1517.5" stroke="#000" stroke-width="1.1"/>
<text x="669.5" y="1568.0" font-size="21.4" font-weight="bold" font-style="normal" text-anchor="middle" fill="#000" >Magnetic Filed</text>
<text x="1064.8" y="1567.0" font-size="21.3" font-weight="bold" font-style="normal" text-anchor="middle" fill="#000" >Magnetic Field</text>
<polyline points="527.90,1269.17 528.40,1269.87 528.90,1266.37 529.40,1267.13 529.90,1267.56 530.40,1267.58 530.90,1267.40 531.40,1267.26 531.91,1267.79 532.41,1270.93 532.91,1270.04 533.41,1268.32 533.91,1267.92 534.41,1269.00 534.91,1266.21 535.41,1267.74 535.91,1267.79 536.41,1269.07 536.91,1268.79 537.41,1266.18 537.91,1269.98 538.41,1267.92 538.92,1267.14 539.42,1265.11 539.92,1267.90 540.42,1265.66 540.92,1269.08 541.42,1265.97 541.92,1268.14 542.42,1267.87 542.92,1268.42 543.42,1269.33 543.92,1266.84 544.42,1268.43 544.92,1266.29 545.42,1267.01 545.93,1269.56 546.43,1268.63 546.93,1267.10 547.43,1267.96 547.93,1267.87 548.43,1265.83 548.93,1263.54 549.43,1266.23 549.93,1267.00 550.43,1266.95 550.93,1265.99 551.43,1266.60 551.93,1266.45 552.43,1266.88 552.94,1266.58 553.44,1268.38 553.94,1266.57 554.44,1266.30 554.94,1268.13 555.44,1269.46 555.94,1268.86 556.44,1265.38 556.94,1266.78 557.44,1266.89 557.94,1267.49 558.44,1266.51 558.94,1267.06 559.44,1267.96 559.95,1268.31 560.45,1268.84 560.95,1267.25 561.45,1269.05 561.95,1267.20 562.45,1268.01 562.95,1266.78 563.45,1267.41 563.95,1267.91 564.45,1267.80 564.95,1268.95 565.45,1269.94 565.95,1269.01 566.45,1271.94 566.96,1269.14 567.46,1270.16 567.96,1267.47 568.46,1269.53 568.96,1271.11 569.46,1268.01 569.96,1266.56 570.46,1270.66 570.96,1268.50 571.46,1268.16 571.96,1269.46 572.46,1264.85 572.96,1269.71 573.46,1265.40 573.97,1266.25 574.47,1268.36 574.97,1267.09 575.47,1268.04 575.97,1267.40 576.47,1269.37 576.97,1268.46 577.47,1267.85 577.97,1270.39 578.47,1268.29 578.97,1266.72 579.47,1265.13 579.97,1268.83 580.47,1266.64 580.98,1267.81 581.48,1270.20 581.98,1269.33 582.48,1267.74 582.98,1268.63 583.48,1266.93 583.98,1269.01 584.48,1266.75 584.98,1268.85 585.48,1269.55 585.98,1270.96 586.48,1270.00 586.98,1267.39 587.48,1269.51 587.98,1267.43 588.49,1267.40 588.99,1269.29 589.49,1267.13 589.99,1267.35 590.49,1270.35 590.99,1268.29 591.49,1267.53 591.99,1268.94 592.49,1268.52 592.99,1268.81 593.49,1268.81 593.99,1270.78 594.49,1270.65 594.99,1269.72 595.50,1267.82 596.00,1269.71 596.50,1269.72 597.00,1269.70 597.50,1268.35 598.00,1267.95 598.50,1268.54 599.00,1268.90 599.50,1268.17 600.00,1269.93 600.50,1268.34 601.00,1268.07 601.50,1269.92 602.00,1269.61 602.51,1269.08 603.01,1267.18 603.51,1266.21 604.01,1267.22 604.51,1269.14 605.01,1269.38 605.51,1267.71 606.01,1266.34 606.51,1266.79 607.01,1267.86 607.51,1268.67 608.01,1270.15 608.51,1269.63 609.01,1265.68 609.52,1267.71 610.02,1268.26 610.52,1267.68 611.02,1268.78 611.52,1264.23 612.02,1268.61 612.52,1269.42 613.02,1269.18 613.52,1267.99 614.02,1266.94 614.52,1270.80 615.02,1270.21 615.52,1266.74 616.02,1267.13 616.53,1268.35 617.03,1268.30 617.53,1268.83 618.03,1266.72 618.53,1267.37 619.03,1267.04 619.53,1268.81 620.03,1267.54 620.53,1266.94 621.03,1267.51 621.53,1268.76 622.03,1269.15 622.53,1267.27 623.03,1268.11 623.54,1268.48 624.04,1267.48 624.54,1266.90 625.04,1268.14 625.54,1270.02 626.04,1267.22 626.54,1269.08 627.04,1268.25 627.54,1270.44 628.04,1265.96 628.54,1267.59 629.04,1269.15 629.54,1267.77 630.04,1266.71 630.55,1269.64 631.05,1270.66 631.55,1266.58 632.05,1268.48 632.55,1269.46 633.05,1268.74 633.55,1268.07 634.05,1267.37 634.55,1269.63 635.05,1272.73 635.55,1270.59 636.05,1268.67 636.55,1271.73 637.05,1269.77 637.56,1266.08 638.06,1264.81 638.56,1268.71 639.06,1269.08 639.56,1267.21 640.06,1270.43 640.56,1271.28 641.06,1268.04 641.56,1267.55 642.06,1266.04 642.56,1270.35 643.06,1272.84 643.56,1270.39 644.06,1269.41 644.56,1269.52 645.07,1268.95 645.57,1265.94 646.07,1268.47 646.57,1267.87 647.07,1269.14 647.57,1269.43 648.07,1269.98 648.57,1266.04 649.07,1269.18 649.57,1268.86 650.07,1268.34 650.57,1268.09 651.07,1266.48 651.57,1268.93 652.08,1270.35 652.58,1270.68 653.08,1267.90 653.58,1270.44 654.08,1270.33 654.58,1268.36 655.08,1267.04 655.58,1266.49 656.08,1269.14 656.58,1271.88 657.08,1271.56 657.58,1268.49 658.08,1266.54 658.58,1268.78 659.09,1267.83 659.59,1266.69 660.09,1265.29 660.59,1265.05 661.09,1271.61 661.59,1271.10 662.09,1269.10 662.59,1268.95 663.09,1268.87 663.59,1267.12 664.09,1270.34 664.59,1269.98 665.09,1269.17 665.59,1267.05 666.10,1266.78 666.60,1267.99 667.10,1267.83 667.60,1268.40 668.10,1269.13 668.60,1268.28 669.10,1267.43 669.60,1266.96 670.10,1265.05 670.60,1265.95 671.10,1265.45 671.60,1263.51 672.10,1261.84 672.60,1269.06 673.11,1278.30 673.61,1275.93 674.11,1277.69 674.61,1274.91 675.11,1274.26 675.61,1275.32 676.11,1272.13 676.61,1271.02 677.11,1272.09 677.61,1270.01 678.11,1270.39 678.61,1271.46 679.11,1271.77 679.61,1269.05 680.12,1271.76 680.62,1273.08 681.12,1271.10 681.62,1266.99 682.12,1268.36 682.62,1269.67 683.12,1270.50 683.62,1270.16 684.12,1270.05 684.62,1269.46 685.12,1269.45 685.62,1267.20 686.12,1268.33 686.62,1266.11 687.13,1268.23 687.63,1271.03 688.13,1269.92 688.63,1271.05 689.13,1269.85 689.63,1270.62 690.13,1268.56 690.63,1269.45 691.13,1269.47 691.63,1271.89 692.13,1268.53 692.63,1270.38 693.13,1271.35 693.63,1268.13 694.14,1269.81 694.64,1269.50 695.14,1268.79 695.64,1269.70 696.14,1269.72 696.64,1269.19 697.14,1270.39 697.64,1269.88 698.14,1271.49 698.64,1270.21 699.14,1270.75 699.64,1267.91 700.14,1271.01 700.64,1269.35 701.14,1271.11 701.65,1269.01 702.15,1267.61 702.65,1268.25 703.15,1268.24 703.65,1269.57 704.15,1268.20 704.65,1267.11 705.15,1268.81 705.65,1268.12 706.15,1271.54 706.65,1268.52 707.15,1271.39 707.65,1271.32 708.15,1270.28 708.66,1269.57 709.16,1270.44 709.66,1270.71 710.16,1271.47 710.66,1270.19 711.16,1269.93 711.66,1269.74 712.16,1269.20 712.66,1270.07 713.16,1270.35 713.66,1268.69 714.16,1268.04 714.66,1268.64 715.16,1271.09 715.67,1269.34 716.17,1265.34 716.67,1269.80 717.17,1269.01 717.67,1267.65 718.17,1268.80 718.67,1270.13 719.17,1270.74 719.67,1270.57 720.17,1270.60 720.67,1267.85 721.17,1268.32 721.67,1270.25 722.17,1268.89 722.68,1269.23 723.18,1269.20 723.68,1269.94 724.18,1272.48 724.68,1268.55 725.18,1272.23 725.68,1268.74 726.18,1267.48 726.68,1268.76 727.18,1268.67 727.68,1267.05 728.18,1268.04 728.68,1268.05 729.18,1268.35 729.69,1269.11 730.19,1266.57 730.69,1267.64 731.19,1269.06 731.69,1269.02 732.19,1269.41 732.69,1270.26 733.19,1269.22 733.69,1269.44 734.19,1269.04 734.69,1268.80 735.19,1267.54 735.69,1271.21 736.19,1271.57 736.70,1268.92 737.20,1267.55 737.70,1270.14 738.20,1270.50 738.70,1267.67 739.20,1269.16 739.70,1270.54 740.20,1268.25 740.70,1269.20 741.20,1270.15 741.70,1267.99 742.20,1268.39 742.70,1269.65 743.20,1270.46 743.71,1269.95 744.21,1269.73 744.71,1265.90 745.21,1267.12 745.71,1268.55 746.21,1270.90 746.71,1269.63 747.21,1269.20 747.71,1271.28 748.21,1271.03 748.71,1269.99 749.21,1269.69 749.71,1267.92 750.21,1272.19 750.72,1269.22 751.22,1272.19 751.72,1269.16 752.22,1270.07 752.72,1268.57 753.22,1268.71 753.72,1270.94 754.22,1269.90 754.72,1270.02 755.22,1271.13 755.72,1268.69 756.22,1269.50 756.72,1271.54 757.22,1268.02 757.72,1270.45 758.23,1266.19 758.73,1269.20 759.23,1272.34 759.73,1273.28 760.23,1270.74 760.73,1271.80 761.23,1269.95 761.73,1267.24 762.23,1271.11 762.73,1270.20 763.23,1273.64 763.73,1269.62 764.23,1268.00 764.73,1270.54 765.24,1269.83 765.74,1271.59 766.24,1270.89 766.74,1268.11 767.24,1268.95 767.74,1268.70 768.24,1271.81 768.74,1272.37 769.24,1271.43 769.74,1269.84 770.24,1273.44 770.74,1267.98 771.24,1270.98 771.74,1269.18 772.25,1271.87 772.75,1271.95 773.25,1270.35 773.75,1271.95 774.25,1271.13 774.75,1269.48 775.25,1269.30 775.75,1270.31 776.25,1267.17 776.75,1267.25 777.25,1270.30 777.75,1271.38 778.25,1270.34 778.75,1271.19 779.26,1269.37 779.76,1271.64 780.26,1269.91 780.76,1268.42 781.26,1268.97 781.76,1267.93 782.26,1268.95 782.76,1271.43 783.26,1271.21 783.76,1271.31 784.26,1269.94 784.76,1268.36 785.26,1270.34 785.76,1272.04 786.27,1270.97 786.77,1270.43 787.27,1271.18 787.77,1271.00 788.27,1269.37 788.77,1271.69 789.27,1270.24 789.77,1270.96 790.27,1270.27 790.77,1269.90 791.27,1271.20 791.77,1271.28 792.27,1271.32 792.77,1270.71 793.28,1269.71 793.78,1269.34 794.28,1268.80 794.78,1269.82 795.28,1270.89 795.78,1268.51 796.28,1270.90 796.78,1269.41 797.28,1268.28 797.78,1269.51 798.28,1271.80 798.78,1269.50 799.28,1269.26 799.78,1270.05 800.29,1269.25 800.79,1269.79 801.29,1268.79 801.79,1270.25 802.29,1269.34 802.79,1268.65 803.29,1269.61 803.79,1268.05 804.29,1269.49 804.79,1269.43 805.29,1270.92 805.79,1269.87 806.29,1268.75 806.79,1272.64 807.30,1269.86 807.80,1271.37 808.30,1270.43 808.80,1272.60 809.30,1274.59 809.80,1271.70 810.30,1269.45 810.80,1271.52" fill="none" stroke="#ff0000" stroke-width="1"/>
<polyline points="527.90,1384.39 528.40,1380.90 528.90,1382.21 529.40,1379.31 529.90,1379.07 530.40,1379.35 530.90,1379.35 531.40,1381.28 531.91,1382.89 532.41,1381.01 532.91,1381.45 533.41,1381.32 533.91,1378.99 534.41,1382.74 534.91,1381.62 535.41,1381.65 535.91,1376.08 536.41,1379.63 536.91,1382.89 537.41,1380.09 537.91,1381.21 538.41,1378.74 538.92,1381.52 539.42,1381.19 539.92,1379.59 540.42,1381.36 540.92,1378.65 541.42,1380.71 541.92,1382.55 542.42,1380.77 542.92,1381.01 543.42,1379.70 543.92,1380.77 544.42,1380.49 544.92,1382.32 545.42,1381.07 545.93,1379.68 546.43,1381.04 546.93,1381.07 547.43,1382.38 547.93,1381.39 548.43,1381.16 548.93,1382.31 549.43,1381.30 549.93,1380.91 550.43,1380.54 550.93,1382.79 551.43,1383.07 551.93,1382.80 552.43,1384.90 552.94,1383.89 553.44,1382.58 553.94,1385.11 554.44,1384.42 554.94,1383.57 555.44,1382.42 555.94,1382.89 556.44,1384.15 556.94,1383.28 557.44,1382.19 557.94,1380.19 558.44,1379.91 558.94,1382.98 559.44,1382.51 559.95,1384.09 560.45,1381.10 560.95,1380.75 561.45,1381.87 561.95,1383.26 562.45,1383.29 562.95,1381.12 563.45,1381.10 563.95,1382.93 564.45,1382.03 564.95,1383.94 565.45,1382.79 565.95,1383.15 566.45,1382.59 566.96,1378.13 567.46,1380.96 567.96,1382.07 568.46,1383.75 568.96,1380.77 569.46,1380.05 569.96,1378.07 570.46,1382.05 570.96,1381.62 571.46,1382.09 571.96,1382.27 572.46,1381.64 572.96,1380.46 573.46,1382.41 573.97,1382.46 574.47,1381.42 574.97,1384.09 575.47,1383.11 575.97,1379.77 576.47,1380.19 576.97,1385.57 577.47,1383.71 577.97,1381.58 578.47,1379.16 578.97,1381.11 579.47,1382.55 579.97,1383.77 580.47,1380.52 580.98,1379.12 581.48,1380.38 581.98,1382.60 582.48,1382.40 582.98,1381.29 583.48,1381.70 583.98,1381.86 584.48,1382.95 584.98,1384.00 585.48,1381.37 585.98,1384.51 586.48,1383.53 586.98,1381.60 587.48,1382.51 587.98,1382.53 588.49,1384.51 588.99,1384.38 589.49,1380.07 589.99,1382.36 590.49,1384.42 590.99,1381.88 591.49,1379.73 591.99,1383.25 592.49,1383.79 592.99,1382.70 593.49,1383.18 593.99,1385.13 594.49,1383.39 594.99,1383.36 595.50,1385.26 596.00,1382.91 596.50,1382.92 597.00,1383.06 597.50,1382.44 598.00,1382.80 598.50,1386.12 599.00,1379.99 599.50,1385.04 600.00,1384.60 600.50,1384.77 601.00,1384.27 601.50,1382.86 602.00,1381.25 602.51,1384.03 603.01,1379.80 603.51,1383.05 604.01,1381.89 604.51,1380.89 605.01,1381.65 605.51,1381.90 606.01,1382.84 606.51,1383.07 607.01,1384.86 607.51,1382.36 608.01,1385.35 608.51,1383.09 609.01,1383.85 609.52,1383.11 610.02,1384.13 610.52,1385.92 611.02,1384.37 611.52,1382.99 612.02,1383.35 612.52,1385.37 613.02,1386.87 613.52,1384.28 614.02,1385.54 614.52,1384.87 615.02,1381.06 615.52,1383.74 616.02,1382.66 616.53,1382.54 617.03,1384.51 617.53,1383.89 618.03,1383.66 618.53,1383.24 619.03,1383.24 619.53,1382.87 620.03,1383.93 620.53,1383.83 621.03,1384.42 621.53,1386.06 622.03,1383.54 622.53,1381.65 623.03,1382.81 623.54,1384.82 624.04,1383.03 624.54,1382.32 625.04,1384.00 625.54,1385.85 626.04,1383.80 626.54,1383.91 627.04,1382.33 627.54,1382.92 628.04,1382.59 628.54,1381.39 629.04,1382.57 629.54,1384.72 630.04,1385.33 630.55,1383.22 631.05,1384.89 631.55,1384.25 632.05,1385.41 632.55,1383.41 633.05,1384.29 633.55,1384.94 634.05,1383.04 634.55,1383.47 635.05,1383.59 635.55,1386.35 636.05,1384.64 636.55,1383.09 637.05,1383.41 637.56,1382.11 638.06,1381.74 638.56,1383.27 639.06,1382.96 639.56,1384.12 640.06,1387.11 640.56,1386.79 641.06,1385.67 641.56,1384.60 642.06,1386.18 642.56,1385.11 643.06,1385.35 643.56,1383.45 644.06,1384.97 644.56,1385.65 645.07,1385.42 645.57,1385.52 646.07,1384.80 646.57,1385.96 647.07,1383.92 647.57,1383.59 648.07,1385.11 648.57,1385.06 649.07,1384.89 649.57,1383.96 650.07,1383.19 650.57,1386.43 651.07,1386.58 651.57,1385.16 652.08,1383.72 652.58,1387.02 653.08,1381.25 653.58,1382.89 654.08,1382.89 654.58,1384.75 655.08,1388.50 655.58,1388.74 656.08,1384.45 656.58,1381.85 657.08,1384.19 657.58,1384.54 658.08,1385.20 658.58,1385.72 659.09,1387.21 659.59,1385.15 660.09,1385.11 660.59,1386.68 661.09,1384.91 661.59,1384.99 662.09,1385.80 662.59,1383.65 663.09,1385.79 663.59,1386.56 664.09,1386.24 664.59,1386.02 665.09,1383.88 665.59,1386.22 666.10,1385.07 666.60,1383.46 667.10,1386.86 667.60,1387.26 668.10,1384.86 668.60,1385.99 669.10,1383.35 669.60,1386.33 670.10,1384.37 670.60,1385.26 671.10,1385.59 671.60,1387.63 672.10,1387.71 672.60,1386.29 673.11,1383.77 673.61,1383.98 674.11,1384.56 674.61,1383.63 675.11,1386.20 675.61,1383.16 676.11,1385.12 676.61,1386.04 677.11,1387.03 677.61,1389.22 678.11,1385.27 678.61,1385.74 679.11,1385.24 679.61,1384.37 680.12,1383.99 680.62,1385.98 681.12,1385.30 681.62,1384.92 682.12,1386.31 682.62,1385.28 683.12,1384.19 683.62,1386.42 684.12,1386.19 684.62,1383.62 685.12,1383.92 685.62,1385.66 686.12,1386.33 686.62,1387.45 687.13,1385.09 687.63,1385.07 688.13,1386.29 688.63,1385.16 689.13,1387.32 689.63,1384.78 690.13,1386.24 690.63,1384.94 691.13,1386.07 691.63,1387.15 692.13,1386.03 692.63,1384.66 693.13,1385.78 693.63,1385.69 694.14,1387.08 694.64,1387.89 695.14,1383.76 695.64,1383.78 696.14,1386.50 696.64,1383.12 697.14,1388.57 697.64,1386.00 698.14,1387.45 698.64,1385.09 699.14,1385.98 699.64,1387.12 700.14,1387.72 700.64,1388.12 701.14,1388.11 701.65,1386.43 702.15,1386.51 702.65,1387.33 703.15,1389.48 703.65,1388.97 704.15,1386.58 704.65,1384.96 705.15,1384.24 705.65,1385.70 706.15,1385.54 706.65,1383.90 707.15,1385.01 707.65,1386.16 708.15,1384.41 708.66,1385.46 709.16,1387.69 709.66,1387.88 710.16,1386.09 710.66,1386.70 711.16,1383.12 711.66,1386.26 712.16,1388.22 712.66,1386.05 713.16,1384.14 713.66,1388.64 714.16,1388.48 714.66,1386.03 715.16,1382.20 715.67,1387.87 716.17,1385.04 716.67,1385.77 717.17,1386.68 717.67,1385.86 718.17,1389.16 718.67,1386.78 719.17,1387.10 719.67,1386.62 720.17,1387.90 720.67,1386.17 721.17,1386.21 721.67,1386.36 722.17,1388.20 722.68,1387.25 723.18,1386.69 723.68,1386.45 724.18,1384.15 724.68,1388.07 725.18,1385.86 725.68,1387.03 726.18,1385.43 726.68,1386.43 727.18,1387.49 727.68,1385.13 728.18,1387.49 728.68,1388.12 729.18,1389.37 729.69,1387.35 730.19,1385.63 730.69,1387.31 731.19,1387.62 731.69,1389.62 732.19,1387.51 732.69,1387.01 733.19,1388.93 733.69,1387.31 734.19,1387.27 734.69,1389.52 735.19,1385.73 735.69,1387.38 736.19,1383.82 736.70,1387.29 737.20,1384.20 737.70,1386.43 738.20,1387.80 738.70,1387.27 739.20,1383.76 739.70,1387.51 740.20,1385.58 740.70,1385.29 741.20,1387.28 741.70,1386.11 742.20,1386.23 742.70,1385.95 743.20,1387.62 743.71,1386.14 744.21,1385.43 744.71,1388.17 745.21,1386.66 745.71,1385.44 746.21,1386.35 746.71,1387.47 747.21,1385.70 747.71,1385.69 748.21,1386.87 748.71,1387.97 749.21,1389.11 749.71,1387.26 750.21,1389.24 750.72,1388.41 751.22,1387.09 751.72,1389.02 752.22,1389.53 752.72,1386.74 753.22,1386.85 753.72,1386.99 754.22,1385.48 754.72,1386.27 755.22,1385.55 755.72,1387.23 756.22,1388.62 756.72,1387.96 757.22,1387.73 757.72,1386.85 758.23,1388.91 758.73,1386.72 759.23,1386.28 759.73,1388.47 760.23,1388.83 760.73,1390.34 761.23,1386.67 761.73,1385.99 762.23,1387.51 762.73,1387.85 763.23,1388.32 763.73,1389.02 764.23,1391.30 764.73,1389.11 765.24,1387.65 765.74,1388.15 766.24,1389.17 766.74,1385.62 767.24,1388.31 767.74,1388.55 768.24,1388.94 768.74,1386.76 769.24,1390.89 769.74,1389.44 770.24,1389.93 770.74,1390.08 771.24,1390.03 771.74,1389.08 772.25,1388.80 772.75,1390.47 773.25,1387.17 773.75,1385.85 774.25,1388.49 774.75,1388.57 775.25,1385.20 775.75,1387.54 776.25,1387.22 776.75,1387.28 777.25,1388.81 777.75,1390.32 778.25,1387.49 778.75,1386.51 779.26,1389.59 779.76,1390.63 780.26,1387.89 780.76,1388.57 781.26,1389.30 781.76,1388.63 782.26,1386.96 782.76,1390.48 783.26,1386.40 783.76,1386.91 784.26,1389.97 784.76,1388.23 785.26,1388.29 785.76,1389.18 786.27,1387.07 786.77,1389.48 787.27,1390.85 787.77,1388.37 788.27,1390.75 788.77,1388.74 789.27,1387.74 789.77,1389.64 790.27,1388.87 790.77,1390.69 791.27,1390.53 791.77,1387.33 792.27,1386.89 792.77,1386.87 793.28,1387.38 793.78,1388.57 794.28,1389.73 794.78,1389.85 795.28,1387.03 795.78,1387.62 796.28,1388.16 796.78,1389.74 797.28,1391.75 797.78,1388.64 798.28,1389.98 798.78,1391.60 799.28,1390.08 799.78,1389.61 800.29,1390.96 800.79,1387.55 801.29,1390.40 801.79,1387.42 802.29,1389.97 802.79,1389.03 803.29,1390.16 803.79,1388.43 804.29,1388.22 804.79,1387.81 805.29,1386.98 805.79,1389.77 806.29,1389.42 806.79,1390.89 807.30,1391.97 807.80,1388.29 808.30,1388.48 808.80,1392.91 809.30,1390.50 809.80,1390.71 810.30,1390.32 810.80,1391.05" fill="none" stroke="#0000ff" stroke-width="1"/>
<polyline points="527.90,1464.14 528.40,1465.85 528.90,1464.10 529.40,1463.66 529.90,1463.87 530.40,1465.05 530.90,1465.14 531.40,1462.90 531.91,1461.83 532.41,1461.31 532.91,1463.12 533.41,1463.36 533.91,1463.77 534.41,1464.34 534.91,1463.56 535.41,1461.03 535.91,1461.26 536.41,1464.98 536.91,1464.79 537.41,1463.82 537.91,1465.55 538.41,1464.14 538.92,1462.69 539.42,1463.70 539.92,1461.31 540.42,1461.84 540.92,1466.32 541.42,1461.20 541.92,1465.81 542.42,1461.69 542.92,1463.32 543.42,1462.98 543.92,1463.76 544.42,1464.59 544.92,1466.49 545.42,1466.14 545.93,1464.00 546.43,1466.54 546.93,1464.46 547.43,1463.98 547.93,1467.14 548.43,1462.18 548.93,1463.50 549.43,1464.59 549.93,1464.81 550.43,1465.79 550.93,1467.44 551.43,1465.82 551.93,1465.77 552.43,1463.79 552.94,1462.94 553.44,1462.41 553.94,1465.42 554.44,1463.94 554.94,1464.30 555.44,1465.52 555.94,1464.39 556.44,1464.26 556.94,1466.29 557.44,1465.06 557.94,1463.37 558.44,1462.92 558.94,1463.34 559.44,1461.80 559.95,1462.04 560.45,1460.44 560.95,1462.31 561.45,1463.15 561.95,1462.73 562.45,1465.39 562.95,1464.67 563.45,1464.12 563.95,1463.94 564.45,1465.23 564.95,1465.20 565.45,1466.03 565.95,1464.24 566.45,1465.54 566.96,1465.24 567.46,1463.93 567.96,1465.49 568.46,1463.65 568.96,1463.31 569.46,1463.99 569.96,1464.81 570.46,1465.61 570.96,1465.21 571.46,1463.40 571.96,1464.52 572.46,1463.37 572.96,1462.90 573.46,1464.81 573.97,1468.04 574.47,1465.48 574.97,1461.49 575.47,1465.18 575.97,1464.60 576.47,1461.78 576.97,1463.51 577.47,1465.56 577.97,1463.78 578.47,1463.72 578.97,1466.17 579.47,1463.68 579.97,1465.87 580.47,1463.77 580.98,1464.94 581.48,1465.74 581.98,1461.93 582.48,1465.69 582.98,1464.82 583.48,1467.53 583.98,1464.76 584.48,1465.41 584.98,1466.03 585.48,1467.23 585.98,1465.35 586.48,1464.65 586.98,1465.73 587.48,1465.26 587.98,1463.34 588.49,1462.42 588.99,1464.54 589.49,1464.76 589.99,1464.28 590.49,1462.87 590.99,1465.51 591.49,1465.51 591.99,1464.48 592.49,1468.93 592.99,1468.07 593.49,1465.59 593.99,1466.48 594.49,1465.58 594.99,1464.65 595.50,1464.37 596.00,1462.93 596.50,1462.52 597.00,1463.94 597.50,1464.68 598.00,1462.52 598.50,1462.79 599.00,1465.53 599.50,1465.18 600.00,1465.38 600.50,1464.39 601.00,1464.35 601.50,1461.87 602.00,1465.04 602.51,1465.66 603.01,1464.67 603.51,1463.16 604.01,1462.56 604.51,1463.93 605.01,1465.16 605.51,1463.71 606.01,1465.80 606.51,1466.18 607.01,1464.98 607.51,1465.48 608.01,1463.96 608.51,1464.44 609.01,1463.02 609.52,1463.80 610.02,1469.20 610.52,1468.38 611.02,1464.69 611.52,1461.54 612.02,1465.77 612.52,1464.42 613.02,1465.09 613.52,1468.28 614.02,1464.14 614.52,1465.68 615.02,1464.78 615.52,1464.12 616.02,1465.62 616.53,1466.56 617.03,1467.19 617.53,1464.92 618.03,1464.96 618.53,1464.15 619.03,1465.84 619.53,1463.74 620.03,1465.87 620.53,1463.67 621.03,1465.61 621.53,1464.35 622.03,1465.41 622.53,1466.90 623.03,1466.47 623.54,1464.24 624.04,1465.35 624.54,1466.95 625.04,1470.00 625.54,1467.07 626.04,1466.17 626.54,1462.40 627.04,1466.01 627.54,1463.97 628.04,1465.02 628.54,1466.14 629.04,1466.66 629.54,1467.01 630.04,1466.38 630.55,1465.05 631.05,1467.27 631.55,1467.05 632.05,1465.93 632.55,1465.11 633.05,1464.93 633.55,1465.38 634.05,1467.03 634.55,1466.59 635.05,1466.40 635.55,1466.36 636.05,1464.03 636.55,1465.51 637.05,1463.03 637.56,1464.24 638.06,1462.90 638.56,1465.26 639.06,1465.48 639.56,1464.63 640.06,1463.43 640.56,1464.04 641.06,1466.04 641.56,1465.86 642.06,1463.94 642.56,1463.04 643.06,1466.07 643.56,1464.67 644.06,1466.93 644.56,1464.66 645.07,1464.81 645.57,1466.03 646.07,1465.26 646.57,1464.59 647.07,1463.81 647.57,1464.24 648.07,1465.76 648.57,1465.66 649.07,1464.79 649.57,1463.53 650.07,1462.35 650.57,1465.41 651.07,1466.16 651.57,1465.50 652.08,1462.44 652.58,1463.35 653.08,1462.86 653.58,1463.83 654.08,1466.34 654.58,1467.03 655.08,1464.92 655.58,1465.00 656.08,1464.45 656.58,1466.02 657.08,1463.31 657.58,1466.33 658.08,1465.00 658.58,1466.87 659.09,1467.47 659.59,1464.60 660.09,1464.74 660.59,1464.73 661.09,1466.19 661.59,1467.41 662.09,1466.55 662.59,1468.29 663.09,1467.05 663.59,1466.61 664.09,1465.12 664.59,1465.50 665.09,1464.20 665.59,1463.98 666.10,1464.40 666.60,1466.30 667.10,1468.11 667.60,1467.48 668.10,1470.06 668.60,1468.87 669.10,1467.24 669.60,1466.31 670.10,1464.69 670.60,1467.64 671.10,1465.65 671.60,1464.17 672.10,1465.78 672.60,1464.80 673.11,1463.21 673.61,1465.55 674.11,1466.64 674.61,1466.09 675.11,1464.75 675.61,1466.49 676.11,1465.73 676.61,1467.01 677.11,1466.11 677.61,1465.98 678.11,1465.17 678.61,1464.89 679.11,1466.54 679.61,1468.40 680.12,1468.56 680.62,1466.83 681.12,1462.75 681.62,1465.05 682.12,1464.77 682.62,1466.03 683.12,1467.41 683.62,1465.08 684.12,1468.95 684.62,1466.08 685.12,1463.92 685.62,1465.37 686.12,1466.87 686.62,1465.92 687.13,1467.45 687.63,1467.21 688.13,1467.78 688.63,1466.43 689.13,1464.59 689.63,1465.36 690.13,1464.74 690.63,1466.88 691.13,1464.23 691.63,1466.99 692.13,1466.93 692.63,1465.74 693.13,1464.03 693.63,1464.80 694.14,1467.04 694.64,1463.61 695.14,1464.65 695.64,1466.21 696.14,1463.77 696.64,1466.06 697.14,1463.44 697.64,1465.10 698.14,1466.04 698.64,1465.74 699.14,1466.08 699.64,1465.32 700.14,1464.86 700.64,1467.37 701.14,1465.87 701.65,1465.56 702.15,1460.69 702.65,1460.64 703.15,1466.04 703.65,1467.06 704.15,1465.53 704.65,1464.92 705.15,1464.46 705.65,1464.01 706.15,1466.42 706.65,1465.82 707.15,1466.27 707.65,1464.06 708.15,1465.79 708.66,1466.73 709.16,1466.37 709.66,1466.25 710.16,1466.49 710.66,1465.70 711.16,1466.84 711.66,1464.41 712.16,1466.50 712.66,1465.13 713.16,1467.87 713.66,1468.21 714.16,1467.03 714.66,1467.98 715.16,1467.67 715.67,1467.04 716.17,1464.02 716.67,1464.74 717.17,1464.90 717.67,1465.11 718.17,1465.01 718.67,1467.09 719.17,1468.00 719.67,1469.41 720.17,1468.87 720.67,1466.58 721.17,1463.11 721.67,1467.04 722.17,1463.82 722.68,1465.75 723.18,1467.05 723.68,1465.74 724.18,1467.91 724.68,1467.86 725.18,1466.27 725.68,1465.82 726.18,1464.82 726.68,1466.34 727.18,1466.01 727.68,1466.75 728.18,1467.02 728.68,1466.75 729.18,1470.29 729.69,1466.58 730.19,1466.92 730.69,1467.41 731.19,1465.15 731.69,1465.55 732.19,1463.07 732.69,1466.09 733.19,1466.28 733.69,1468.83 734.19,1465.09 734.69,1465.57 735.19,1466.75 735.69,1468.72 736.19,1467.73 736.70,1462.66 737.20,1466.87 737.70,1466.51 738.20,1465.69 738.70,1465.92 739.20,1466.65 739.70,1464.92 740.20,1464.08 740.70,1466.59 741.20,1466.74 741.70,1465.37 742.20,1466.47 742.70,1464.65 743.20,1465.71 743.71,1467.01 744.21,1468.99 744.71,1465.07 745.21,1468.39 745.71,1465.68 746.21,1465.28 746.71,1465.96 747.21,1468.06 747.71,1466.67 748.21,1463.91 748.71,1466.47 749.21,1467.08 749.71,1467.58 750.21,1468.28 750.72,1464.65 751.22,1467.80 751.72,1467.09 752.22,1466.13 752.72,1468.56 753.22,1466.25 753.72,1465.14 754.22,1468.11 754.72,1466.32 755.22,1466.99 755.72,1467.85 756.22,1466.32 756.72,1469.92 757.22,1466.38 757.72,1467.16 758.23,1467.21 758.73,1466.57 759.23,1468.04 759.73,1467.70 760.23,1467.92 760.73,1464.87 761.23,1462.29 761.73,1467.18 762.23,1465.82 762.73,1466.00 763.23,1467.71 763.73,1468.64 764.23,1466.89 764.73,1466.72 765.24,1465.69 765.74,1465.42 766.24,1467.32 766.74,1468.14 767.24,1467.22 767.74,1465.19 768.24,1466.78 768.74,1467.05 769.24,1468.51 769.74,1469.30 770.24,1468.33 770.74,1466.88 771.24,1464.41 771.74,1466.25 772.25,1465.15 772.75,1468.22 773.25,1465.25 773.75,1466.67 774.25,1467.11 774.75,1465.90 775.25,1466.97 775.75,1465.97 776.25,1467.03 776.75,1467.73 777.25,1468.39 777.75,1466.88 778.25,1469.63 778.75,1467.66 779.26,1466.22 779.76,1464.93 780.26,1464.73 780.76,1465.80 781.26,1465.70 781.76,1467.99 782.26,1465.78 782.76,1468.00 783.26,1468.82 783.76,1465.14 784.26,1466.23 784.76,1467.34 785.26,1465.75 785.76,1468.25 786.27,1465.54 786.77,1466.93 787.27,1468.57 787.77,1467.06 788.27,1468.22 788.77,1467.78 789.27,1469.68 789.77,1468.54 790.27,1466.55 790.77,1467.48 791.27,1464.32 791.77,1467.40 792.27,1466.42 792.77,1468.35 793.28,1465.49 793.78,1464.08 794.28,1466.40 794.78,1468.10 795.28,1468.26 795.78,1467.82 796.28,1463.92 796.78,1465.33 797.28,1467.78 797.78,1464.66 798.28,1466.01 798.78,1465.99 799.28,1463.64 799.78,1466.55 800.29,1467.68 800.79,1465.34 801.29,1466.40 801.79,1466.92 802.29,1466.70 802.79,1468.28 803.29,1465.79 803.79,1465.10 804.29,1468.68 804.79,1467.08 805.29,1467.08 805.79,1465.36 806.29,1466.12 806.79,1466.28 807.30,1467.56 807.80,1466.41 808.30,1467.29 808.80,1466.93 809.30,1465.90 809.80,1466.66 810.30,1468.08 810.80,1464.83" fill="none" stroke="#000" stroke-width="1"/>
<polyline points="928.20,1263.94 928.70,1264.58 929.20,1265.42 929.70,1264.89 930.20,1264.27 930.70,1263.01 931.20,1264.04 931.70,1264.60 932.20,1265.39 932.70,1262.04 933.20,1262.77 933.70,1265.61 934.20,1264.88 934.70,1263.84 935.20,1263.11 935.70,1263.80 936.20,1266.69 936.70,1263.59 937.20,1265.58 937.70,1263.47 938.20,1262.48 938.70,1263.66 939.20,1264.70 939.70,1265.37 940.20,1266.44 940.70,1265.36 941.20,1263.21 941.70,1264.22 942.20,1263.42 942.71,1264.57 943.21,1262.87 943.71,1265.83 944.21,1265.24 944.71,1264.18 945.21,1264.49 945.71,1262.39 946.21,1264.58 946.71,1265.87 947.21,1267.63 947.71,1263.02 948.21,1265.26 948.71,1264.77 949.21,1261.59 949.71,1265.59 950.21,1264.50 950.71,1265.40 951.21,1262.00 951.71,1264.21 952.21,1262.71 952.71,1266.04 953.21,1264.01 953.71,1264.79 954.21,1266.82 954.71,1266.05 955.21,1263.54 955.71,1263.22 956.21,1266.96 956.71,1265.83 957.21,1264.39 957.71,1263.81 958.21,1263.45 958.71,1264.44 959.21,1263.73 959.71,1264.92 960.21,1264.75 960.71,1266.52 961.21,1265.11 961.71,1266.14 962.21,1266.53 962.71,1266.50 963.21,1266.83 963.71,1263.66 964.21,1261.52 964.71,1265.45 965.21,1265.63 965.71,1266.12 966.21,1264.60 966.71,1266.22 967.21,1265.67 967.71,1263.87 968.21,1265.42 968.71,1264.17 969.21,1263.18 969.71,1265.78 970.21,1267.01 970.72,1263.22 971.22,1263.12 971.72,1264.82 972.22,1265.20 972.72,1265.92 973.22,1263.32 973.72,1266.17 974.22,1268.74 974.72,1267.20 975.22,1266.43 975.72,1263.77 976.22,1264.27 976.72,1265.17 977.22,1264.15 977.72,1264.52 978.22,1267.65 978.72,1267.26 979.22,1265.42 979.72,1265.76 980.22,1266.49 980.72,1269.40 981.22,1267.22 981.72,1264.63 982.22,1265.56 982.72,1264.07 983.22,1264.65 983.72,1263.65 984.22,1262.76 984.72,1262.19 985.22,1263.29 985.72,1264.38 986.22,1263.83 986.72,1267.58 987.22,1266.86 987.72,1265.84 988.22,1267.52 988.72,1267.63 989.22,1264.55 989.72,1265.08 990.22,1264.22 990.72,1267.83 991.22,1267.51 991.72,1265.20 992.22,1267.20 992.72,1264.10 993.22,1266.81 993.72,1267.84 994.22,1266.58 994.72,1266.32 995.22,1267.19 995.72,1268.85 996.22,1265.28 996.72,1267.22 997.22,1266.92 997.72,1265.66 998.22,1265.61 998.73,1266.00 999.23,1267.07 999.73,1263.80 1000.23,1266.33 1000.73,1267.53 1001.23,1268.50 1001.73,1265.55 1002.23,1264.50 1002.73,1263.73 1003.23,1265.92 1003.73,1264.80 1004.23,1263.09 1004.73,1263.39 1005.23,1265.43 1005.73,1267.07 1006.23,1267.39 1006.73,1265.43 1007.23,1265.50 1007.73,1267.30 1008.23,1264.14 1008.73,1264.96 1009.23,1267.67 1009.73,1265.81 1010.23,1270.21 1010.73,1266.37 1011.23,1265.88 1011.73,1266.59 1012.23,1268.95 1012.73,1265.46 1013.23,1266.02 1013.73,1267.30 1014.23,1266.95 1014.73,1264.21 1015.23,1265.51 1015.73,1267.75 1016.23,1267.79 1016.73,1266.82 1017.23,1267.53 1017.73,1266.46 1018.23,1266.01 1018.73,1264.06 1019.23,1265.32 1019.73,1264.18 1020.23,1264.10 1020.73,1265.16 1021.23,1265.44 1021.73,1266.11 1022.23,1266.18 1022.73,1267.70 1023.23,1265.97 1023.73,1267.48 1024.23,1266.81 1024.73,1266.25 1025.23,1267.87 1025.73,1269.07 1026.23,1265.47 1026.73,1265.59 1027.24,1268.40 1027.74,1262.55 1028.24,1266.73 1028.74,1265.93 1029.24,1265.69 1029.74,1265.87 1030.24,1265.57 1030.74,1268.18 1031.24,1268.86 1031.74,1267.52 1032.24,1266.06 1032.74,1265.29 1033.24,1264.70 1033.74,1268.35 1034.24,1268.51 1034.74,1265.56 1035.24,1262.01 1035.74,1264.63 1036.24,1265.63 1036.74,1264.61 1037.24,1266.02 1037.74,1267.34 1038.24,1268.58 1038.74,1265.80 1039.24,1264.69 1039.74,1264.51 1040.24,1268.34 1040.74,1267.22 1041.24,1267.51 1041.74,1267.83 1042.24,1267.31 1042.74,1265.57 1043.24,1267.71 1043.74,1267.10 1044.24,1267.42 1044.74,1265.77 1045.24,1265.84 1045.74,1264.79 1046.24,1268.56 1046.74,1264.76 1047.24,1264.29 1047.74,1266.98 1048.24,1265.70 1048.74,1265.42 1049.24,1265.99 1049.74,1267.41 1050.24,1266.58 1050.74,1265.70 1051.24,1266.91 1051.74,1266.90 1052.24,1267.64 1052.74,1265.39 1053.24,1261.63 1053.74,1266.11 1054.24,1266.36 1054.74,1265.39 1055.25,1263.74 1055.75,1264.34 1056.25,1265.82 1056.75,1264.85 1057.25,1265.37 1057.75,1264.41 1058.25,1264.40 1058.75,1266.02 1059.25,1262.26 1059.75,1267.39 1060.25,1268.64 1060.75,1264.38 1061.25,1267.02 1061.75,1265.64 1062.25,1264.31 1062.75,1262.74 1063.25,1260.78 1063.75,1261.96 1064.25,1261.46 1064.75,1258.16 1065.25,1260.07 1065.75,1260.08 1066.25,1259.08 1066.75,1259.01 1067.25,1254.93 1067.75,1249.94 1068.25,1251.20 1068.75,1248.16 1069.25,1245.86 1069.75,1238.90 1070.25,1236.85 1070.75,1231.98 1071.25,1229.22 1071.75,1230.36 1072.25,1237.42 1072.75,1256.48 1073.25,1285.78 1073.75,1312.96 1074.25,1324.79 1074.75,1327.37 1075.25,1322.78 1075.75,1316.47 1076.25,1307.80 1076.75,1301.63 1077.25,1297.94 1077.75,1292.96 1078.25,1289.62 1078.75,1288.57 1079.25,1285.74 1079.75,1284.14 1080.25,1284.67 1080.75,1279.64 1081.25,1276.64 1081.75,1276.50 1082.25,1276.80 1082.75,1277.35 1083.25,1271.92 1083.76,1271.26 1084.26,1272.78 1084.76,1272.96 1085.26,1276.02 1085.76,1275.18 1086.26,1271.98 1086.76,1271.76 1087.26,1272.50 1087.76,1271.12 1088.26,1270.03 1088.76,1267.54 1089.26,1270.13 1089.76,1270.81 1090.26,1271.14 1090.76,1270.35 1091.26,1267.69 1091.76,1271.26 1092.26,1273.19 1092.76,1270.30 1093.26,1274.91 1093.76,1271.19 1094.26,1269.85 1094.76,1269.92 1095.26,1270.45 1095.76,1270.91 1096.26,1270.88 1096.76,1270.41 1097.26,1271.67 1097.76,1269.86 1098.26,1271.06 1098.76,1271.47 1099.26,1270.01 1099.76,1269.65 1100.26,1268.08 1100.76,1267.26 1101.26,1269.79 1101.76,1270.75 1102.26,1265.96 1102.76,1269.84 1103.26,1271.43 1103.76,1270.29 1104.26,1268.07 1104.76,1268.15 1105.26,1269.95 1105.76,1269.29 1106.26,1270.75 1106.76,1267.94 1107.26,1268.73 1107.76,1272.12 1108.26,1270.44 1108.76,1272.76 1109.26,1266.60 1109.76,1270.14 1110.26,1272.93 1110.76,1271.30 1111.26,1271.30 1111.77,1272.81 1112.27,1268.72 1112.77,1270.60 1113.27,1268.39 1113.77,1269.11 1114.27,1268.15 1114.77,1269.92 1115.27,1270.55 1115.77,1270.00 1116.27,1270.15 1116.77,1269.09 1117.27,1268.64 1117.77,1269.95 1118.27,1268.99 1118.77,1269.15 1119.27,1267.01 1119.77,1268.49 1120.27,1270.33 1120.77,1270.82 1121.27,1268.61 1121.77,1270.10 1122.27,1271.53 1122.77,1268.61 1123.27,1268.08 1123.77,1270.39 1124.27,1271.14 1124.77,1269.83 1125.27,1270.42 1125.77,1271.10 1126.27,1267.47 1126.77,1268.75 1127.27,1267.50 1127.77,1267.43 1128.27,1270.46 1128.77,1269.12 1129.27,1266.05 1129.77,1268.87 1130.27,1267.58 1130.77,1271.48 1131.27,1269.71 1131.77,1270.42 1132.27,1273.27 1132.77,1268.61 1133.27,1270.54 1133.77,1271.20 1134.27,1268.17 1134.77,1267.49 1135.27,1271.73 1135.77,1270.77 1136.27,1269.00 1136.77,1266.77 1137.27,1266.90 1137.77,1269.64 1138.27,1270.83 1138.77,1270.09 1139.27,1269.16 1139.78,1271.08 1140.28,1269.97 1140.78,1269.56 1141.28,1269.88 1141.78,1271.53 1142.28,1270.81 1142.78,1270.96 1143.28,1271.51 1143.78,1273.70 1144.28,1270.75 1144.78,1271.63 1145.28,1272.24 1145.78,1269.49 1146.28,1269.83 1146.78,1270.46 1147.28,1272.50 1147.78,1271.53 1148.28,1272.66 1148.78,1271.45 1149.28,1270.54 1149.78,1267.90 1150.28,1270.85 1150.78,1269.42 1151.28,1268.36 1151.78,1271.27 1152.28,1269.21 1152.78,1268.61 1153.28,1266.51 1153.78,1270.53 1154.28,1270.28 1154.78,1272.11 1155.28,1269.58 1155.78,1272.03 1156.28,1271.96 1156.78,1271.87 1157.28,1271.98 1157.78,1272.84 1158.28,1271.99 1158.78,1273.13 1159.28,1270.91 1159.78,1267.83 1160.28,1271.50 1160.78,1268.78 1161.28,1270.98 1161.78,1272.98 1162.28,1271.18 1162.78,1270.51 1163.28,1271.32 1163.78,1272.09 1164.28,1270.61 1164.78,1269.58 1165.28,1271.50 1165.78,1272.86 1166.28,1271.65 1166.78,1273.06 1167.28,1271.77 1167.78,1271.48 1168.29,1271.46 1168.79,1269.35 1169.29,1269.37 1169.79,1268.01 1170.29,1269.90 1170.79,1271.14 1171.29,1273.41 1171.79,1269.45 1172.29,1270.95 1172.79,1270.60 1173.29,1269.05 1173.79,1269.09 1174.29,1270.94 1174.79,1272.04 1175.29,1270.03 1175.79,1269.51 1176.29,1269.85 1176.79,1269.46 1177.29,1270.31 1177.79,1270.30 1178.29,1271.40 1178.79,1270.36 1179.29,1269.59 1179.79,1270.58 1180.29,1271.11 1180.79,1271.26 1181.29,1270.04 1181.79,1271.64 1182.29,1270.51 1182.79,1271.31 1183.29,1271.27 1183.79,1268.73 1184.29,1268.73 1184.79,1272.37 1185.29,1272.54 1185.79,1273.01 1186.29,1273.51 1186.79,1272.48 1187.29,1270.92 1187.79,1269.94 1188.29,1272.26 1188.79,1271.40 1189.29,1271.48 1189.79,1271.03 1190.29,1271.95 1190.79,1268.92 1191.29,1271.86 1191.79,1268.64 1192.29,1270.31 1192.79,1268.67 1193.29,1271.88 1193.79,1271.56 1194.29,1273.16 1194.79,1272.44 1195.29,1273.07 1195.79,1272.84 1196.30,1271.14 1196.80,1274.30 1197.30,1272.36 1197.80,1269.84 1198.30,1272.41 1198.80,1274.03 1199.30,1271.34 1199.80,1272.31 1200.30,1269.53 1200.80,1270.69 1201.30,1270.62 1201.80,1273.28 1202.30,1270.54 1202.80,1272.39 1203.30,1270.76 1203.80,1273.09 1204.30,1271.30 1204.80,1272.29 1205.30,1275.16 1205.80,1272.23 1206.30,1270.72 1206.80,1269.94 1207.30,1273.11 1207.80,1269.60 1208.30,1271.94 1208.80,1270.97 1209.30,1272.82 1209.80,1272.94 1210.30,1271.32" fill="none" stroke="#ff0000" stroke-width="1.1"/>
<polyline points="928.20,1377.65 928.70,1377.28 929.20,1378.65 929.70,1375.94 930.20,1380.51 930.70,1378.97 931.20,1378.25 931.70,1379.36 932.20,1380.45 932.70,1379.81 933.20,1379.66 933.70,1378.69 934.20,1376.94 934.70,1378.38 935.20,1382.18 935.70,1379.89 936.20,1377.54 936.70,1378.54 937.20,1377.96 937.70,1375.68 938.20,1378.08 938.70,1379.92 939.20,1380.69 939.70,1381.79 940.20,1379.43 940.70,1381.73 941.20,1380.71 941.70,1380.96 942.20,1379.11 942.71,1380.74 943.21,1378.02 943.71,1381.28 944.21,1377.59 944.71,1376.72 945.21,1379.72 945.71,1378.33 946.21,1379.45 946.71,1381.36 947.21,1379.42 947.71,1380.66 948.21,1380.53 948.71,1381.74 949.21,1380.01 949.71,1382.17 950.21,1379.60 950.71,1382.30 951.21,1379.94 951.71,1381.52 952.21,1377.72 952.71,1377.49 953.21,1378.77 953.71,1380.63 954.21,1382.24 954.71,1380.33 955.21,1381.22 955.71,1384.31 956.21,1382.34 956.71,1379.76 957.21,1381.44 957.71,1381.01 958.21,1379.72 958.71,1379.44 959.21,1379.51 959.71,1378.84 960.21,1380.44 960.71,1379.86 961.21,1381.59 961.71,1383.66 962.21,1379.36 962.71,1380.12 963.21,1382.62 963.71,1381.87 964.21,1381.90 964.71,1380.97 965.21,1381.07 965.71,1379.54 966.21,1381.42 966.71,1380.27 967.21,1377.88 967.71,1380.16 968.21,1379.93 968.71,1381.95 969.21,1380.61 969.71,1381.80 970.21,1381.58 970.72,1380.32 971.22,1379.58 971.72,1381.25 972.22,1381.12 972.72,1381.97 973.22,1382.79 973.72,1382.13 974.22,1382.56 974.72,1380.38 975.22,1377.78 975.72,1378.93 976.22,1380.83 976.72,1382.48 977.22,1381.14 977.72,1379.85 978.22,1381.32 978.72,1380.72 979.22,1382.32 979.72,1380.76 980.22,1379.45 980.72,1382.12 981.22,1380.79 981.72,1379.38 982.22,1382.20 982.72,1378.83 983.22,1382.08 983.72,1380.70 984.22,1377.22 984.72,1379.63 985.22,1381.55 985.72,1382.09 986.22,1380.33 986.72,1380.90 987.22,1381.12 987.72,1381.68 988.22,1380.34 988.72,1379.56 989.22,1379.33 989.72,1380.22 990.22,1377.17 990.72,1381.72 991.22,1380.79 991.72,1379.55 992.22,1378.65 992.72,1379.09 993.22,1384.00 993.72,1382.20 994.22,1381.52 994.72,1381.42 995.22,1381.16 995.72,1381.51 996.22,1379.34 996.72,1380.89 997.22,1382.69 997.72,1381.90 998.22,1380.94 998.73,1382.74 999.23,1383.50 999.73,1379.49 1000.23,1381.58 1000.73,1382.12 1001.23,1381.39 1001.73,1380.92 1002.23,1383.97 1002.73,1381.20 1003.23,1380.87 1003.73,1380.28 1004.23,1379.18 1004.73,1379.50 1005.23,1382.59 1005.73,1379.46 1006.23,1380.25 1006.73,1378.00 1007.23,1380.45 1007.73,1381.22 1008.23,1380.33 1008.73,1379.78 1009.23,1379.94 1009.73,1378.15 1010.23,1378.96 1010.73,1381.60 1011.23,1381.38 1011.73,1382.01 1012.23,1380.80 1012.73,1382.60 1013.23,1380.99 1013.73,1381.39 1014.23,1381.76 1014.73,1380.91 1015.23,1380.90 1015.73,1379.84 1016.23,1381.25 1016.73,1380.92 1017.23,1380.08 1017.73,1379.13 1018.23,1382.00 1018.73,1380.66 1019.23,1379.96 1019.73,1380.16 1020.23,1383.31 1020.73,1382.76 1021.23,1378.68 1021.73,1380.73 1022.23,1381.21 1022.73,1383.32 1023.23,1381.25 1023.73,1381.42 1024.23,1381.48 1024.73,1380.66 1025.23,1383.22 1025.73,1383.12 1026.23,1381.10 1026.73,1380.90 1027.24,1380.29 1027.74,1383.61 1028.24,1382.91 1028.74,1382.23 1029.24,1381.90 1029.74,1382.41 1030.24,1382.17 1030.74,1381.05 1031.24,1381.62 1031.74,1382.93 1032.24,1381.37 1032.74,1382.09 1033.24,1382.27 1033.74,1380.34 1034.24,1379.73 1034.74,1380.11 1035.24,1381.55 1035.74,1381.82 1036.24,1382.94 1036.74,1382.82 1037.24,1384.90 1037.74,1381.11 1038.24,1382.22 1038.74,1383.70 1039.24,1383.20 1039.74,1380.76 1040.24,1382.34 1040.74,1379.52 1041.24,1382.06 1041.74,1380.81 1042.24,1381.58 1042.74,1381.58 1043.24,1382.87 1043.74,1383.87 1044.24,1382.27 1044.74,1386.16 1045.24,1380.62 1045.74,1380.14 1046.24,1380.36 1046.74,1378.86 1047.24,1384.77 1047.74,1383.88 1048.24,1382.19 1048.74,1382.16 1049.24,1381.05 1049.74,1379.75 1050.24,1380.14 1050.74,1379.75 1051.24,1381.36 1051.74,1379.12 1052.24,1380.30 1052.74,1382.90 1053.24,1380.00 1053.74,1378.13 1054.24,1382.08 1054.74,1381.14 1055.25,1382.47 1055.75,1377.64 1056.25,1378.19 1056.75,1378.02 1057.25,1378.67 1057.75,1377.86 1058.25,1380.11 1058.75,1379.38 1059.25,1376.88 1059.75,1378.06 1060.25,1376.94 1060.75,1376.25 1061.25,1379.95 1061.75,1372.13 1062.25,1370.70 1062.75,1372.38 1063.25,1372.91 1063.75,1372.18 1064.25,1370.67 1064.75,1364.18 1065.25,1363.51 1065.75,1362.64 1066.25,1362.44 1066.75,1355.59 1067.25,1353.67 1067.75,1350.97 1068.25,1343.80 1068.75,1339.61 1069.25,1339.66 1069.75,1337.70 1070.25,1344.11 1070.75,1355.63 1071.25,1376.93 1071.75,1400.45 1072.25,1420.62 1072.75,1430.44 1073.25,1433.39 1073.75,1431.37 1074.25,1429.05 1074.75,1422.23 1075.25,1416.82 1075.75,1414.20 1076.25,1410.96 1076.75,1404.70 1077.25,1404.34 1077.75,1403.52 1078.25,1400.10 1078.75,1397.14 1079.25,1394.56 1079.75,1394.91 1080.25,1395.49 1080.75,1392.63 1081.25,1394.14 1081.75,1393.50 1082.25,1391.65 1082.75,1390.36 1083.25,1390.81 1083.76,1388.56 1084.26,1389.25 1084.76,1390.39 1085.26,1388.74 1085.76,1389.40 1086.26,1389.55 1086.76,1385.52 1087.26,1388.45 1087.76,1389.48 1088.26,1387.79 1088.76,1387.51 1089.26,1387.57 1089.76,1389.13 1090.26,1388.30 1090.76,1385.15 1091.26,1387.56 1091.76,1386.47 1092.26,1385.05 1092.76,1386.42 1093.26,1384.67 1093.76,1386.52 1094.26,1388.47 1094.76,1385.97 1095.26,1384.74 1095.76,1383.68 1096.26,1383.14 1096.76,1383.58 1097.26,1385.42 1097.76,1385.60 1098.26,1385.47 1098.76,1382.98 1099.26,1384.27 1099.76,1387.21 1100.26,1383.89 1100.76,1381.62 1101.26,1385.47 1101.76,1383.15 1102.26,1381.50 1102.76,1383.83 1103.26,1385.39 1103.76,1384.70 1104.26,1383.95 1104.76,1384.55 1105.26,1383.61 1105.76,1387.11 1106.26,1386.58 1106.76,1385.24 1107.26,1385.77 1107.76,1382.67 1108.26,1385.69 1108.76,1385.81 1109.26,1383.30 1109.76,1383.65 1110.26,1383.72 1110.76,1385.19 1111.26,1385.04 1111.77,1386.45 1112.27,1384.56 1112.77,1386.15 1113.27,1383.47 1113.77,1383.92 1114.27,1386.71 1114.77,1386.89 1115.27,1386.17 1115.77,1385.00 1116.27,1385.55 1116.77,1386.60 1117.27,1386.92 1117.77,1384.19 1118.27,1386.92 1118.77,1385.46 1119.27,1383.43 1119.77,1386.39 1120.27,1384.22 1120.77,1387.01 1121.27,1383.66 1121.77,1384.07 1122.27,1383.00 1122.77,1386.49 1123.27,1386.79 1123.77,1388.16 1124.27,1385.89 1124.77,1390.39 1125.27,1387.79 1125.77,1385.76 1126.27,1381.81 1126.77,1384.44 1127.27,1386.89 1127.77,1380.49 1128.27,1383.49 1128.77,1385.35 1129.27,1385.22 1129.77,1384.51 1130.27,1385.45 1130.77,1385.02 1131.27,1386.25 1131.77,1385.32 1132.27,1387.00 1132.77,1385.25 1133.27,1386.77 1133.77,1383.21 1134.27,1385.11 1134.77,1385.62 1135.27,1385.42 1135.77,1384.99 1136.27,1385.57 1136.77,1384.89 1137.27,1385.23 1137.77,1385.04 1138.27,1382.95 1138.77,1383.09 1139.27,1386.07 1139.78,1387.60 1140.28,1387.87 1140.78,1385.17 1141.28,1385.62 1141.78,1386.89 1142.28,1386.43 1142.78,1384.25 1143.28,1385.45 1143.78,1384.60 1144.28,1386.20 1144.78,1388.17 1145.28,1385.37 1145.78,1386.00 1146.28,1387.64 1146.78,1386.03 1147.28,1387.57 1147.78,1387.03 1148.28,1387.11 1148.78,1387.60 1149.28,1385.37 1149.78,1386.95 1150.28,1384.56 1150.78,1386.81 1151.28,1386.53 1151.78,1386.21 1152.28,1386.00 1152.78,1386.88 1153.28,1384.82 1153.78,1385.00 1154.28,1384.43 1154.78,1388.32 1155.28,1388.90 1155.78,1383.75 1156.28,1386.62 1156.78,1386.04 1157.28,1386.02 1157.78,1385.88 1158.28,1385.54 1158.78,1384.65 1159.28,1385.63 1159.78,1387.95 1160.28,1384.86 1160.78,1385.00 1161.28,1387.16 1161.78,1385.10 1162.28,1384.45 1162.78,1384.68 1163.28,1383.71 1163.78,1384.13 1164.28,1385.91 1164.78,1387.85 1165.28,1386.96 1165.78,1384.89 1166.28,1385.78 1166.78,1385.94 1167.28,1388.25 1167.78,1387.16 1168.29,1385.34 1168.79,1386.76 1169.29,1386.65 1169.79,1386.76 1170.29,1386.19 1170.79,1386.95 1171.29,1383.79 1171.79,1383.88 1172.29,1383.97 1172.79,1384.51 1173.29,1386.84 1173.79,1387.41 1174.29,1385.48 1174.79,1384.11 1175.29,1384.11 1175.79,1386.58 1176.29,1384.09 1176.79,1385.15 1177.29,1385.58 1177.79,1385.82 1178.29,1384.33 1178.79,1385.48 1179.29,1385.56 1179.79,1385.04 1180.29,1384.79 1180.79,1386.27 1181.29,1385.36 1181.79,1384.65 1182.29,1387.09 1182.79,1386.09 1183.29,1389.00 1183.79,1390.77 1184.29,1386.03 1184.79,1386.13 1185.29,1387.16 1185.79,1388.10 1186.29,1388.38 1186.79,1387.09 1187.29,1387.58 1187.79,1386.44 1188.29,1385.42 1188.79,1385.87 1189.29,1386.85 1189.79,1388.04 1190.29,1384.64 1190.79,1386.26 1191.29,1386.22 1191.79,1385.83 1192.29,1385.87 1192.79,1388.79 1193.29,1386.30 1193.79,1386.30 1194.29,1388.87 1194.79,1388.88 1195.29,1386.87 1195.79,1387.99 1196.30,1387.51 1196.80,1387.12 1197.30,1386.52 1197.80,1383.03 1198.30,1387.18 1198.80,1387.52 1199.30,1385.68 1199.80,1384.72 1200.30,1387.53 1200.80,1387.64 1201.30,1386.54 1201.80,1386.33 1202.30,1386.19 1202.80,1387.18 1203.30,1387.12 1203.80,1386.57 1204.30,1388.23 1204.80,1388.82 1205.30,1389.08 1205.80,1385.92 1206.30,1387.97 1206.80,1385.58 1207.30,1387.24 1207.80,1385.08 1208.30,1385.41 1208.80,1385.46 1209.30,1388.22 1209.80,1388.47 1210.30,1387.59" fill="none" stroke="#0000ff" stroke-width="1.1"/>
<polyline points="928.20,1464.72 928.70,1461.59 929.20,1465.54 929.70,1464.40 930.20,1462.38 930.70,1465.39 931.20,1464.18 931.70,1462.58 932.20,1464.32 932.70,1465.84 933.20,1465.22 933.70,1462.26 934.20,1465.78 934.70,1465.93 935.20,1465.33 935.70,1464.92 936.20,1466.13 936.70,1464.01 937.20,1461.91 937.70,1466.14 938.20,1463.23 938.70,1462.11 939.20,1464.96 939.70,1464.57 940.20,1463.70 940.70,1463.68 941.20,1465.60 941.70,1465.93 942.20,1463.80 942.71,1464.14 943.21,1464.07 943.71,1463.91 944.21,1462.53 944.71,1466.48 945.21,1463.71 945.71,1465.06 946.21,1465.83 946.71,1465.10 947.21,1465.49 947.71,1464.39 948.21,1462.78 948.71,1461.18 949.21,1463.95 949.71,1462.47 950.21,1463.26 950.71,1464.31 951.21,1461.72 951.71,1463.80 952.21,1465.51 952.71,1465.91 953.21,1461.49 953.71,1464.56 954.21,1465.78 954.71,1463.27 955.21,1463.22 955.71,1464.11 956.21,1464.67 956.71,1463.17 957.21,1465.25 957.71,1463.87 958.21,1462.84 958.71,1464.93 959.21,1464.42 959.71,1464.49 960.21,1466.81 960.71,1465.41 961.21,1462.38 961.71,1466.45 962.21,1466.10 962.71,1468.07 963.21,1465.81 963.71,1462.11 964.21,1464.90 964.71,1465.30 965.21,1463.96 965.71,1463.76 966.21,1465.87 966.71,1466.03 967.21,1463.24 967.71,1462.46 968.21,1465.65 968.71,1465.72 969.21,1465.98 969.71,1463.81 970.21,1466.52 970.72,1467.58 971.22,1465.49 971.72,1463.14 972.22,1466.50 972.72,1465.97 973.22,1465.38 973.72,1464.46 974.22,1465.96 974.72,1464.51 975.22,1466.76 975.72,1466.41 976.22,1465.83 976.72,1465.00 977.22,1467.07 977.72,1465.02 978.22,1464.30 978.72,1464.93 979.22,1463.06 979.72,1463.67 980.22,1465.87 980.72,1465.64 981.22,1465.49 981.72,1465.72 982.22,1464.04 982.72,1465.07 983.22,1465.95 983.72,1464.09 984.22,1464.55 984.72,1466.44 985.22,1465.51 985.72,1465.99 986.22,1460.91 986.72,1466.67 987.22,1464.66 987.72,1462.56 988.22,1462.13 988.72,1460.61 989.22,1463.21 989.72,1464.59 990.22,1466.32 990.72,1466.54 991.22,1466.87 991.72,1465.55 992.22,1461.85 992.72,1462.63 993.22,1463.66 993.72,1461.53 994.22,1464.38 994.72,1465.07 995.22,1466.87 995.72,1464.04 996.22,1463.81 996.72,1463.48 997.22,1465.97 997.72,1463.05 998.22,1463.34 998.73,1463.74 999.23,1466.73 999.73,1465.13 1000.23,1466.43 1000.73,1466.22 1001.23,1467.70 1001.73,1467.83 1002.23,1466.97 1002.73,1464.79 1003.23,1464.87 1003.73,1466.56 1004.23,1464.22 1004.73,1463.99 1005.23,1466.21 1005.73,1468.74 1006.23,1463.88 1006.73,1463.75 1007.23,1466.49 1007.73,1467.50 1008.23,1466.14 1008.73,1463.35 1009.23,1463.69 1009.73,1464.45 1010.23,1465.86 1010.73,1463.70 1011.23,1461.79 1011.73,1464.57 1012.23,1467.31 1012.73,1464.02 1013.23,1464.61 1013.73,1465.55 1014.23,1464.91 1014.73,1464.97 1015.23,1463.09 1015.73,1462.68 1016.23,1463.76 1016.73,1465.09 1017.23,1461.34 1017.73,1463.54 1018.23,1463.16 1018.73,1464.55 1019.23,1462.35 1019.73,1462.66 1020.23,1465.03 1020.73,1465.24 1021.23,1464.82 1021.73,1464.05 1022.23,1463.72 1022.73,1462.28 1023.23,1463.87 1023.73,1464.01 1024.23,1464.24 1024.73,1461.55 1025.23,1462.10 1025.73,1462.14 1026.23,1465.77 1026.73,1466.43 1027.24,1463.19 1027.74,1463.48 1028.24,1463.35 1028.74,1463.94 1029.24,1464.61 1029.74,1465.07 1030.24,1466.19 1030.74,1464.74 1031.24,1466.44 1031.74,1467.24 1032.24,1465.45 1032.74,1462.55 1033.24,1466.84 1033.74,1468.89 1034.24,1466.68 1034.74,1465.15 1035.24,1463.59 1035.74,1464.85 1036.24,1465.84 1036.74,1465.08 1037.24,1465.22 1037.74,1463.87 1038.24,1461.91 1038.74,1463.21 1039.24,1464.58 1039.74,1469.12 1040.24,1466.81 1040.74,1463.79 1041.24,1463.49 1041.74,1467.24 1042.24,1465.38 1042.74,1466.26 1043.24,1463.74 1043.74,1468.69 1044.24,1464.98 1044.74,1466.36 1045.24,1466.93 1045.74,1464.22 1046.24,1465.31 1046.74,1465.02 1047.24,1464.09 1047.74,1465.18 1048.24,1464.17 1048.74,1463.35 1049.24,1463.74 1049.74,1463.65 1050.24,1466.72 1050.74,1466.83 1051.24,1465.94 1051.74,1465.04 1052.24,1465.51 1052.74,1465.07 1053.24,1464.43 1053.74,1465.11 1054.24,1467.12 1054.74,1466.38 1055.25,1464.51 1055.75,1462.19 1056.25,1464.73 1056.75,1463.35 1057.25,1464.83 1057.75,1461.58 1058.25,1463.25 1058.75,1465.09 1059.25,1464.81 1059.75,1464.49 1060.25,1464.26 1060.75,1464.37 1061.25,1464.14 1061.75,1461.92 1062.25,1465.30 1062.75,1462.46 1063.25,1465.02 1063.75,1463.24 1064.25,1465.19 1064.75,1463.60 1065.25,1463.85 1065.75,1465.82 1066.25,1460.93 1066.75,1462.29 1067.25,1462.77 1067.75,1459.67 1068.25,1459.83 1068.75,1463.05 1069.25,1460.22 1069.75,1458.24 1070.25,1459.90 1070.75,1461.50 1071.25,1464.32 1071.75,1468.21 1072.25,1471.75 1072.75,1473.02 1073.25,1469.77 1073.75,1470.57 1074.25,1472.24 1074.75,1469.03 1075.25,1465.58 1075.75,1467.52 1076.25,1467.02 1076.75,1467.36 1077.25,1467.89 1077.75,1465.49 1078.25,1467.12 1078.75,1468.28 1079.25,1469.50 1079.75,1467.62 1080.25,1466.55 1080.75,1469.56 1081.25,1469.41 1081.75,1465.64 1082.25,1467.27 1082.75,1466.35 1083.25,1466.16 1083.76,1465.61 1084.26,1466.26 1084.76,1463.33 1085.26,1464.13 1085.76,1466.09 1086.26,1465.34 1086.76,1466.29 1087.26,1466.72 1087.76,1465.20 1088.26,1466.97 1088.76,1467.90 1089.26,1467.61 1089.76,1464.24 1090.26,1465.86 1090.76,1467.20 1091.26,1467.60 1091.76,1466.68 1092.26,1467.94 1092.76,1465.60 1093.26,1463.72 1093.76,1463.67 1094.26,1463.38 1094.76,1464.96 1095.26,1465.96 1095.76,1466.74 1096.26,1466.20 1096.76,1466.87 1097.26,1467.25 1097.76,1466.20 1098.26,1464.69 1098.76,1463.49 1099.26,1465.24 1099.76,1462.36 1100.26,1463.43 1100.76,1464.19 1101.26,1463.79 1101.76,1464.02 1102.26,1464.66 1102.76,1463.51 1103.26,1464.53 1103.76,1467.75 1104.26,1467.49 1104.76,1465.55 1105.26,1463.04 1105.76,1464.62 1106.26,1464.88 1106.76,1464.67 1107.26,1466.39 1107.76,1467.60 1108.26,1466.21 1108.76,1467.91 1109.26,1469.07 1109.76,1467.69 1110.26,1467.22 1110.76,1467.10 1111.26,1468.09 1111.77,1466.46 1112.27,1465.86 1112.77,1467.14 1113.27,1465.76 1113.77,1468.88 1114.27,1466.77 1114.77,1466.64 1115.27,1465.32 1115.77,1466.76 1116.27,1466.15 1116.77,1464.54 1117.27,1467.54 1117.77,1467.09 1118.27,1465.13 1118.77,1465.56 1119.27,1465.09 1119.77,1466.65 1120.27,1467.93 1120.77,1468.29 1121.27,1466.70 1121.77,1465.76 1122.27,1464.84 1122.77,1465.56 1123.27,1464.90 1123.77,1467.53 1124.27,1465.47 1124.77,1465.22 1125.27,1467.18 1125.77,1465.67 1126.27,1464.61 1126.77,1465.55 1127.27,1466.34 1127.77,1466.42 1128.27,1465.09 1128.77,1460.91 1129.27,1464.91 1129.77,1465.78 1130.27,1465.29 1130.77,1463.46 1131.27,1465.53 1131.77,1466.12 1132.27,1467.15 1132.77,1466.27 1133.27,1467.10 1133.77,1465.93 1134.27,1466.11 1134.77,1465.37 1135.27,1465.87 1135.77,1465.57 1136.27,1465.70 1136.77,1467.78 1137.27,1465.65 1137.77,1465.02 1138.27,1465.33 1138.77,1467.29 1139.27,1467.37 1139.78,1466.30 1140.28,1466.04 1140.78,1467.15 1141.28,1468.05 1141.78,1464.29 1142.28,1466.42 1142.78,1465.80 1143.28,1466.49 1143.78,1466.29 1144.28,1465.75 1144.78,1468.86 1145.28,1467.64 1145.78,1467.16 1146.28,1465.29 1146.78,1468.22 1147.28,1465.31 1147.78,1467.58 1148.28,1469.76 1148.78,1464.99 1149.28,1467.68 1149.78,1467.19 1150.28,1464.42 1150.78,1466.17 1151.28,1465.83 1151.78,1464.23 1152.28,1469.48 1152.78,1468.72 1153.28,1465.57 1153.78,1464.72 1154.28,1465.47 1154.78,1464.28 1155.28,1466.89 1155.78,1464.22 1156.28,1467.16 1156.78,1467.80 1157.28,1466.55 1157.78,1466.15 1158.28,1466.43 1158.78,1466.66 1159.28,1469.60 1159.78,1468.77 1160.28,1466.72 1160.78,1467.62 1161.28,1463.38 1161.78,1463.92 1162.28,1466.32 1162.78,1466.11 1163.28,1464.96 1163.78,1467.02 1164.28,1465.96 1164.78,1466.17 1165.28,1466.10 1165.78,1465.05 1166.28,1465.58 1166.78,1466.95 1167.28,1467.92 1167.78,1464.65 1168.29,1467.39 1168.79,1467.48 1169.29,1465.10 1169.79,1466.07 1170.29,1468.28 1170.79,1464.42 1171.29,1467.03 1171.79,1465.88 1172.29,1465.86 1172.79,1464.72 1173.29,1464.70 1173.79,1466.99 1174.29,1466.51 1174.79,1466.49 1175.29,1467.43 1175.79,1466.55 1176.29,1467.03 1176.79,1466.96 1177.29,1464.70 1177.79,1465.13 1178.29,1466.65 1178.79,1467.02 1179.29,1465.92 1179.79,1465.57 1180.29,1464.13 1180.79,1465.08 1181.29,1469.00 1181.79,1465.95 1182.29,1467.22 1182.79,1465.73 1183.29,1464.64 1183.79,1468.85 1184.29,1466.72 1184.79,1467.14 1185.29,1466.08 1185.79,1466.89 1186.29,1466.16 1186.79,1465.77 1187.29,1468.98 1187.79,1469.37 1188.29,1462.82 1188.79,1464.21 1189.29,1467.62 1189.79,1467.69 1190.29,1467.34 1190.79,1468.97 1191.29,1468.67 1191.79,1464.47 1192.29,1469.57 1192.79,1464.89 1193.29,1467.52 1193.79,1466.18 1194.29,1466.22 1194.79,1468.04 1195.29,1467.52 1195.79,1463.06 1196.30,1464.37 1196.80,1466.82 1197.30,1466.03 1197.80,1467.24 1198.30,1468.01 1198.80,1468.62 1199.30,1468.25 1199.80,1468.39 1200.30,1467.60 1200.80,1471.00 1201.30,1468.37 1201.80,1466.37 1202.30,1468.94 1202.80,1466.97 1203.30,1465.96 1203.80,1468.96 1204.30,1465.22 1204.80,1466.40 1205.30,1463.86 1205.80,1466.11 1206.30,1464.36 1206.80,1464.24 1207.30,1465.35 1207.80,1465.63 1208.30,1467.77 1208.80,1468.03 1209.30,1465.34 1209.80,1466.99 1210.30,1464.86" fill="none" stroke="#000" stroke-width="1"/>
<circle cx="1109" cy="1467.5" r="2.2" fill="#000"/>
<text x="788.3" y="1357.8" font-size="22.4" font-weight="normal" font-style="normal" text-anchor="start" fill="#000" >UV Irradiation</text>
<line x1="788.5" y1="1368.6" x2="926" y2="1368.6" stroke="#000" stroke-width="2.2"/>
<polygon points="936,1368.6 923.5,1363.8 923.5,1373.4" fill="#000"/>
<line x1="817.3" y1="1198.5" x2="855.8" y2="1198.5" stroke="#ff3030" stroke-width="1"/>
<text x="860.8" y="1204.5" font-size="17" font-weight="bold" font-style="normal" text-anchor="start" fill="#000" >PTB-PFPA</text>
<line x1="817.3" y1="1220.4" x2="855.8" y2="1220.4" stroke="#3030ff" stroke-width="1"/>
<text x="860.8" y="1226.4" font-size="17" font-weight="bold" font-style="normal" text-anchor="start" fill="#000" >MTB-PFPA</text>
<line x1="817.3" y1="1241.6" x2="855.8" y2="1241.6" stroke="#000" stroke-width="1"/>
<text x="860.8" y="1247.6" font-size="17" font-weight="bold" font-style="normal" text-anchor="start" fill="#000" >PFPA</text>
<rect x="530.6" y="1186.9" width="36.5" height="32.3" fill="#000"/>
<rect x="526.3" y="1182.6" width="36.5" height="32.3" fill="#fff" stroke="#777" stroke-width="0.7"/>
<text x="544.5" y="1206.4" font-size="21.2" font-weight="normal" font-style="normal" text-anchor="middle" fill="#000" >F</text>
</svg></div></body></html>
